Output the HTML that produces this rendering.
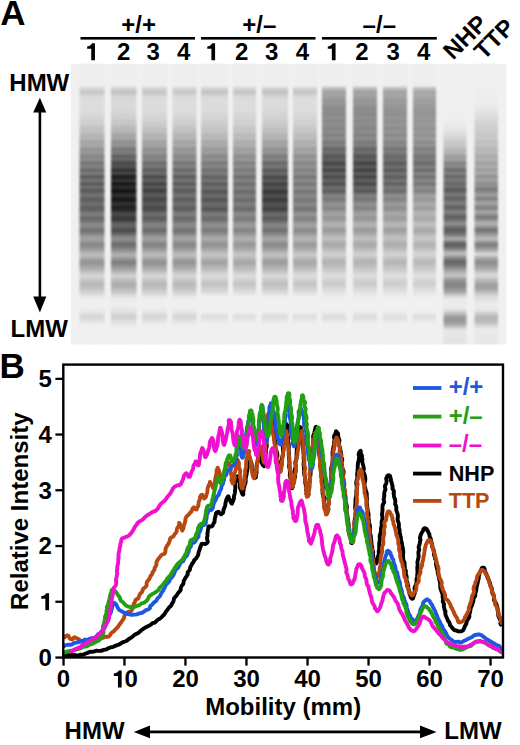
<!DOCTYPE html>
<html><head><meta charset="utf-8"><style>
html,body{margin:0;padding:0;background:#fff;width:520px;height:745px;overflow:hidden;}
svg{display:block;}
</style></head><body>
<svg width="520" height="745" viewBox="0 0 520 745">
<defs><linearGradient id="L0" x1="0" y1="0" x2="0" y2="1"><stop offset="0.0000" stop-color="rgb(238,238,238)"/><stop offset="0.0036" stop-color="rgb(238,238,238)"/><stop offset="0.0071" stop-color="rgb(238,238,238)"/><stop offset="0.0107" stop-color="rgb(238,238,238)"/><stop offset="0.0143" stop-color="rgb(238,238,238)"/><stop offset="0.0179" stop-color="rgb(238,238,238)"/><stop offset="0.0214" stop-color="rgb(238,238,238)"/><stop offset="0.0250" stop-color="rgb(238,238,238)"/><stop offset="0.0286" stop-color="rgb(238,238,238)"/><stop offset="0.0321" stop-color="rgb(238,238,238)"/><stop offset="0.0357" stop-color="rgb(238,238,238)"/><stop offset="0.0393" stop-color="rgb(238,238,238)"/><stop offset="0.0429" stop-color="rgb(238,238,238)"/><stop offset="0.0464" stop-color="rgb(238,238,238)"/><stop offset="0.0500" stop-color="rgb(238,238,238)"/><stop offset="0.0536" stop-color="rgb(238,238,238)"/><stop offset="0.0571" stop-color="rgb(238,238,238)"/><stop offset="0.0607" stop-color="rgb(238,238,238)"/><stop offset="0.0643" stop-color="rgb(238,238,238)"/><stop offset="0.0679" stop-color="rgb(238,238,238)"/><stop offset="0.0714" stop-color="rgb(238,238,238)"/><stop offset="0.0750" stop-color="rgb(238,238,238)"/><stop offset="0.0786" stop-color="rgb(238,238,238)"/><stop offset="0.0821" stop-color="rgb(222,222,222)"/><stop offset="0.0857" stop-color="rgb(218,218,218)"/><stop offset="0.0893" stop-color="rgb(212,212,212)"/><stop offset="0.0929" stop-color="rgb(205,205,205)"/><stop offset="0.0964" stop-color="rgb(200,200,200)"/><stop offset="0.1000" stop-color="rgb(199,199,199)"/><stop offset="0.1036" stop-color="rgb(200,200,200)"/><stop offset="0.1071" stop-color="rgb(204,204,204)"/><stop offset="0.1107" stop-color="rgb(210,210,210)"/><stop offset="0.1143" stop-color="rgb(214,214,214)"/><stop offset="0.1179" stop-color="rgb(217,217,217)"/><stop offset="0.1214" stop-color="rgb(219,219,219)"/><stop offset="0.1250" stop-color="rgb(220,220,220)"/><stop offset="0.1286" stop-color="rgb(220,220,220)"/><stop offset="0.1321" stop-color="rgb(220,220,220)"/><stop offset="0.1357" stop-color="rgb(221,221,221)"/><stop offset="0.1393" stop-color="rgb(221,221,221)"/><stop offset="0.1429" stop-color="rgb(221,221,221)"/><stop offset="0.1464" stop-color="rgb(221,221,221)"/><stop offset="0.1500" stop-color="rgb(220,220,220)"/><stop offset="0.1536" stop-color="rgb(220,220,220)"/><stop offset="0.1571" stop-color="rgb(220,220,220)"/><stop offset="0.1607" stop-color="rgb(220,220,220)"/><stop offset="0.1643" stop-color="rgb(220,220,220)"/><stop offset="0.1679" stop-color="rgb(219,219,219)"/><stop offset="0.1714" stop-color="rgb(218,218,218)"/><stop offset="0.1750" stop-color="rgb(217,217,217)"/><stop offset="0.1786" stop-color="rgb(216,216,216)"/><stop offset="0.1821" stop-color="rgb(216,216,216)"/><stop offset="0.1857" stop-color="rgb(215,215,215)"/><stop offset="0.1893" stop-color="rgb(214,214,214)"/><stop offset="0.1929" stop-color="rgb(213,213,213)"/><stop offset="0.1964" stop-color="rgb(211,211,211)"/><stop offset="0.2000" stop-color="rgb(209,209,209)"/><stop offset="0.2036" stop-color="rgb(207,207,207)"/><stop offset="0.2071" stop-color="rgb(206,206,206)"/><stop offset="0.2107" stop-color="rgb(206,206,206)"/><stop offset="0.2143" stop-color="rgb(205,205,205)"/><stop offset="0.2179" stop-color="rgb(204,204,204)"/><stop offset="0.2214" stop-color="rgb(201,201,201)"/><stop offset="0.2250" stop-color="rgb(197,197,197)"/><stop offset="0.2286" stop-color="rgb(194,194,194)"/><stop offset="0.2321" stop-color="rgb(193,193,193)"/><stop offset="0.2357" stop-color="rgb(193,193,193)"/><stop offset="0.2393" stop-color="rgb(194,194,194)"/><stop offset="0.2429" stop-color="rgb(192,192,192)"/><stop offset="0.2464" stop-color="rgb(188,188,188)"/><stop offset="0.2500" stop-color="rgb(183,183,183)"/><stop offset="0.2536" stop-color="rgb(179,179,179)"/><stop offset="0.2571" stop-color="rgb(179,179,179)"/><stop offset="0.2607" stop-color="rgb(181,181,181)"/><stop offset="0.2643" stop-color="rgb(183,183,183)"/><stop offset="0.2679" stop-color="rgb(181,181,181)"/><stop offset="0.2714" stop-color="rgb(175,175,175)"/><stop offset="0.2750" stop-color="rgb(167,167,167)"/><stop offset="0.2786" stop-color="rgb(162,162,162)"/><stop offset="0.2821" stop-color="rgb(163,163,163)"/><stop offset="0.2857" stop-color="rgb(168,168,168)"/><stop offset="0.2893" stop-color="rgb(170,170,170)"/><stop offset="0.2929" stop-color="rgb(168,168,168)"/><stop offset="0.2964" stop-color="rgb(160,160,160)"/><stop offset="0.3000" stop-color="rgb(151,151,151)"/><stop offset="0.3036" stop-color="rgb(147,147,147)"/><stop offset="0.3071" stop-color="rgb(147,147,147)"/><stop offset="0.3107" stop-color="rgb(151,151,151)"/><stop offset="0.3143" stop-color="rgb(155,155,155)"/><stop offset="0.3179" stop-color="rgb(155,155,155)"/><stop offset="0.3214" stop-color="rgb(147,147,147)"/><stop offset="0.3250" stop-color="rgb(137,137,137)"/><stop offset="0.3286" stop-color="rgb(132,132,132)"/><stop offset="0.3321" stop-color="rgb(133,133,133)"/><stop offset="0.3357" stop-color="rgb(139,139,139)"/><stop offset="0.3393" stop-color="rgb(144,144,144)"/><stop offset="0.3429" stop-color="rgb(142,142,142)"/><stop offset="0.3464" stop-color="rgb(133,133,133)"/><stop offset="0.3500" stop-color="rgb(122,122,122)"/><stop offset="0.3536" stop-color="rgb(116,116,116)"/><stop offset="0.3571" stop-color="rgb(119,119,119)"/><stop offset="0.3607" stop-color="rgb(127,127,127)"/><stop offset="0.3643" stop-color="rgb(132,132,132)"/><stop offset="0.3679" stop-color="rgb(131,131,131)"/><stop offset="0.3714" stop-color="rgb(123,123,123)"/><stop offset="0.3750" stop-color="rgb(110,110,110)"/><stop offset="0.3786" stop-color="rgb(100,100,100)"/><stop offset="0.3821" stop-color="rgb(108,108,108)"/><stop offset="0.3857" stop-color="rgb(120,120,120)"/><stop offset="0.3893" stop-color="rgb(126,126,126)"/><stop offset="0.3929" stop-color="rgb(121,121,121)"/><stop offset="0.3964" stop-color="rgb(109,109,109)"/><stop offset="0.4000" stop-color="rgb(95,95,95)"/><stop offset="0.4036" stop-color="rgb(86,86,86)"/><stop offset="0.4071" stop-color="rgb(95,95,95)"/><stop offset="0.4107" stop-color="rgb(108,108,108)"/><stop offset="0.4143" stop-color="rgb(119,119,119)"/><stop offset="0.4179" stop-color="rgb(119,119,119)"/><stop offset="0.4214" stop-color="rgb(107,107,107)"/><stop offset="0.4250" stop-color="rgb(94,94,94)"/><stop offset="0.4286" stop-color="rgb(84,84,84)"/><stop offset="0.4321" stop-color="rgb(94,94,94)"/><stop offset="0.4357" stop-color="rgb(107,107,107)"/><stop offset="0.4393" stop-color="rgb(119,119,119)"/><stop offset="0.4429" stop-color="rgb(110,110,110)"/><stop offset="0.4464" stop-color="rgb(96,96,96)"/><stop offset="0.4500" stop-color="rgb(84,84,84)"/><stop offset="0.4536" stop-color="rgb(88,88,88)"/><stop offset="0.4571" stop-color="rgb(96,96,96)"/><stop offset="0.4607" stop-color="rgb(104,104,104)"/><stop offset="0.4643" stop-color="rgb(112,112,112)"/><stop offset="0.4679" stop-color="rgb(117,117,117)"/><stop offset="0.4714" stop-color="rgb(116,116,116)"/><stop offset="0.4750" stop-color="rgb(107,107,107)"/><stop offset="0.4786" stop-color="rgb(99,99,99)"/><stop offset="0.4821" stop-color="rgb(92,92,92)"/><stop offset="0.4857" stop-color="rgb(88,88,88)"/><stop offset="0.4893" stop-color="rgb(97,97,97)"/><stop offset="0.4929" stop-color="rgb(105,105,105)"/><stop offset="0.4964" stop-color="rgb(112,112,112)"/><stop offset="0.5000" stop-color="rgb(117,117,117)"/><stop offset="0.5036" stop-color="rgb(109,109,109)"/><stop offset="0.5071" stop-color="rgb(103,103,103)"/><stop offset="0.5107" stop-color="rgb(97,97,97)"/><stop offset="0.5143" stop-color="rgb(90,90,90)"/><stop offset="0.5179" stop-color="rgb(92,92,92)"/><stop offset="0.5214" stop-color="rgb(99,99,99)"/><stop offset="0.5250" stop-color="rgb(106,106,106)"/><stop offset="0.5286" stop-color="rgb(114,114,114)"/><stop offset="0.5321" stop-color="rgb(121,121,121)"/><stop offset="0.5357" stop-color="rgb(129,129,129)"/><stop offset="0.5393" stop-color="rgb(127,127,127)"/><stop offset="0.5429" stop-color="rgb(119,119,119)"/><stop offset="0.5464" stop-color="rgb(111,111,111)"/><stop offset="0.5500" stop-color="rgb(103,103,103)"/><stop offset="0.5536" stop-color="rgb(103,103,103)"/><stop offset="0.5571" stop-color="rgb(110,110,110)"/><stop offset="0.5607" stop-color="rgb(116,116,116)"/><stop offset="0.5643" stop-color="rgb(123,123,123)"/><stop offset="0.5679" stop-color="rgb(130,130,130)"/><stop offset="0.5714" stop-color="rgb(136,136,136)"/><stop offset="0.5750" stop-color="rgb(143,143,143)"/><stop offset="0.5786" stop-color="rgb(139,139,139)"/><stop offset="0.5821" stop-color="rgb(132,132,132)"/><stop offset="0.5857" stop-color="rgb(125,125,125)"/><stop offset="0.5893" stop-color="rgb(119,119,119)"/><stop offset="0.5929" stop-color="rgb(112,112,112)"/><stop offset="0.5964" stop-color="rgb(112,112,112)"/><stop offset="0.6000" stop-color="rgb(119,119,119)"/><stop offset="0.6036" stop-color="rgb(127,127,127)"/><stop offset="0.6071" stop-color="rgb(134,134,134)"/><stop offset="0.6107" stop-color="rgb(142,142,142)"/><stop offset="0.6143" stop-color="rgb(149,149,149)"/><stop offset="0.6179" stop-color="rgb(157,157,157)"/><stop offset="0.6214" stop-color="rgb(164,164,164)"/><stop offset="0.6250" stop-color="rgb(167,167,167)"/><stop offset="0.6286" stop-color="rgb(160,160,160)"/><stop offset="0.6321" stop-color="rgb(154,154,154)"/><stop offset="0.6357" stop-color="rgb(147,147,147)"/><stop offset="0.6393" stop-color="rgb(140,140,140)"/><stop offset="0.6429" stop-color="rgb(133,133,133)"/><stop offset="0.6464" stop-color="rgb(133,133,133)"/><stop offset="0.6500" stop-color="rgb(138,138,138)"/><stop offset="0.6536" stop-color="rgb(143,143,143)"/><stop offset="0.6571" stop-color="rgb(149,149,149)"/><stop offset="0.6607" stop-color="rgb(154,154,154)"/><stop offset="0.6643" stop-color="rgb(160,160,160)"/><stop offset="0.6679" stop-color="rgb(166,166,166)"/><stop offset="0.6714" stop-color="rgb(173,173,173)"/><stop offset="0.6750" stop-color="rgb(179,179,179)"/><stop offset="0.6786" stop-color="rgb(187,187,187)"/><stop offset="0.6821" stop-color="rgb(192,192,192)"/><stop offset="0.6857" stop-color="rgb(185,185,185)"/><stop offset="0.6893" stop-color="rgb(179,179,179)"/><stop offset="0.6929" stop-color="rgb(172,172,172)"/><stop offset="0.6964" stop-color="rgb(165,165,165)"/><stop offset="0.7000" stop-color="rgb(159,159,159)"/><stop offset="0.7036" stop-color="rgb(152,152,152)"/><stop offset="0.7071" stop-color="rgb(144,144,144)"/><stop offset="0.7107" stop-color="rgb(148,148,148)"/><stop offset="0.7143" stop-color="rgb(152,152,152)"/><stop offset="0.7179" stop-color="rgb(157,157,157)"/><stop offset="0.7214" stop-color="rgb(161,161,161)"/><stop offset="0.7250" stop-color="rgb(166,166,166)"/><stop offset="0.7286" stop-color="rgb(171,171,171)"/><stop offset="0.7321" stop-color="rgb(176,176,176)"/><stop offset="0.7357" stop-color="rgb(181,181,181)"/><stop offset="0.7393" stop-color="rgb(187,187,187)"/><stop offset="0.7429" stop-color="rgb(193,193,193)"/><stop offset="0.7464" stop-color="rgb(199,199,199)"/><stop offset="0.7500" stop-color="rgb(206,206,206)"/><stop offset="0.7536" stop-color="rgb(213,213,213)"/><stop offset="0.7571" stop-color="rgb(216,216,216)"/><stop offset="0.7607" stop-color="rgb(212,212,212)"/><stop offset="0.7643" stop-color="rgb(207,207,207)"/><stop offset="0.7679" stop-color="rgb(203,203,203)"/><stop offset="0.7714" stop-color="rgb(199,199,199)"/><stop offset="0.7750" stop-color="rgb(195,195,195)"/><stop offset="0.7786" stop-color="rgb(191,191,191)"/><stop offset="0.7821" stop-color="rgb(188,188,188)"/><stop offset="0.7857" stop-color="rgb(184,184,184)"/><stop offset="0.7893" stop-color="rgb(183,183,183)"/><stop offset="0.7929" stop-color="rgb(187,187,187)"/><stop offset="0.7964" stop-color="rgb(191,191,191)"/><stop offset="0.8000" stop-color="rgb(194,194,194)"/><stop offset="0.8036" stop-color="rgb(198,198,198)"/><stop offset="0.8071" stop-color="rgb(201,201,201)"/><stop offset="0.8107" stop-color="rgb(204,204,204)"/><stop offset="0.8143" stop-color="rgb(208,208,208)"/><stop offset="0.8179" stop-color="rgb(213,213,213)"/><stop offset="0.8214" stop-color="rgb(217,217,217)"/><stop offset="0.8250" stop-color="rgb(222,222,222)"/><stop offset="0.8286" stop-color="rgb(227,227,227)"/><stop offset="0.8321" stop-color="rgb(233,233,233)"/><stop offset="0.8357" stop-color="rgb(236,236,236)"/><stop offset="0.8393" stop-color="rgb(236,236,236)"/><stop offset="0.8429" stop-color="rgb(237,237,237)"/><stop offset="0.8464" stop-color="rgb(238,238,238)"/><stop offset="0.8500" stop-color="rgb(239,239,239)"/><stop offset="0.8536" stop-color="rgb(240,240,240)"/><stop offset="0.8571" stop-color="rgb(240,240,240)"/><stop offset="0.8607" stop-color="rgb(240,240,240)"/><stop offset="0.8643" stop-color="rgb(239,239,239)"/><stop offset="0.8679" stop-color="rgb(238,238,238)"/><stop offset="0.8714" stop-color="rgb(236,236,236)"/><stop offset="0.8750" stop-color="rgb(235,235,235)"/><stop offset="0.8786" stop-color="rgb(233,233,233)"/><stop offset="0.8821" stop-color="rgb(231,231,231)"/><stop offset="0.8857" stop-color="rgb(228,228,228)"/><stop offset="0.8893" stop-color="rgb(225,225,225)"/><stop offset="0.8929" stop-color="rgb(221,221,221)"/><stop offset="0.8964" stop-color="rgb(218,218,218)"/><stop offset="0.9000" stop-color="rgb(215,215,215)"/><stop offset="0.9036" stop-color="rgb(213,213,213)"/><stop offset="0.9071" stop-color="rgb(215,215,215)"/><stop offset="0.9107" stop-color="rgb(219,219,219)"/><stop offset="0.9143" stop-color="rgb(222,222,222)"/><stop offset="0.9179" stop-color="rgb(226,226,226)"/><stop offset="0.9214" stop-color="rgb(230,230,230)"/><stop offset="0.9250" stop-color="rgb(233,233,233)"/><stop offset="0.9286" stop-color="rgb(235,235,235)"/><stop offset="0.9321" stop-color="rgb(237,237,237)"/><stop offset="0.9357" stop-color="rgb(239,239,239)"/><stop offset="0.9393" stop-color="rgb(240,240,240)"/><stop offset="0.9429" stop-color="rgb(240,240,240)"/><stop offset="0.9464" stop-color="rgb(240,240,240)"/><stop offset="0.9500" stop-color="rgb(240,240,240)"/><stop offset="0.9536" stop-color="rgb(240,240,240)"/><stop offset="0.9571" stop-color="rgb(240,240,240)"/><stop offset="0.9607" stop-color="rgb(240,240,240)"/><stop offset="0.9643" stop-color="rgb(240,240,240)"/><stop offset="0.9679" stop-color="rgb(240,240,240)"/><stop offset="0.9714" stop-color="rgb(240,240,240)"/><stop offset="0.9750" stop-color="rgb(240,240,240)"/><stop offset="0.9786" stop-color="rgb(240,240,240)"/><stop offset="0.9821" stop-color="rgb(240,240,240)"/><stop offset="0.9857" stop-color="rgb(240,240,240)"/><stop offset="0.9893" stop-color="rgb(240,240,240)"/><stop offset="0.9929" stop-color="rgb(240,240,240)"/><stop offset="0.9964" stop-color="rgb(240,240,240)"/><stop offset="1.0000" stop-color="rgb(240,240,240)"/></linearGradient><linearGradient id="L1" x1="0" y1="0" x2="0" y2="1"><stop offset="0.0000" stop-color="rgb(238,238,238)"/><stop offset="0.0036" stop-color="rgb(238,238,238)"/><stop offset="0.0071" stop-color="rgb(238,238,238)"/><stop offset="0.0107" stop-color="rgb(238,238,238)"/><stop offset="0.0143" stop-color="rgb(238,238,238)"/><stop offset="0.0179" stop-color="rgb(238,238,238)"/><stop offset="0.0214" stop-color="rgb(238,238,238)"/><stop offset="0.0250" stop-color="rgb(238,238,238)"/><stop offset="0.0286" stop-color="rgb(238,238,238)"/><stop offset="0.0321" stop-color="rgb(238,238,238)"/><stop offset="0.0357" stop-color="rgb(238,238,238)"/><stop offset="0.0393" stop-color="rgb(238,238,238)"/><stop offset="0.0429" stop-color="rgb(238,238,238)"/><stop offset="0.0464" stop-color="rgb(238,238,238)"/><stop offset="0.0500" stop-color="rgb(238,238,238)"/><stop offset="0.0536" stop-color="rgb(238,238,238)"/><stop offset="0.0571" stop-color="rgb(238,238,238)"/><stop offset="0.0607" stop-color="rgb(238,238,238)"/><stop offset="0.0643" stop-color="rgb(238,238,238)"/><stop offset="0.0679" stop-color="rgb(238,238,238)"/><stop offset="0.0714" stop-color="rgb(238,238,238)"/><stop offset="0.0750" stop-color="rgb(238,238,238)"/><stop offset="0.0786" stop-color="rgb(238,238,238)"/><stop offset="0.0821" stop-color="rgb(219,219,219)"/><stop offset="0.0857" stop-color="rgb(215,215,215)"/><stop offset="0.0893" stop-color="rgb(208,208,208)"/><stop offset="0.0929" stop-color="rgb(201,201,201)"/><stop offset="0.0964" stop-color="rgb(196,196,196)"/><stop offset="0.1000" stop-color="rgb(194,194,194)"/><stop offset="0.1036" stop-color="rgb(195,195,195)"/><stop offset="0.1071" stop-color="rgb(198,198,198)"/><stop offset="0.1107" stop-color="rgb(205,205,205)"/><stop offset="0.1143" stop-color="rgb(210,210,210)"/><stop offset="0.1179" stop-color="rgb(213,213,213)"/><stop offset="0.1214" stop-color="rgb(215,215,215)"/><stop offset="0.1250" stop-color="rgb(215,215,215)"/><stop offset="0.1286" stop-color="rgb(216,216,216)"/><stop offset="0.1321" stop-color="rgb(216,216,216)"/><stop offset="0.1357" stop-color="rgb(217,217,217)"/><stop offset="0.1393" stop-color="rgb(217,217,217)"/><stop offset="0.1429" stop-color="rgb(217,217,217)"/><stop offset="0.1464" stop-color="rgb(217,217,217)"/><stop offset="0.1500" stop-color="rgb(216,216,216)"/><stop offset="0.1536" stop-color="rgb(216,216,216)"/><stop offset="0.1571" stop-color="rgb(216,216,216)"/><stop offset="0.1607" stop-color="rgb(215,215,215)"/><stop offset="0.1643" stop-color="rgb(215,215,215)"/><stop offset="0.1679" stop-color="rgb(215,215,215)"/><stop offset="0.1714" stop-color="rgb(214,214,214)"/><stop offset="0.1750" stop-color="rgb(212,212,212)"/><stop offset="0.1786" stop-color="rgb(211,211,211)"/><stop offset="0.1821" stop-color="rgb(210,210,210)"/><stop offset="0.1857" stop-color="rgb(210,210,210)"/><stop offset="0.1893" stop-color="rgb(209,209,209)"/><stop offset="0.1929" stop-color="rgb(207,207,207)"/><stop offset="0.1964" stop-color="rgb(205,205,205)"/><stop offset="0.2000" stop-color="rgb(202,202,202)"/><stop offset="0.2036" stop-color="rgb(200,200,200)"/><stop offset="0.2071" stop-color="rgb(198,198,198)"/><stop offset="0.2107" stop-color="rgb(198,198,198)"/><stop offset="0.2143" stop-color="rgb(197,197,197)"/><stop offset="0.2179" stop-color="rgb(195,195,195)"/><stop offset="0.2214" stop-color="rgb(191,191,191)"/><stop offset="0.2250" stop-color="rgb(187,187,187)"/><stop offset="0.2286" stop-color="rgb(183,183,183)"/><stop offset="0.2321" stop-color="rgb(182,182,182)"/><stop offset="0.2357" stop-color="rgb(182,182,182)"/><stop offset="0.2393" stop-color="rgb(183,183,183)"/><stop offset="0.2429" stop-color="rgb(181,181,181)"/><stop offset="0.2464" stop-color="rgb(175,175,175)"/><stop offset="0.2500" stop-color="rgb(168,168,168)"/><stop offset="0.2536" stop-color="rgb(164,164,164)"/><stop offset="0.2571" stop-color="rgb(163,163,163)"/><stop offset="0.2607" stop-color="rgb(166,166,166)"/><stop offset="0.2643" stop-color="rgb(168,168,168)"/><stop offset="0.2679" stop-color="rgb(165,165,165)"/><stop offset="0.2714" stop-color="rgb(157,157,157)"/><stop offset="0.2750" stop-color="rgb(147,147,147)"/><stop offset="0.2786" stop-color="rgb(141,141,141)"/><stop offset="0.2821" stop-color="rgb(142,142,142)"/><stop offset="0.2857" stop-color="rgb(147,147,147)"/><stop offset="0.2893" stop-color="rgb(150,150,150)"/><stop offset="0.2929" stop-color="rgb(147,147,147)"/><stop offset="0.2964" stop-color="rgb(136,136,136)"/><stop offset="0.3000" stop-color="rgb(125,125,125)"/><stop offset="0.3036" stop-color="rgb(118,118,118)"/><stop offset="0.3071" stop-color="rgb(118,118,118)"/><stop offset="0.3107" stop-color="rgb(123,123,123)"/><stop offset="0.3143" stop-color="rgb(128,128,128)"/><stop offset="0.3179" stop-color="rgb(127,127,127)"/><stop offset="0.3214" stop-color="rgb(116,116,116)"/><stop offset="0.3250" stop-color="rgb(102,102,102)"/><stop offset="0.3286" stop-color="rgb(94,94,94)"/><stop offset="0.3321" stop-color="rgb(96,96,96)"/><stop offset="0.3357" stop-color="rgb(103,103,103)"/><stop offset="0.3393" stop-color="rgb(109,109,109)"/><stop offset="0.3429" stop-color="rgb(105,105,105)"/><stop offset="0.3464" stop-color="rgb(93,93,93)"/><stop offset="0.3500" stop-color="rgb(78,78,78)"/><stop offset="0.3536" stop-color="rgb(69,69,69)"/><stop offset="0.3571" stop-color="rgb(72,72,72)"/><stop offset="0.3607" stop-color="rgb(81,81,81)"/><stop offset="0.3643" stop-color="rgb(89,89,89)"/><stop offset="0.3679" stop-color="rgb(86,86,86)"/><stop offset="0.3714" stop-color="rgb(74,74,74)"/><stop offset="0.3750" stop-color="rgb(56,56,56)"/><stop offset="0.3786" stop-color="rgb(41,41,41)"/><stop offset="0.3821" stop-color="rgb(50,50,50)"/><stop offset="0.3857" stop-color="rgb(66,66,66)"/><stop offset="0.3893" stop-color="rgb(74,74,74)"/><stop offset="0.3929" stop-color="rgb(66,66,66)"/><stop offset="0.3964" stop-color="rgb(49,49,49)"/><stop offset="0.4000" stop-color="rgb(30,30,30)"/><stop offset="0.4036" stop-color="rgb(25,25,25)"/><stop offset="0.4071" stop-color="rgb(28,28,28)"/><stop offset="0.4107" stop-color="rgb(44,44,44)"/><stop offset="0.4143" stop-color="rgb(58,58,58)"/><stop offset="0.4179" stop-color="rgb(58,58,58)"/><stop offset="0.4214" stop-color="rgb(41,41,41)"/><stop offset="0.4250" stop-color="rgb(25,25,25)"/><stop offset="0.4286" stop-color="rgb(25,25,25)"/><stop offset="0.4321" stop-color="rgb(25,25,25)"/><stop offset="0.4357" stop-color="rgb(39,39,39)"/><stop offset="0.4393" stop-color="rgb(55,55,55)"/><stop offset="0.4429" stop-color="rgb(42,42,42)"/><stop offset="0.4464" stop-color="rgb(25,25,25)"/><stop offset="0.4500" stop-color="rgb(25,25,25)"/><stop offset="0.4536" stop-color="rgb(25,25,25)"/><stop offset="0.4571" stop-color="rgb(25,25,25)"/><stop offset="0.4607" stop-color="rgb(34,34,34)"/><stop offset="0.4643" stop-color="rgb(44,44,44)"/><stop offset="0.4679" stop-color="rgb(51,51,51)"/><stop offset="0.4714" stop-color="rgb(48,48,48)"/><stop offset="0.4750" stop-color="rgb(37,37,37)"/><stop offset="0.4786" stop-color="rgb(28,28,28)"/><stop offset="0.4821" stop-color="rgb(25,25,25)"/><stop offset="0.4857" stop-color="rgb(25,25,25)"/><stop offset="0.4893" stop-color="rgb(28,28,28)"/><stop offset="0.4929" stop-color="rgb(38,38,38)"/><stop offset="0.4964" stop-color="rgb(48,48,48)"/><stop offset="0.5000" stop-color="rgb(54,54,54)"/><stop offset="0.5036" stop-color="rgb(46,46,46)"/><stop offset="0.5071" stop-color="rgb(39,39,39)"/><stop offset="0.5107" stop-color="rgb(32,32,32)"/><stop offset="0.5143" stop-color="rgb(25,25,25)"/><stop offset="0.5179" stop-color="rgb(28,28,28)"/><stop offset="0.5214" stop-color="rgb(38,38,38)"/><stop offset="0.5250" stop-color="rgb(47,47,47)"/><stop offset="0.5286" stop-color="rgb(58,58,58)"/><stop offset="0.5321" stop-color="rgb(68,68,68)"/><stop offset="0.5357" stop-color="rgb(79,79,79)"/><stop offset="0.5393" stop-color="rgb(77,77,77)"/><stop offset="0.5429" stop-color="rgb(69,69,69)"/><stop offset="0.5464" stop-color="rgb(60,60,60)"/><stop offset="0.5500" stop-color="rgb(51,51,51)"/><stop offset="0.5536" stop-color="rgb(52,52,52)"/><stop offset="0.5571" stop-color="rgb(61,61,61)"/><stop offset="0.5607" stop-color="rgb(70,70,70)"/><stop offset="0.5643" stop-color="rgb(80,80,80)"/><stop offset="0.5679" stop-color="rgb(89,89,89)"/><stop offset="0.5714" stop-color="rgb(98,98,98)"/><stop offset="0.5750" stop-color="rgb(107,107,107)"/><stop offset="0.5786" stop-color="rgb(103,103,103)"/><stop offset="0.5821" stop-color="rgb(96,96,96)"/><stop offset="0.5857" stop-color="rgb(88,88,88)"/><stop offset="0.5893" stop-color="rgb(81,81,81)"/><stop offset="0.5929" stop-color="rgb(73,73,73)"/><stop offset="0.5964" stop-color="rgb(74,74,74)"/><stop offset="0.6000" stop-color="rgb(84,84,84)"/><stop offset="0.6036" stop-color="rgb(93,93,93)"/><stop offset="0.6071" stop-color="rgb(103,103,103)"/><stop offset="0.6107" stop-color="rgb(113,113,113)"/><stop offset="0.6143" stop-color="rgb(123,123,123)"/><stop offset="0.6179" stop-color="rgb(132,132,132)"/><stop offset="0.6214" stop-color="rgb(142,142,142)"/><stop offset="0.6250" stop-color="rgb(146,146,146)"/><stop offset="0.6286" stop-color="rgb(139,139,139)"/><stop offset="0.6321" stop-color="rgb(131,131,131)"/><stop offset="0.6357" stop-color="rgb(123,123,123)"/><stop offset="0.6393" stop-color="rgb(115,115,115)"/><stop offset="0.6429" stop-color="rgb(107,107,107)"/><stop offset="0.6464" stop-color="rgb(107,107,107)"/><stop offset="0.6500" stop-color="rgb(113,113,113)"/><stop offset="0.6536" stop-color="rgb(120,120,120)"/><stop offset="0.6571" stop-color="rgb(127,127,127)"/><stop offset="0.6607" stop-color="rgb(134,134,134)"/><stop offset="0.6643" stop-color="rgb(141,141,141)"/><stop offset="0.6679" stop-color="rgb(149,149,149)"/><stop offset="0.6714" stop-color="rgb(157,157,157)"/><stop offset="0.6750" stop-color="rgb(165,165,165)"/><stop offset="0.6786" stop-color="rgb(174,174,174)"/><stop offset="0.6821" stop-color="rgb(181,181,181)"/><stop offset="0.6857" stop-color="rgb(173,173,173)"/><stop offset="0.6893" stop-color="rgb(165,165,165)"/><stop offset="0.6929" stop-color="rgb(157,157,157)"/><stop offset="0.6964" stop-color="rgb(149,149,149)"/><stop offset="0.7000" stop-color="rgb(141,141,141)"/><stop offset="0.7036" stop-color="rgb(132,132,132)"/><stop offset="0.7071" stop-color="rgb(124,124,124)"/><stop offset="0.7107" stop-color="rgb(128,128,128)"/><stop offset="0.7143" stop-color="rgb(133,133,133)"/><stop offset="0.7179" stop-color="rgb(139,139,139)"/><stop offset="0.7214" stop-color="rgb(145,145,145)"/><stop offset="0.7250" stop-color="rgb(151,151,151)"/><stop offset="0.7286" stop-color="rgb(156,156,156)"/><stop offset="0.7321" stop-color="rgb(162,162,162)"/><stop offset="0.7357" stop-color="rgb(169,169,169)"/><stop offset="0.7393" stop-color="rgb(175,175,175)"/><stop offset="0.7429" stop-color="rgb(183,183,183)"/><stop offset="0.7464" stop-color="rgb(190,190,190)"/><stop offset="0.7500" stop-color="rgb(198,198,198)"/><stop offset="0.7536" stop-color="rgb(206,206,206)"/><stop offset="0.7571" stop-color="rgb(211,211,211)"/><stop offset="0.7607" stop-color="rgb(205,205,205)"/><stop offset="0.7643" stop-color="rgb(200,200,200)"/><stop offset="0.7679" stop-color="rgb(195,195,195)"/><stop offset="0.7714" stop-color="rgb(189,189,189)"/><stop offset="0.7750" stop-color="rgb(185,185,185)"/><stop offset="0.7786" stop-color="rgb(180,180,180)"/><stop offset="0.7821" stop-color="rgb(175,175,175)"/><stop offset="0.7857" stop-color="rgb(171,171,171)"/><stop offset="0.7893" stop-color="rgb(170,170,170)"/><stop offset="0.7929" stop-color="rgb(174,174,174)"/><stop offset="0.7964" stop-color="rgb(179,179,179)"/><stop offset="0.8000" stop-color="rgb(183,183,183)"/><stop offset="0.8036" stop-color="rgb(187,187,187)"/><stop offset="0.8071" stop-color="rgb(191,191,191)"/><stop offset="0.8107" stop-color="rgb(194,194,194)"/><stop offset="0.8143" stop-color="rgb(199,199,199)"/><stop offset="0.8179" stop-color="rgb(205,205,205)"/><stop offset="0.8214" stop-color="rgb(210,210,210)"/><stop offset="0.8250" stop-color="rgb(216,216,216)"/><stop offset="0.8286" stop-color="rgb(222,222,222)"/><stop offset="0.8321" stop-color="rgb(228,228,228)"/><stop offset="0.8357" stop-color="rgb(231,231,231)"/><stop offset="0.8393" stop-color="rgb(232,232,232)"/><stop offset="0.8429" stop-color="rgb(233,233,233)"/><stop offset="0.8464" stop-color="rgb(234,234,234)"/><stop offset="0.8500" stop-color="rgb(235,235,235)"/><stop offset="0.8536" stop-color="rgb(236,236,236)"/><stop offset="0.8571" stop-color="rgb(238,238,238)"/><stop offset="0.8607" stop-color="rgb(237,237,237)"/><stop offset="0.8643" stop-color="rgb(236,236,236)"/><stop offset="0.8679" stop-color="rgb(234,234,234)"/><stop offset="0.8714" stop-color="rgb(232,232,232)"/><stop offset="0.8750" stop-color="rgb(231,231,231)"/><stop offset="0.8786" stop-color="rgb(229,229,229)"/><stop offset="0.8821" stop-color="rgb(226,226,226)"/><stop offset="0.8857" stop-color="rgb(223,223,223)"/><stop offset="0.8893" stop-color="rgb(219,219,219)"/><stop offset="0.8929" stop-color="rgb(215,215,215)"/><stop offset="0.8964" stop-color="rgb(212,212,212)"/><stop offset="0.9000" stop-color="rgb(208,208,208)"/><stop offset="0.9036" stop-color="rgb(207,207,207)"/><stop offset="0.9071" stop-color="rgb(209,209,209)"/><stop offset="0.9107" stop-color="rgb(213,213,213)"/><stop offset="0.9143" stop-color="rgb(217,217,217)"/><stop offset="0.9179" stop-color="rgb(221,221,221)"/><stop offset="0.9214" stop-color="rgb(225,225,225)"/><stop offset="0.9250" stop-color="rgb(228,228,228)"/><stop offset="0.9286" stop-color="rgb(231,231,231)"/><stop offset="0.9321" stop-color="rgb(233,233,233)"/><stop offset="0.9357" stop-color="rgb(235,235,235)"/><stop offset="0.9393" stop-color="rgb(237,237,237)"/><stop offset="0.9429" stop-color="rgb(239,239,239)"/><stop offset="0.9464" stop-color="rgb(240,240,240)"/><stop offset="0.9500" stop-color="rgb(240,240,240)"/><stop offset="0.9536" stop-color="rgb(240,240,240)"/><stop offset="0.9571" stop-color="rgb(240,240,240)"/><stop offset="0.9607" stop-color="rgb(240,240,240)"/><stop offset="0.9643" stop-color="rgb(240,240,240)"/><stop offset="0.9679" stop-color="rgb(240,240,240)"/><stop offset="0.9714" stop-color="rgb(240,240,240)"/><stop offset="0.9750" stop-color="rgb(240,240,240)"/><stop offset="0.9786" stop-color="rgb(240,240,240)"/><stop offset="0.9821" stop-color="rgb(240,240,240)"/><stop offset="0.9857" stop-color="rgb(240,240,240)"/><stop offset="0.9893" stop-color="rgb(240,240,240)"/><stop offset="0.9929" stop-color="rgb(240,240,240)"/><stop offset="0.9964" stop-color="rgb(240,240,240)"/><stop offset="1.0000" stop-color="rgb(240,240,240)"/></linearGradient><linearGradient id="L2" x1="0" y1="0" x2="0" y2="1"><stop offset="0.0000" stop-color="rgb(238,238,238)"/><stop offset="0.0036" stop-color="rgb(238,238,238)"/><stop offset="0.0071" stop-color="rgb(238,238,238)"/><stop offset="0.0107" stop-color="rgb(238,238,238)"/><stop offset="0.0143" stop-color="rgb(238,238,238)"/><stop offset="0.0179" stop-color="rgb(238,238,238)"/><stop offset="0.0214" stop-color="rgb(238,238,238)"/><stop offset="0.0250" stop-color="rgb(238,238,238)"/><stop offset="0.0286" stop-color="rgb(238,238,238)"/><stop offset="0.0321" stop-color="rgb(238,238,238)"/><stop offset="0.0357" stop-color="rgb(238,238,238)"/><stop offset="0.0393" stop-color="rgb(238,238,238)"/><stop offset="0.0429" stop-color="rgb(238,238,238)"/><stop offset="0.0464" stop-color="rgb(238,238,238)"/><stop offset="0.0500" stop-color="rgb(238,238,238)"/><stop offset="0.0536" stop-color="rgb(238,238,238)"/><stop offset="0.0571" stop-color="rgb(238,238,238)"/><stop offset="0.0607" stop-color="rgb(238,238,238)"/><stop offset="0.0643" stop-color="rgb(238,238,238)"/><stop offset="0.0679" stop-color="rgb(238,238,238)"/><stop offset="0.0714" stop-color="rgb(238,238,238)"/><stop offset="0.0750" stop-color="rgb(238,238,238)"/><stop offset="0.0786" stop-color="rgb(238,238,238)"/><stop offset="0.0821" stop-color="rgb(222,222,222)"/><stop offset="0.0857" stop-color="rgb(218,218,218)"/><stop offset="0.0893" stop-color="rgb(211,211,211)"/><stop offset="0.0929" stop-color="rgb(205,205,205)"/><stop offset="0.0964" stop-color="rgb(200,200,200)"/><stop offset="0.1000" stop-color="rgb(198,198,198)"/><stop offset="0.1036" stop-color="rgb(199,199,199)"/><stop offset="0.1071" stop-color="rgb(203,203,203)"/><stop offset="0.1107" stop-color="rgb(209,209,209)"/><stop offset="0.1143" stop-color="rgb(214,214,214)"/><stop offset="0.1179" stop-color="rgb(217,217,217)"/><stop offset="0.1214" stop-color="rgb(219,219,219)"/><stop offset="0.1250" stop-color="rgb(219,219,219)"/><stop offset="0.1286" stop-color="rgb(220,220,220)"/><stop offset="0.1321" stop-color="rgb(220,220,220)"/><stop offset="0.1357" stop-color="rgb(220,220,220)"/><stop offset="0.1393" stop-color="rgb(221,221,221)"/><stop offset="0.1429" stop-color="rgb(220,220,220)"/><stop offset="0.1464" stop-color="rgb(220,220,220)"/><stop offset="0.1500" stop-color="rgb(220,220,220)"/><stop offset="0.1536" stop-color="rgb(220,220,220)"/><stop offset="0.1571" stop-color="rgb(219,219,219)"/><stop offset="0.1607" stop-color="rgb(219,219,219)"/><stop offset="0.1643" stop-color="rgb(219,219,219)"/><stop offset="0.1679" stop-color="rgb(219,219,219)"/><stop offset="0.1714" stop-color="rgb(218,218,218)"/><stop offset="0.1750" stop-color="rgb(217,217,217)"/><stop offset="0.1786" stop-color="rgb(216,216,216)"/><stop offset="0.1821" stop-color="rgb(215,215,215)"/><stop offset="0.1857" stop-color="rgb(215,215,215)"/><stop offset="0.1893" stop-color="rgb(214,214,214)"/><stop offset="0.1929" stop-color="rgb(213,213,213)"/><stop offset="0.1964" stop-color="rgb(211,211,211)"/><stop offset="0.2000" stop-color="rgb(208,208,208)"/><stop offset="0.2036" stop-color="rgb(206,206,206)"/><stop offset="0.2071" stop-color="rgb(205,205,205)"/><stop offset="0.2107" stop-color="rgb(205,205,205)"/><stop offset="0.2143" stop-color="rgb(204,204,204)"/><stop offset="0.2179" stop-color="rgb(203,203,203)"/><stop offset="0.2214" stop-color="rgb(200,200,200)"/><stop offset="0.2250" stop-color="rgb(196,196,196)"/><stop offset="0.2286" stop-color="rgb(193,193,193)"/><stop offset="0.2321" stop-color="rgb(192,192,192)"/><stop offset="0.2357" stop-color="rgb(192,192,192)"/><stop offset="0.2393" stop-color="rgb(193,193,193)"/><stop offset="0.2429" stop-color="rgb(191,191,191)"/><stop offset="0.2464" stop-color="rgb(187,187,187)"/><stop offset="0.2500" stop-color="rgb(181,181,181)"/><stop offset="0.2536" stop-color="rgb(177,177,177)"/><stop offset="0.2571" stop-color="rgb(177,177,177)"/><stop offset="0.2607" stop-color="rgb(179,179,179)"/><stop offset="0.2643" stop-color="rgb(181,181,181)"/><stop offset="0.2679" stop-color="rgb(179,179,179)"/><stop offset="0.2714" stop-color="rgb(173,173,173)"/><stop offset="0.2750" stop-color="rgb(165,165,165)"/><stop offset="0.2786" stop-color="rgb(160,160,160)"/><stop offset="0.2821" stop-color="rgb(161,161,161)"/><stop offset="0.2857" stop-color="rgb(165,165,165)"/><stop offset="0.2893" stop-color="rgb(168,168,168)"/><stop offset="0.2929" stop-color="rgb(165,165,165)"/><stop offset="0.2964" stop-color="rgb(157,157,157)"/><stop offset="0.3000" stop-color="rgb(148,148,148)"/><stop offset="0.3036" stop-color="rgb(143,143,143)"/><stop offset="0.3071" stop-color="rgb(144,144,144)"/><stop offset="0.3107" stop-color="rgb(147,147,147)"/><stop offset="0.3143" stop-color="rgb(152,152,152)"/><stop offset="0.3179" stop-color="rgb(151,151,151)"/><stop offset="0.3214" stop-color="rgb(143,143,143)"/><stop offset="0.3250" stop-color="rgb(132,132,132)"/><stop offset="0.3286" stop-color="rgb(126,126,126)"/><stop offset="0.3321" stop-color="rgb(127,127,127)"/><stop offset="0.3357" stop-color="rgb(133,133,133)"/><stop offset="0.3393" stop-color="rgb(138,138,138)"/><stop offset="0.3429" stop-color="rgb(135,135,135)"/><stop offset="0.3464" stop-color="rgb(126,126,126)"/><stop offset="0.3500" stop-color="rgb(114,114,114)"/><stop offset="0.3536" stop-color="rgb(107,107,107)"/><stop offset="0.3571" stop-color="rgb(110,110,110)"/><stop offset="0.3607" stop-color="rgb(118,118,118)"/><stop offset="0.3643" stop-color="rgb(123,123,123)"/><stop offset="0.3679" stop-color="rgb(122,122,122)"/><stop offset="0.3714" stop-color="rgb(113,113,113)"/><stop offset="0.3750" stop-color="rgb(98,98,98)"/><stop offset="0.3786" stop-color="rgb(87,87,87)"/><stop offset="0.3821" stop-color="rgb(94,94,94)"/><stop offset="0.3857" stop-color="rgb(107,107,107)"/><stop offset="0.3893" stop-color="rgb(114,114,114)"/><stop offset="0.3929" stop-color="rgb(107,107,107)"/><stop offset="0.3964" stop-color="rgb(94,94,94)"/><stop offset="0.4000" stop-color="rgb(78,78,78)"/><stop offset="0.4036" stop-color="rgb(68,68,68)"/><stop offset="0.4071" stop-color="rgb(77,77,77)"/><stop offset="0.4107" stop-color="rgb(90,90,90)"/><stop offset="0.4143" stop-color="rgb(101,101,101)"/><stop offset="0.4179" stop-color="rgb(101,101,101)"/><stop offset="0.4214" stop-color="rgb(88,88,88)"/><stop offset="0.4250" stop-color="rgb(73,73,73)"/><stop offset="0.4286" stop-color="rgb(62,62,62)"/><stop offset="0.4321" stop-color="rgb(72,72,72)"/><stop offset="0.4357" stop-color="rgb(86,86,86)"/><stop offset="0.4393" stop-color="rgb(98,98,98)"/><stop offset="0.4429" stop-color="rgb(88,88,88)"/><stop offset="0.4464" stop-color="rgb(74,74,74)"/><stop offset="0.4500" stop-color="rgb(59,59,59)"/><stop offset="0.4536" stop-color="rgb(64,64,64)"/><stop offset="0.4571" stop-color="rgb(71,71,71)"/><stop offset="0.4607" stop-color="rgb(81,81,81)"/><stop offset="0.4643" stop-color="rgb(89,89,89)"/><stop offset="0.4679" stop-color="rgb(94,94,94)"/><stop offset="0.4714" stop-color="rgb(92,92,92)"/><stop offset="0.4750" stop-color="rgb(83,83,83)"/><stop offset="0.4786" stop-color="rgb(75,75,75)"/><stop offset="0.4821" stop-color="rgb(68,68,68)"/><stop offset="0.4857" stop-color="rgb(64,64,64)"/><stop offset="0.4893" stop-color="rgb(74,74,74)"/><stop offset="0.4929" stop-color="rgb(83,83,83)"/><stop offset="0.4964" stop-color="rgb(90,90,90)"/><stop offset="0.5000" stop-color="rgb(95,95,95)"/><stop offset="0.5036" stop-color="rgb(88,88,88)"/><stop offset="0.5071" stop-color="rgb(82,82,82)"/><stop offset="0.5107" stop-color="rgb(76,76,76)"/><stop offset="0.5143" stop-color="rgb(70,70,70)"/><stop offset="0.5179" stop-color="rgb(73,73,73)"/><stop offset="0.5214" stop-color="rgb(80,80,80)"/><stop offset="0.5250" stop-color="rgb(88,88,88)"/><stop offset="0.5286" stop-color="rgb(96,96,96)"/><stop offset="0.5321" stop-color="rgb(105,105,105)"/><stop offset="0.5357" stop-color="rgb(114,114,114)"/><stop offset="0.5393" stop-color="rgb(112,112,112)"/><stop offset="0.5429" stop-color="rgb(105,105,105)"/><stop offset="0.5464" stop-color="rgb(97,97,97)"/><stop offset="0.5500" stop-color="rgb(89,89,89)"/><stop offset="0.5536" stop-color="rgb(90,90,90)"/><stop offset="0.5571" stop-color="rgb(98,98,98)"/><stop offset="0.5607" stop-color="rgb(105,105,105)"/><stop offset="0.5643" stop-color="rgb(112,112,112)"/><stop offset="0.5679" stop-color="rgb(120,120,120)"/><stop offset="0.5714" stop-color="rgb(127,127,127)"/><stop offset="0.5750" stop-color="rgb(135,135,135)"/><stop offset="0.5786" stop-color="rgb(131,131,131)"/><stop offset="0.5821" stop-color="rgb(124,124,124)"/><stop offset="0.5857" stop-color="rgb(118,118,118)"/><stop offset="0.5893" stop-color="rgb(111,111,111)"/><stop offset="0.5929" stop-color="rgb(105,105,105)"/><stop offset="0.5964" stop-color="rgb(105,105,105)"/><stop offset="0.6000" stop-color="rgb(113,113,113)"/><stop offset="0.6036" stop-color="rgb(121,121,121)"/><stop offset="0.6071" stop-color="rgb(129,129,129)"/><stop offset="0.6107" stop-color="rgb(137,137,137)"/><stop offset="0.6143" stop-color="rgb(145,145,145)"/><stop offset="0.6179" stop-color="rgb(153,153,153)"/><stop offset="0.6214" stop-color="rgb(161,161,161)"/><stop offset="0.6250" stop-color="rgb(164,164,164)"/><stop offset="0.6286" stop-color="rgb(157,157,157)"/><stop offset="0.6321" stop-color="rgb(151,151,151)"/><stop offset="0.6357" stop-color="rgb(144,144,144)"/><stop offset="0.6393" stop-color="rgb(137,137,137)"/><stop offset="0.6429" stop-color="rgb(130,130,130)"/><stop offset="0.6464" stop-color="rgb(130,130,130)"/><stop offset="0.6500" stop-color="rgb(135,135,135)"/><stop offset="0.6536" stop-color="rgb(140,140,140)"/><stop offset="0.6571" stop-color="rgb(146,146,146)"/><stop offset="0.6607" stop-color="rgb(152,152,152)"/><stop offset="0.6643" stop-color="rgb(158,158,158)"/><stop offset="0.6679" stop-color="rgb(164,164,164)"/><stop offset="0.6714" stop-color="rgb(171,171,171)"/><stop offset="0.6750" stop-color="rgb(178,178,178)"/><stop offset="0.6786" stop-color="rgb(185,185,185)"/><stop offset="0.6821" stop-color="rgb(191,191,191)"/><stop offset="0.6857" stop-color="rgb(184,184,184)"/><stop offset="0.6893" stop-color="rgb(177,177,177)"/><stop offset="0.6929" stop-color="rgb(171,171,171)"/><stop offset="0.6964" stop-color="rgb(164,164,164)"/><stop offset="0.7000" stop-color="rgb(157,157,157)"/><stop offset="0.7036" stop-color="rgb(150,150,150)"/><stop offset="0.7071" stop-color="rgb(142,142,142)"/><stop offset="0.7107" stop-color="rgb(145,145,145)"/><stop offset="0.7143" stop-color="rgb(150,150,150)"/><stop offset="0.7179" stop-color="rgb(155,155,155)"/><stop offset="0.7214" stop-color="rgb(160,160,160)"/><stop offset="0.7250" stop-color="rgb(165,165,165)"/><stop offset="0.7286" stop-color="rgb(169,169,169)"/><stop offset="0.7321" stop-color="rgb(174,174,174)"/><stop offset="0.7357" stop-color="rgb(180,180,180)"/><stop offset="0.7393" stop-color="rgb(186,186,186)"/><stop offset="0.7429" stop-color="rgb(192,192,192)"/><stop offset="0.7464" stop-color="rgb(198,198,198)"/><stop offset="0.7500" stop-color="rgb(205,205,205)"/><stop offset="0.7536" stop-color="rgb(212,212,212)"/><stop offset="0.7571" stop-color="rgb(216,216,216)"/><stop offset="0.7607" stop-color="rgb(211,211,211)"/><stop offset="0.7643" stop-color="rgb(207,207,207)"/><stop offset="0.7679" stop-color="rgb(202,202,202)"/><stop offset="0.7714" stop-color="rgb(198,198,198)"/><stop offset="0.7750" stop-color="rgb(194,194,194)"/><stop offset="0.7786" stop-color="rgb(190,190,190)"/><stop offset="0.7821" stop-color="rgb(186,186,186)"/><stop offset="0.7857" stop-color="rgb(182,182,182)"/><stop offset="0.7893" stop-color="rgb(182,182,182)"/><stop offset="0.7929" stop-color="rgb(186,186,186)"/><stop offset="0.7964" stop-color="rgb(189,189,189)"/><stop offset="0.8000" stop-color="rgb(193,193,193)"/><stop offset="0.8036" stop-color="rgb(196,196,196)"/><stop offset="0.8071" stop-color="rgb(200,200,200)"/><stop offset="0.8107" stop-color="rgb(203,203,203)"/><stop offset="0.8143" stop-color="rgb(207,207,207)"/><stop offset="0.8179" stop-color="rgb(212,212,212)"/><stop offset="0.8214" stop-color="rgb(217,217,217)"/><stop offset="0.8250" stop-color="rgb(222,222,222)"/><stop offset="0.8286" stop-color="rgb(227,227,227)"/><stop offset="0.8321" stop-color="rgb(232,232,232)"/><stop offset="0.8357" stop-color="rgb(235,235,235)"/><stop offset="0.8393" stop-color="rgb(236,236,236)"/><stop offset="0.8429" stop-color="rgb(237,237,237)"/><stop offset="0.8464" stop-color="rgb(238,238,238)"/><stop offset="0.8500" stop-color="rgb(239,239,239)"/><stop offset="0.8536" stop-color="rgb(240,240,240)"/><stop offset="0.8571" stop-color="rgb(240,240,240)"/><stop offset="0.8607" stop-color="rgb(240,240,240)"/><stop offset="0.8643" stop-color="rgb(239,239,239)"/><stop offset="0.8679" stop-color="rgb(237,237,237)"/><stop offset="0.8714" stop-color="rgb(236,236,236)"/><stop offset="0.8750" stop-color="rgb(235,235,235)"/><stop offset="0.8786" stop-color="rgb(233,233,233)"/><stop offset="0.8821" stop-color="rgb(231,231,231)"/><stop offset="0.8857" stop-color="rgb(228,228,228)"/><stop offset="0.8893" stop-color="rgb(224,224,224)"/><stop offset="0.8929" stop-color="rgb(221,221,221)"/><stop offset="0.8964" stop-color="rgb(217,217,217)"/><stop offset="0.9000" stop-color="rgb(214,214,214)"/><stop offset="0.9036" stop-color="rgb(212,212,212)"/><stop offset="0.9071" stop-color="rgb(215,215,215)"/><stop offset="0.9107" stop-color="rgb(218,218,218)"/><stop offset="0.9143" stop-color="rgb(222,222,222)"/><stop offset="0.9179" stop-color="rgb(226,226,226)"/><stop offset="0.9214" stop-color="rgb(229,229,229)"/><stop offset="0.9250" stop-color="rgb(232,232,232)"/><stop offset="0.9286" stop-color="rgb(235,235,235)"/><stop offset="0.9321" stop-color="rgb(237,237,237)"/><stop offset="0.9357" stop-color="rgb(238,238,238)"/><stop offset="0.9393" stop-color="rgb(240,240,240)"/><stop offset="0.9429" stop-color="rgb(240,240,240)"/><stop offset="0.9464" stop-color="rgb(240,240,240)"/><stop offset="0.9500" stop-color="rgb(240,240,240)"/><stop offset="0.9536" stop-color="rgb(240,240,240)"/><stop offset="0.9571" stop-color="rgb(240,240,240)"/><stop offset="0.9607" stop-color="rgb(240,240,240)"/><stop offset="0.9643" stop-color="rgb(240,240,240)"/><stop offset="0.9679" stop-color="rgb(240,240,240)"/><stop offset="0.9714" stop-color="rgb(240,240,240)"/><stop offset="0.9750" stop-color="rgb(240,240,240)"/><stop offset="0.9786" stop-color="rgb(240,240,240)"/><stop offset="0.9821" stop-color="rgb(240,240,240)"/><stop offset="0.9857" stop-color="rgb(240,240,240)"/><stop offset="0.9893" stop-color="rgb(240,240,240)"/><stop offset="0.9929" stop-color="rgb(240,240,240)"/><stop offset="0.9964" stop-color="rgb(240,240,240)"/><stop offset="1.0000" stop-color="rgb(240,240,240)"/></linearGradient><linearGradient id="L3" x1="0" y1="0" x2="0" y2="1"><stop offset="0.0000" stop-color="rgb(238,238,238)"/><stop offset="0.0036" stop-color="rgb(238,238,238)"/><stop offset="0.0071" stop-color="rgb(238,238,238)"/><stop offset="0.0107" stop-color="rgb(238,238,238)"/><stop offset="0.0143" stop-color="rgb(238,238,238)"/><stop offset="0.0179" stop-color="rgb(238,238,238)"/><stop offset="0.0214" stop-color="rgb(238,238,238)"/><stop offset="0.0250" stop-color="rgb(238,238,238)"/><stop offset="0.0286" stop-color="rgb(238,238,238)"/><stop offset="0.0321" stop-color="rgb(238,238,238)"/><stop offset="0.0357" stop-color="rgb(238,238,238)"/><stop offset="0.0393" stop-color="rgb(238,238,238)"/><stop offset="0.0429" stop-color="rgb(238,238,238)"/><stop offset="0.0464" stop-color="rgb(238,238,238)"/><stop offset="0.0500" stop-color="rgb(238,238,238)"/><stop offset="0.0536" stop-color="rgb(238,238,238)"/><stop offset="0.0571" stop-color="rgb(238,238,238)"/><stop offset="0.0607" stop-color="rgb(238,238,238)"/><stop offset="0.0643" stop-color="rgb(238,238,238)"/><stop offset="0.0679" stop-color="rgb(238,238,238)"/><stop offset="0.0714" stop-color="rgb(238,238,238)"/><stop offset="0.0750" stop-color="rgb(238,238,238)"/><stop offset="0.0786" stop-color="rgb(238,238,238)"/><stop offset="0.0821" stop-color="rgb(222,222,222)"/><stop offset="0.0857" stop-color="rgb(218,218,218)"/><stop offset="0.0893" stop-color="rgb(212,212,212)"/><stop offset="0.0929" stop-color="rgb(205,205,205)"/><stop offset="0.0964" stop-color="rgb(200,200,200)"/><stop offset="0.1000" stop-color="rgb(199,199,199)"/><stop offset="0.1036" stop-color="rgb(200,200,200)"/><stop offset="0.1071" stop-color="rgb(204,204,204)"/><stop offset="0.1107" stop-color="rgb(210,210,210)"/><stop offset="0.1143" stop-color="rgb(214,214,214)"/><stop offset="0.1179" stop-color="rgb(217,217,217)"/><stop offset="0.1214" stop-color="rgb(219,219,219)"/><stop offset="0.1250" stop-color="rgb(220,220,220)"/><stop offset="0.1286" stop-color="rgb(220,220,220)"/><stop offset="0.1321" stop-color="rgb(220,220,220)"/><stop offset="0.1357" stop-color="rgb(221,221,221)"/><stop offset="0.1393" stop-color="rgb(221,221,221)"/><stop offset="0.1429" stop-color="rgb(221,221,221)"/><stop offset="0.1464" stop-color="rgb(221,221,221)"/><stop offset="0.1500" stop-color="rgb(220,220,220)"/><stop offset="0.1536" stop-color="rgb(220,220,220)"/><stop offset="0.1571" stop-color="rgb(220,220,220)"/><stop offset="0.1607" stop-color="rgb(220,220,220)"/><stop offset="0.1643" stop-color="rgb(220,220,220)"/><stop offset="0.1679" stop-color="rgb(219,219,219)"/><stop offset="0.1714" stop-color="rgb(218,218,218)"/><stop offset="0.1750" stop-color="rgb(217,217,217)"/><stop offset="0.1786" stop-color="rgb(216,216,216)"/><stop offset="0.1821" stop-color="rgb(216,216,216)"/><stop offset="0.1857" stop-color="rgb(215,215,215)"/><stop offset="0.1893" stop-color="rgb(214,214,214)"/><stop offset="0.1929" stop-color="rgb(213,213,213)"/><stop offset="0.1964" stop-color="rgb(211,211,211)"/><stop offset="0.2000" stop-color="rgb(209,209,209)"/><stop offset="0.2036" stop-color="rgb(207,207,207)"/><stop offset="0.2071" stop-color="rgb(206,206,206)"/><stop offset="0.2107" stop-color="rgb(206,206,206)"/><stop offset="0.2143" stop-color="rgb(205,205,205)"/><stop offset="0.2179" stop-color="rgb(204,204,204)"/><stop offset="0.2214" stop-color="rgb(201,201,201)"/><stop offset="0.2250" stop-color="rgb(197,197,197)"/><stop offset="0.2286" stop-color="rgb(194,194,194)"/><stop offset="0.2321" stop-color="rgb(193,193,193)"/><stop offset="0.2357" stop-color="rgb(193,193,193)"/><stop offset="0.2393" stop-color="rgb(194,194,194)"/><stop offset="0.2429" stop-color="rgb(192,192,192)"/><stop offset="0.2464" stop-color="rgb(188,188,188)"/><stop offset="0.2500" stop-color="rgb(183,183,183)"/><stop offset="0.2536" stop-color="rgb(179,179,179)"/><stop offset="0.2571" stop-color="rgb(179,179,179)"/><stop offset="0.2607" stop-color="rgb(181,181,181)"/><stop offset="0.2643" stop-color="rgb(183,183,183)"/><stop offset="0.2679" stop-color="rgb(181,181,181)"/><stop offset="0.2714" stop-color="rgb(175,175,175)"/><stop offset="0.2750" stop-color="rgb(167,167,167)"/><stop offset="0.2786" stop-color="rgb(162,162,162)"/><stop offset="0.2821" stop-color="rgb(163,163,163)"/><stop offset="0.2857" stop-color="rgb(168,168,168)"/><stop offset="0.2893" stop-color="rgb(170,170,170)"/><stop offset="0.2929" stop-color="rgb(168,168,168)"/><stop offset="0.2964" stop-color="rgb(160,160,160)"/><stop offset="0.3000" stop-color="rgb(151,151,151)"/><stop offset="0.3036" stop-color="rgb(147,147,147)"/><stop offset="0.3071" stop-color="rgb(147,147,147)"/><stop offset="0.3107" stop-color="rgb(151,151,151)"/><stop offset="0.3143" stop-color="rgb(155,155,155)"/><stop offset="0.3179" stop-color="rgb(155,155,155)"/><stop offset="0.3214" stop-color="rgb(147,147,147)"/><stop offset="0.3250" stop-color="rgb(137,137,137)"/><stop offset="0.3286" stop-color="rgb(132,132,132)"/><stop offset="0.3321" stop-color="rgb(133,133,133)"/><stop offset="0.3357" stop-color="rgb(139,139,139)"/><stop offset="0.3393" stop-color="rgb(144,144,144)"/><stop offset="0.3429" stop-color="rgb(142,142,142)"/><stop offset="0.3464" stop-color="rgb(133,133,133)"/><stop offset="0.3500" stop-color="rgb(122,122,122)"/><stop offset="0.3536" stop-color="rgb(116,116,116)"/><stop offset="0.3571" stop-color="rgb(119,119,119)"/><stop offset="0.3607" stop-color="rgb(127,127,127)"/><stop offset="0.3643" stop-color="rgb(132,132,132)"/><stop offset="0.3679" stop-color="rgb(131,131,131)"/><stop offset="0.3714" stop-color="rgb(123,123,123)"/><stop offset="0.3750" stop-color="rgb(110,110,110)"/><stop offset="0.3786" stop-color="rgb(100,100,100)"/><stop offset="0.3821" stop-color="rgb(108,108,108)"/><stop offset="0.3857" stop-color="rgb(120,120,120)"/><stop offset="0.3893" stop-color="rgb(126,126,126)"/><stop offset="0.3929" stop-color="rgb(121,121,121)"/><stop offset="0.3964" stop-color="rgb(109,109,109)"/><stop offset="0.4000" stop-color="rgb(95,95,95)"/><stop offset="0.4036" stop-color="rgb(86,86,86)"/><stop offset="0.4071" stop-color="rgb(95,95,95)"/><stop offset="0.4107" stop-color="rgb(108,108,108)"/><stop offset="0.4143" stop-color="rgb(119,119,119)"/><stop offset="0.4179" stop-color="rgb(119,119,119)"/><stop offset="0.4214" stop-color="rgb(107,107,107)"/><stop offset="0.4250" stop-color="rgb(94,94,94)"/><stop offset="0.4286" stop-color="rgb(84,84,84)"/><stop offset="0.4321" stop-color="rgb(94,94,94)"/><stop offset="0.4357" stop-color="rgb(107,107,107)"/><stop offset="0.4393" stop-color="rgb(119,119,119)"/><stop offset="0.4429" stop-color="rgb(110,110,110)"/><stop offset="0.4464" stop-color="rgb(96,96,96)"/><stop offset="0.4500" stop-color="rgb(84,84,84)"/><stop offset="0.4536" stop-color="rgb(88,88,88)"/><stop offset="0.4571" stop-color="rgb(96,96,96)"/><stop offset="0.4607" stop-color="rgb(104,104,104)"/><stop offset="0.4643" stop-color="rgb(112,112,112)"/><stop offset="0.4679" stop-color="rgb(117,117,117)"/><stop offset="0.4714" stop-color="rgb(116,116,116)"/><stop offset="0.4750" stop-color="rgb(107,107,107)"/><stop offset="0.4786" stop-color="rgb(99,99,99)"/><stop offset="0.4821" stop-color="rgb(92,92,92)"/><stop offset="0.4857" stop-color="rgb(88,88,88)"/><stop offset="0.4893" stop-color="rgb(97,97,97)"/><stop offset="0.4929" stop-color="rgb(105,105,105)"/><stop offset="0.4964" stop-color="rgb(112,112,112)"/><stop offset="0.5000" stop-color="rgb(117,117,117)"/><stop offset="0.5036" stop-color="rgb(109,109,109)"/><stop offset="0.5071" stop-color="rgb(103,103,103)"/><stop offset="0.5107" stop-color="rgb(97,97,97)"/><stop offset="0.5143" stop-color="rgb(90,90,90)"/><stop offset="0.5179" stop-color="rgb(92,92,92)"/><stop offset="0.5214" stop-color="rgb(99,99,99)"/><stop offset="0.5250" stop-color="rgb(106,106,106)"/><stop offset="0.5286" stop-color="rgb(114,114,114)"/><stop offset="0.5321" stop-color="rgb(121,121,121)"/><stop offset="0.5357" stop-color="rgb(129,129,129)"/><stop offset="0.5393" stop-color="rgb(127,127,127)"/><stop offset="0.5429" stop-color="rgb(119,119,119)"/><stop offset="0.5464" stop-color="rgb(111,111,111)"/><stop offset="0.5500" stop-color="rgb(103,103,103)"/><stop offset="0.5536" stop-color="rgb(103,103,103)"/><stop offset="0.5571" stop-color="rgb(110,110,110)"/><stop offset="0.5607" stop-color="rgb(116,116,116)"/><stop offset="0.5643" stop-color="rgb(123,123,123)"/><stop offset="0.5679" stop-color="rgb(130,130,130)"/><stop offset="0.5714" stop-color="rgb(136,136,136)"/><stop offset="0.5750" stop-color="rgb(143,143,143)"/><stop offset="0.5786" stop-color="rgb(139,139,139)"/><stop offset="0.5821" stop-color="rgb(132,132,132)"/><stop offset="0.5857" stop-color="rgb(125,125,125)"/><stop offset="0.5893" stop-color="rgb(119,119,119)"/><stop offset="0.5929" stop-color="rgb(112,112,112)"/><stop offset="0.5964" stop-color="rgb(112,112,112)"/><stop offset="0.6000" stop-color="rgb(119,119,119)"/><stop offset="0.6036" stop-color="rgb(127,127,127)"/><stop offset="0.6071" stop-color="rgb(134,134,134)"/><stop offset="0.6107" stop-color="rgb(142,142,142)"/><stop offset="0.6143" stop-color="rgb(149,149,149)"/><stop offset="0.6179" stop-color="rgb(157,157,157)"/><stop offset="0.6214" stop-color="rgb(164,164,164)"/><stop offset="0.6250" stop-color="rgb(167,167,167)"/><stop offset="0.6286" stop-color="rgb(160,160,160)"/><stop offset="0.6321" stop-color="rgb(154,154,154)"/><stop offset="0.6357" stop-color="rgb(147,147,147)"/><stop offset="0.6393" stop-color="rgb(140,140,140)"/><stop offset="0.6429" stop-color="rgb(133,133,133)"/><stop offset="0.6464" stop-color="rgb(133,133,133)"/><stop offset="0.6500" stop-color="rgb(138,138,138)"/><stop offset="0.6536" stop-color="rgb(143,143,143)"/><stop offset="0.6571" stop-color="rgb(149,149,149)"/><stop offset="0.6607" stop-color="rgb(154,154,154)"/><stop offset="0.6643" stop-color="rgb(160,160,160)"/><stop offset="0.6679" stop-color="rgb(166,166,166)"/><stop offset="0.6714" stop-color="rgb(173,173,173)"/><stop offset="0.6750" stop-color="rgb(179,179,179)"/><stop offset="0.6786" stop-color="rgb(187,187,187)"/><stop offset="0.6821" stop-color="rgb(192,192,192)"/><stop offset="0.6857" stop-color="rgb(185,185,185)"/><stop offset="0.6893" stop-color="rgb(179,179,179)"/><stop offset="0.6929" stop-color="rgb(172,172,172)"/><stop offset="0.6964" stop-color="rgb(165,165,165)"/><stop offset="0.7000" stop-color="rgb(159,159,159)"/><stop offset="0.7036" stop-color="rgb(152,152,152)"/><stop offset="0.7071" stop-color="rgb(144,144,144)"/><stop offset="0.7107" stop-color="rgb(148,148,148)"/><stop offset="0.7143" stop-color="rgb(152,152,152)"/><stop offset="0.7179" stop-color="rgb(157,157,157)"/><stop offset="0.7214" stop-color="rgb(161,161,161)"/><stop offset="0.7250" stop-color="rgb(166,166,166)"/><stop offset="0.7286" stop-color="rgb(171,171,171)"/><stop offset="0.7321" stop-color="rgb(176,176,176)"/><stop offset="0.7357" stop-color="rgb(181,181,181)"/><stop offset="0.7393" stop-color="rgb(187,187,187)"/><stop offset="0.7429" stop-color="rgb(193,193,193)"/><stop offset="0.7464" stop-color="rgb(199,199,199)"/><stop offset="0.7500" stop-color="rgb(206,206,206)"/><stop offset="0.7536" stop-color="rgb(213,213,213)"/><stop offset="0.7571" stop-color="rgb(216,216,216)"/><stop offset="0.7607" stop-color="rgb(212,212,212)"/><stop offset="0.7643" stop-color="rgb(207,207,207)"/><stop offset="0.7679" stop-color="rgb(203,203,203)"/><stop offset="0.7714" stop-color="rgb(199,199,199)"/><stop offset="0.7750" stop-color="rgb(195,195,195)"/><stop offset="0.7786" stop-color="rgb(191,191,191)"/><stop offset="0.7821" stop-color="rgb(188,188,188)"/><stop offset="0.7857" stop-color="rgb(184,184,184)"/><stop offset="0.7893" stop-color="rgb(183,183,183)"/><stop offset="0.7929" stop-color="rgb(187,187,187)"/><stop offset="0.7964" stop-color="rgb(191,191,191)"/><stop offset="0.8000" stop-color="rgb(194,194,194)"/><stop offset="0.8036" stop-color="rgb(198,198,198)"/><stop offset="0.8071" stop-color="rgb(201,201,201)"/><stop offset="0.8107" stop-color="rgb(204,204,204)"/><stop offset="0.8143" stop-color="rgb(208,208,208)"/><stop offset="0.8179" stop-color="rgb(213,213,213)"/><stop offset="0.8214" stop-color="rgb(217,217,217)"/><stop offset="0.8250" stop-color="rgb(222,222,222)"/><stop offset="0.8286" stop-color="rgb(227,227,227)"/><stop offset="0.8321" stop-color="rgb(233,233,233)"/><stop offset="0.8357" stop-color="rgb(236,236,236)"/><stop offset="0.8393" stop-color="rgb(236,236,236)"/><stop offset="0.8429" stop-color="rgb(237,237,237)"/><stop offset="0.8464" stop-color="rgb(238,238,238)"/><stop offset="0.8500" stop-color="rgb(239,239,239)"/><stop offset="0.8536" stop-color="rgb(240,240,240)"/><stop offset="0.8571" stop-color="rgb(240,240,240)"/><stop offset="0.8607" stop-color="rgb(240,240,240)"/><stop offset="0.8643" stop-color="rgb(239,239,239)"/><stop offset="0.8679" stop-color="rgb(238,238,238)"/><stop offset="0.8714" stop-color="rgb(236,236,236)"/><stop offset="0.8750" stop-color="rgb(235,235,235)"/><stop offset="0.8786" stop-color="rgb(233,233,233)"/><stop offset="0.8821" stop-color="rgb(231,231,231)"/><stop offset="0.8857" stop-color="rgb(228,228,228)"/><stop offset="0.8893" stop-color="rgb(225,225,225)"/><stop offset="0.8929" stop-color="rgb(221,221,221)"/><stop offset="0.8964" stop-color="rgb(218,218,218)"/><stop offset="0.9000" stop-color="rgb(215,215,215)"/><stop offset="0.9036" stop-color="rgb(213,213,213)"/><stop offset="0.9071" stop-color="rgb(215,215,215)"/><stop offset="0.9107" stop-color="rgb(219,219,219)"/><stop offset="0.9143" stop-color="rgb(222,222,222)"/><stop offset="0.9179" stop-color="rgb(226,226,226)"/><stop offset="0.9214" stop-color="rgb(230,230,230)"/><stop offset="0.9250" stop-color="rgb(233,233,233)"/><stop offset="0.9286" stop-color="rgb(235,235,235)"/><stop offset="0.9321" stop-color="rgb(237,237,237)"/><stop offset="0.9357" stop-color="rgb(239,239,239)"/><stop offset="0.9393" stop-color="rgb(240,240,240)"/><stop offset="0.9429" stop-color="rgb(240,240,240)"/><stop offset="0.9464" stop-color="rgb(240,240,240)"/><stop offset="0.9500" stop-color="rgb(240,240,240)"/><stop offset="0.9536" stop-color="rgb(240,240,240)"/><stop offset="0.9571" stop-color="rgb(240,240,240)"/><stop offset="0.9607" stop-color="rgb(240,240,240)"/><stop offset="0.9643" stop-color="rgb(240,240,240)"/><stop offset="0.9679" stop-color="rgb(240,240,240)"/><stop offset="0.9714" stop-color="rgb(240,240,240)"/><stop offset="0.9750" stop-color="rgb(240,240,240)"/><stop offset="0.9786" stop-color="rgb(240,240,240)"/><stop offset="0.9821" stop-color="rgb(240,240,240)"/><stop offset="0.9857" stop-color="rgb(240,240,240)"/><stop offset="0.9893" stop-color="rgb(240,240,240)"/><stop offset="0.9929" stop-color="rgb(240,240,240)"/><stop offset="0.9964" stop-color="rgb(240,240,240)"/><stop offset="1.0000" stop-color="rgb(240,240,240)"/></linearGradient><linearGradient id="L4" x1="0" y1="0" x2="0" y2="1"><stop offset="0.0000" stop-color="rgb(238,238,238)"/><stop offset="0.0036" stop-color="rgb(238,238,238)"/><stop offset="0.0071" stop-color="rgb(238,238,238)"/><stop offset="0.0107" stop-color="rgb(238,238,238)"/><stop offset="0.0143" stop-color="rgb(238,238,238)"/><stop offset="0.0179" stop-color="rgb(238,238,238)"/><stop offset="0.0214" stop-color="rgb(238,238,238)"/><stop offset="0.0250" stop-color="rgb(238,238,238)"/><stop offset="0.0286" stop-color="rgb(238,238,238)"/><stop offset="0.0321" stop-color="rgb(238,238,238)"/><stop offset="0.0357" stop-color="rgb(238,238,238)"/><stop offset="0.0393" stop-color="rgb(238,238,238)"/><stop offset="0.0429" stop-color="rgb(238,238,238)"/><stop offset="0.0464" stop-color="rgb(238,238,238)"/><stop offset="0.0500" stop-color="rgb(238,238,238)"/><stop offset="0.0536" stop-color="rgb(238,238,238)"/><stop offset="0.0571" stop-color="rgb(238,238,238)"/><stop offset="0.0607" stop-color="rgb(238,238,238)"/><stop offset="0.0643" stop-color="rgb(238,238,238)"/><stop offset="0.0679" stop-color="rgb(238,238,238)"/><stop offset="0.0714" stop-color="rgb(238,238,238)"/><stop offset="0.0750" stop-color="rgb(238,238,238)"/><stop offset="0.0786" stop-color="rgb(238,238,238)"/><stop offset="0.0821" stop-color="rgb(225,225,225)"/><stop offset="0.0857" stop-color="rgb(217,217,217)"/><stop offset="0.0893" stop-color="rgb(210,210,210)"/><stop offset="0.0929" stop-color="rgb(202,202,202)"/><stop offset="0.0964" stop-color="rgb(197,197,197)"/><stop offset="0.1000" stop-color="rgb(195,195,195)"/><stop offset="0.1036" stop-color="rgb(197,197,197)"/><stop offset="0.1071" stop-color="rgb(202,202,202)"/><stop offset="0.1107" stop-color="rgb(208,208,208)"/><stop offset="0.1143" stop-color="rgb(212,212,212)"/><stop offset="0.1179" stop-color="rgb(216,216,216)"/><stop offset="0.1214" stop-color="rgb(217,217,217)"/><stop offset="0.1250" stop-color="rgb(219,219,219)"/><stop offset="0.1286" stop-color="rgb(219,219,219)"/><stop offset="0.1321" stop-color="rgb(220,220,220)"/><stop offset="0.1357" stop-color="rgb(220,220,220)"/><stop offset="0.1393" stop-color="rgb(221,221,221)"/><stop offset="0.1429" stop-color="rgb(221,221,221)"/><stop offset="0.1464" stop-color="rgb(220,220,220)"/><stop offset="0.1500" stop-color="rgb(220,220,220)"/><stop offset="0.1536" stop-color="rgb(219,219,219)"/><stop offset="0.1571" stop-color="rgb(219,219,219)"/><stop offset="0.1607" stop-color="rgb(219,219,219)"/><stop offset="0.1643" stop-color="rgb(219,219,219)"/><stop offset="0.1679" stop-color="rgb(218,218,218)"/><stop offset="0.1714" stop-color="rgb(217,217,217)"/><stop offset="0.1750" stop-color="rgb(216,216,216)"/><stop offset="0.1786" stop-color="rgb(215,215,215)"/><stop offset="0.1821" stop-color="rgb(214,214,214)"/><stop offset="0.1857" stop-color="rgb(213,213,213)"/><stop offset="0.1893" stop-color="rgb(213,213,213)"/><stop offset="0.1929" stop-color="rgb(212,212,212)"/><stop offset="0.1964" stop-color="rgb(211,211,211)"/><stop offset="0.2000" stop-color="rgb(209,209,209)"/><stop offset="0.2036" stop-color="rgb(207,207,207)"/><stop offset="0.2071" stop-color="rgb(206,206,206)"/><stop offset="0.2107" stop-color="rgb(206,206,206)"/><stop offset="0.2143" stop-color="rgb(206,206,206)"/><stop offset="0.2179" stop-color="rgb(205,205,205)"/><stop offset="0.2214" stop-color="rgb(202,202,202)"/><stop offset="0.2250" stop-color="rgb(199,199,199)"/><stop offset="0.2286" stop-color="rgb(196,196,196)"/><stop offset="0.2321" stop-color="rgb(196,196,196)"/><stop offset="0.2357" stop-color="rgb(196,196,196)"/><stop offset="0.2393" stop-color="rgb(197,197,197)"/><stop offset="0.2429" stop-color="rgb(195,195,195)"/><stop offset="0.2464" stop-color="rgb(191,191,191)"/><stop offset="0.2500" stop-color="rgb(186,186,186)"/><stop offset="0.2536" stop-color="rgb(183,183,183)"/><stop offset="0.2571" stop-color="rgb(183,183,183)"/><stop offset="0.2607" stop-color="rgb(185,185,185)"/><stop offset="0.2643" stop-color="rgb(186,186,186)"/><stop offset="0.2679" stop-color="rgb(184,184,184)"/><stop offset="0.2714" stop-color="rgb(178,178,178)"/><stop offset="0.2750" stop-color="rgb(171,171,171)"/><stop offset="0.2786" stop-color="rgb(167,167,167)"/><stop offset="0.2821" stop-color="rgb(169,169,169)"/><stop offset="0.2857" stop-color="rgb(172,172,172)"/><stop offset="0.2893" stop-color="rgb(174,174,174)"/><stop offset="0.2929" stop-color="rgb(171,171,171)"/><stop offset="0.2964" stop-color="rgb(165,165,165)"/><stop offset="0.3000" stop-color="rgb(158,158,158)"/><stop offset="0.3036" stop-color="rgb(152,152,152)"/><stop offset="0.3071" stop-color="rgb(152,152,152)"/><stop offset="0.3107" stop-color="rgb(156,156,156)"/><stop offset="0.3143" stop-color="rgb(161,161,161)"/><stop offset="0.3179" stop-color="rgb(160,160,160)"/><stop offset="0.3214" stop-color="rgb(151,151,151)"/><stop offset="0.3250" stop-color="rgb(140,140,140)"/><stop offset="0.3286" stop-color="rgb(133,133,133)"/><stop offset="0.3321" stop-color="rgb(134,134,134)"/><stop offset="0.3357" stop-color="rgb(141,141,141)"/><stop offset="0.3393" stop-color="rgb(148,148,148)"/><stop offset="0.3429" stop-color="rgb(147,147,147)"/><stop offset="0.3464" stop-color="rgb(137,137,137)"/><stop offset="0.3500" stop-color="rgb(126,126,126)"/><stop offset="0.3536" stop-color="rgb(119,119,119)"/><stop offset="0.3571" stop-color="rgb(121,121,121)"/><stop offset="0.3607" stop-color="rgb(129,129,129)"/><stop offset="0.3643" stop-color="rgb(138,138,138)"/><stop offset="0.3679" stop-color="rgb(136,136,136)"/><stop offset="0.3714" stop-color="rgb(128,128,128)"/><stop offset="0.3750" stop-color="rgb(116,116,116)"/><stop offset="0.3786" stop-color="rgb(108,108,108)"/><stop offset="0.3821" stop-color="rgb(110,110,110)"/><stop offset="0.3857" stop-color="rgb(120,120,120)"/><stop offset="0.3893" stop-color="rgb(128,128,128)"/><stop offset="0.3929" stop-color="rgb(127,127,127)"/><stop offset="0.3964" stop-color="rgb(115,115,115)"/><stop offset="0.4000" stop-color="rgb(102,102,102)"/><stop offset="0.4036" stop-color="rgb(92,92,92)"/><stop offset="0.4071" stop-color="rgb(96,96,96)"/><stop offset="0.4107" stop-color="rgb(108,108,108)"/><stop offset="0.4143" stop-color="rgb(118,118,118)"/><stop offset="0.4179" stop-color="rgb(120,120,120)"/><stop offset="0.4214" stop-color="rgb(109,109,109)"/><stop offset="0.4250" stop-color="rgb(96,96,96)"/><stop offset="0.4286" stop-color="rgb(87,87,87)"/><stop offset="0.4321" stop-color="rgb(93,93,93)"/><stop offset="0.4357" stop-color="rgb(103,103,103)"/><stop offset="0.4393" stop-color="rgb(112,112,112)"/><stop offset="0.4429" stop-color="rgb(115,115,115)"/><stop offset="0.4464" stop-color="rgb(106,106,106)"/><stop offset="0.4500" stop-color="rgb(95,95,95)"/><stop offset="0.4536" stop-color="rgb(87,87,87)"/><stop offset="0.4571" stop-color="rgb(82,82,82)"/><stop offset="0.4607" stop-color="rgb(90,90,90)"/><stop offset="0.4643" stop-color="rgb(99,99,99)"/><stop offset="0.4679" stop-color="rgb(106,106,106)"/><stop offset="0.4714" stop-color="rgb(111,111,111)"/><stop offset="0.4750" stop-color="rgb(102,102,102)"/><stop offset="0.4786" stop-color="rgb(94,94,94)"/><stop offset="0.4821" stop-color="rgb(88,88,88)"/><stop offset="0.4857" stop-color="rgb(83,83,83)"/><stop offset="0.4893" stop-color="rgb(87,87,87)"/><stop offset="0.4929" stop-color="rgb(95,95,95)"/><stop offset="0.4964" stop-color="rgb(102,102,102)"/><stop offset="0.5000" stop-color="rgb(110,110,110)"/><stop offset="0.5036" stop-color="rgb(109,109,109)"/><stop offset="0.5071" stop-color="rgb(102,102,102)"/><stop offset="0.5107" stop-color="rgb(96,96,96)"/><stop offset="0.5143" stop-color="rgb(89,89,89)"/><stop offset="0.5179" stop-color="rgb(82,82,82)"/><stop offset="0.5214" stop-color="rgb(88,88,88)"/><stop offset="0.5250" stop-color="rgb(97,97,97)"/><stop offset="0.5286" stop-color="rgb(107,107,107)"/><stop offset="0.5321" stop-color="rgb(116,116,116)"/><stop offset="0.5357" stop-color="rgb(126,126,126)"/><stop offset="0.5393" stop-color="rgb(126,126,126)"/><stop offset="0.5429" stop-color="rgb(119,119,119)"/><stop offset="0.5464" stop-color="rgb(112,112,112)"/><stop offset="0.5500" stop-color="rgb(105,105,105)"/><stop offset="0.5536" stop-color="rgb(103,103,103)"/><stop offset="0.5571" stop-color="rgb(111,111,111)"/><stop offset="0.5607" stop-color="rgb(118,118,118)"/><stop offset="0.5643" stop-color="rgb(126,126,126)"/><stop offset="0.5679" stop-color="rgb(133,133,133)"/><stop offset="0.5714" stop-color="rgb(140,140,140)"/><stop offset="0.5750" stop-color="rgb(148,148,148)"/><stop offset="0.5786" stop-color="rgb(145,145,145)"/><stop offset="0.5821" stop-color="rgb(139,139,139)"/><stop offset="0.5857" stop-color="rgb(133,133,133)"/><stop offset="0.5893" stop-color="rgb(127,127,127)"/><stop offset="0.5929" stop-color="rgb(121,121,121)"/><stop offset="0.5964" stop-color="rgb(122,122,122)"/><stop offset="0.6000" stop-color="rgb(129,129,129)"/><stop offset="0.6036" stop-color="rgb(136,136,136)"/><stop offset="0.6071" stop-color="rgb(143,143,143)"/><stop offset="0.6107" stop-color="rgb(150,150,150)"/><stop offset="0.6143" stop-color="rgb(157,157,157)"/><stop offset="0.6179" stop-color="rgb(164,164,164)"/><stop offset="0.6214" stop-color="rgb(171,171,171)"/><stop offset="0.6250" stop-color="rgb(173,173,173)"/><stop offset="0.6286" stop-color="rgb(168,168,168)"/><stop offset="0.6321" stop-color="rgb(162,162,162)"/><stop offset="0.6357" stop-color="rgb(157,157,157)"/><stop offset="0.6393" stop-color="rgb(151,151,151)"/><stop offset="0.6429" stop-color="rgb(145,145,145)"/><stop offset="0.6464" stop-color="rgb(144,144,144)"/><stop offset="0.6500" stop-color="rgb(149,149,149)"/><stop offset="0.6536" stop-color="rgb(154,154,154)"/><stop offset="0.6571" stop-color="rgb(159,159,159)"/><stop offset="0.6607" stop-color="rgb(164,164,164)"/><stop offset="0.6643" stop-color="rgb(170,170,170)"/><stop offset="0.6679" stop-color="rgb(176,176,176)"/><stop offset="0.6714" stop-color="rgb(181,181,181)"/><stop offset="0.6750" stop-color="rgb(188,188,188)"/><stop offset="0.6786" stop-color="rgb(194,194,194)"/><stop offset="0.6821" stop-color="rgb(199,199,199)"/><stop offset="0.6857" stop-color="rgb(194,194,194)"/><stop offset="0.6893" stop-color="rgb(188,188,188)"/><stop offset="0.6929" stop-color="rgb(182,182,182)"/><stop offset="0.6964" stop-color="rgb(177,177,177)"/><stop offset="0.7000" stop-color="rgb(171,171,171)"/><stop offset="0.7036" stop-color="rgb(165,165,165)"/><stop offset="0.7071" stop-color="rgb(160,160,160)"/><stop offset="0.7107" stop-color="rgb(164,164,164)"/><stop offset="0.7143" stop-color="rgb(167,167,167)"/><stop offset="0.7179" stop-color="rgb(171,171,171)"/><stop offset="0.7214" stop-color="rgb(175,175,175)"/><stop offset="0.7250" stop-color="rgb(179,179,179)"/><stop offset="0.7286" stop-color="rgb(183,183,183)"/><stop offset="0.7321" stop-color="rgb(187,187,187)"/><stop offset="0.7357" stop-color="rgb(191,191,191)"/><stop offset="0.7393" stop-color="rgb(196,196,196)"/><stop offset="0.7429" stop-color="rgb(201,201,201)"/><stop offset="0.7464" stop-color="rgb(206,206,206)"/><stop offset="0.7500" stop-color="rgb(212,212,212)"/><stop offset="0.7536" stop-color="rgb(218,218,218)"/><stop offset="0.7571" stop-color="rgb(220,220,220)"/><stop offset="0.7607" stop-color="rgb(216,216,216)"/><stop offset="0.7643" stop-color="rgb(213,213,213)"/><stop offset="0.7679" stop-color="rgb(209,209,209)"/><stop offset="0.7714" stop-color="rgb(206,206,206)"/><stop offset="0.7750" stop-color="rgb(202,202,202)"/><stop offset="0.7786" stop-color="rgb(199,199,199)"/><stop offset="0.7821" stop-color="rgb(196,196,196)"/><stop offset="0.7857" stop-color="rgb(193,193,193)"/><stop offset="0.7893" stop-color="rgb(196,196,196)"/><stop offset="0.7929" stop-color="rgb(199,199,199)"/><stop offset="0.7964" stop-color="rgb(203,203,203)"/><stop offset="0.8000" stop-color="rgb(206,206,206)"/><stop offset="0.8036" stop-color="rgb(209,209,209)"/><stop offset="0.8071" stop-color="rgb(212,212,212)"/><stop offset="0.8107" stop-color="rgb(215,215,215)"/><stop offset="0.8143" stop-color="rgb(218,218,218)"/><stop offset="0.8179" stop-color="rgb(222,222,222)"/><stop offset="0.8214" stop-color="rgb(227,227,227)"/><stop offset="0.8250" stop-color="rgb(232,232,232)"/><stop offset="0.8286" stop-color="rgb(237,237,237)"/><stop offset="0.8321" stop-color="rgb(240,240,240)"/><stop offset="0.8357" stop-color="rgb(240,240,240)"/><stop offset="0.8393" stop-color="rgb(240,240,240)"/><stop offset="0.8429" stop-color="rgb(240,240,240)"/><stop offset="0.8464" stop-color="rgb(240,240,240)"/><stop offset="0.8500" stop-color="rgb(240,240,240)"/><stop offset="0.8536" stop-color="rgb(240,240,240)"/><stop offset="0.8571" stop-color="rgb(240,240,240)"/><stop offset="0.8607" stop-color="rgb(240,240,240)"/><stop offset="0.8643" stop-color="rgb(240,240,240)"/><stop offset="0.8679" stop-color="rgb(240,240,240)"/><stop offset="0.8714" stop-color="rgb(240,240,240)"/><stop offset="0.8750" stop-color="rgb(240,240,240)"/><stop offset="0.8786" stop-color="rgb(240,240,240)"/><stop offset="0.8821" stop-color="rgb(240,240,240)"/><stop offset="0.8857" stop-color="rgb(238,238,238)"/><stop offset="0.8893" stop-color="rgb(234,234,234)"/><stop offset="0.8929" stop-color="rgb(230,230,230)"/><stop offset="0.8964" stop-color="rgb(226,226,226)"/><stop offset="0.9000" stop-color="rgb(222,222,222)"/><stop offset="0.9036" stop-color="rgb(222,222,222)"/><stop offset="0.9071" stop-color="rgb(224,224,224)"/><stop offset="0.9107" stop-color="rgb(226,226,226)"/><stop offset="0.9143" stop-color="rgb(229,229,229)"/><stop offset="0.9179" stop-color="rgb(232,232,232)"/><stop offset="0.9214" stop-color="rgb(234,234,234)"/><stop offset="0.9250" stop-color="rgb(237,237,237)"/><stop offset="0.9286" stop-color="rgb(240,240,240)"/><stop offset="0.9321" stop-color="rgb(240,240,240)"/><stop offset="0.9357" stop-color="rgb(240,240,240)"/><stop offset="0.9393" stop-color="rgb(240,240,240)"/><stop offset="0.9429" stop-color="rgb(240,240,240)"/><stop offset="0.9464" stop-color="rgb(240,240,240)"/><stop offset="0.9500" stop-color="rgb(240,240,240)"/><stop offset="0.9536" stop-color="rgb(240,240,240)"/><stop offset="0.9571" stop-color="rgb(240,240,240)"/><stop offset="0.9607" stop-color="rgb(240,240,240)"/><stop offset="0.9643" stop-color="rgb(240,240,240)"/><stop offset="0.9679" stop-color="rgb(240,240,240)"/><stop offset="0.9714" stop-color="rgb(240,240,240)"/><stop offset="0.9750" stop-color="rgb(240,240,240)"/><stop offset="0.9786" stop-color="rgb(240,240,240)"/><stop offset="0.9821" stop-color="rgb(240,240,240)"/><stop offset="0.9857" stop-color="rgb(240,240,240)"/><stop offset="0.9893" stop-color="rgb(240,240,240)"/><stop offset="0.9929" stop-color="rgb(240,240,240)"/><stop offset="0.9964" stop-color="rgb(240,240,240)"/><stop offset="1.0000" stop-color="rgb(240,240,240)"/></linearGradient><linearGradient id="L5" x1="0" y1="0" x2="0" y2="1"><stop offset="0.0000" stop-color="rgb(238,238,238)"/><stop offset="0.0036" stop-color="rgb(238,238,238)"/><stop offset="0.0071" stop-color="rgb(238,238,238)"/><stop offset="0.0107" stop-color="rgb(238,238,238)"/><stop offset="0.0143" stop-color="rgb(238,238,238)"/><stop offset="0.0179" stop-color="rgb(238,238,238)"/><stop offset="0.0214" stop-color="rgb(238,238,238)"/><stop offset="0.0250" stop-color="rgb(238,238,238)"/><stop offset="0.0286" stop-color="rgb(238,238,238)"/><stop offset="0.0321" stop-color="rgb(238,238,238)"/><stop offset="0.0357" stop-color="rgb(238,238,238)"/><stop offset="0.0393" stop-color="rgb(238,238,238)"/><stop offset="0.0429" stop-color="rgb(238,238,238)"/><stop offset="0.0464" stop-color="rgb(238,238,238)"/><stop offset="0.0500" stop-color="rgb(238,238,238)"/><stop offset="0.0536" stop-color="rgb(238,238,238)"/><stop offset="0.0571" stop-color="rgb(238,238,238)"/><stop offset="0.0607" stop-color="rgb(238,238,238)"/><stop offset="0.0643" stop-color="rgb(238,238,238)"/><stop offset="0.0679" stop-color="rgb(238,238,238)"/><stop offset="0.0714" stop-color="rgb(238,238,238)"/><stop offset="0.0750" stop-color="rgb(238,238,238)"/><stop offset="0.0786" stop-color="rgb(238,238,238)"/><stop offset="0.0821" stop-color="rgb(225,225,225)"/><stop offset="0.0857" stop-color="rgb(218,218,218)"/><stop offset="0.0893" stop-color="rgb(210,210,210)"/><stop offset="0.0929" stop-color="rgb(203,203,203)"/><stop offset="0.0964" stop-color="rgb(198,198,198)"/><stop offset="0.1000" stop-color="rgb(196,196,196)"/><stop offset="0.1036" stop-color="rgb(198,198,198)"/><stop offset="0.1071" stop-color="rgb(203,203,203)"/><stop offset="0.1107" stop-color="rgb(209,209,209)"/><stop offset="0.1143" stop-color="rgb(213,213,213)"/><stop offset="0.1179" stop-color="rgb(217,217,217)"/><stop offset="0.1214" stop-color="rgb(218,218,218)"/><stop offset="0.1250" stop-color="rgb(219,219,219)"/><stop offset="0.1286" stop-color="rgb(220,220,220)"/><stop offset="0.1321" stop-color="rgb(221,221,221)"/><stop offset="0.1357" stop-color="rgb(221,221,221)"/><stop offset="0.1393" stop-color="rgb(221,221,221)"/><stop offset="0.1429" stop-color="rgb(221,221,221)"/><stop offset="0.1464" stop-color="rgb(221,221,221)"/><stop offset="0.1500" stop-color="rgb(221,221,221)"/><stop offset="0.1536" stop-color="rgb(220,220,220)"/><stop offset="0.1571" stop-color="rgb(220,220,220)"/><stop offset="0.1607" stop-color="rgb(220,220,220)"/><stop offset="0.1643" stop-color="rgb(220,220,220)"/><stop offset="0.1679" stop-color="rgb(219,219,219)"/><stop offset="0.1714" stop-color="rgb(218,218,218)"/><stop offset="0.1750" stop-color="rgb(217,217,217)"/><stop offset="0.1786" stop-color="rgb(216,216,216)"/><stop offset="0.1821" stop-color="rgb(215,215,215)"/><stop offset="0.1857" stop-color="rgb(215,215,215)"/><stop offset="0.1893" stop-color="rgb(214,214,214)"/><stop offset="0.1929" stop-color="rgb(213,213,213)"/><stop offset="0.1964" stop-color="rgb(212,212,212)"/><stop offset="0.2000" stop-color="rgb(210,210,210)"/><stop offset="0.2036" stop-color="rgb(209,209,209)"/><stop offset="0.2071" stop-color="rgb(208,208,208)"/><stop offset="0.2107" stop-color="rgb(208,208,208)"/><stop offset="0.2143" stop-color="rgb(208,208,208)"/><stop offset="0.2179" stop-color="rgb(207,207,207)"/><stop offset="0.2214" stop-color="rgb(204,204,204)"/><stop offset="0.2250" stop-color="rgb(201,201,201)"/><stop offset="0.2286" stop-color="rgb(198,198,198)"/><stop offset="0.2321" stop-color="rgb(197,197,197)"/><stop offset="0.2357" stop-color="rgb(198,198,198)"/><stop offset="0.2393" stop-color="rgb(199,199,199)"/><stop offset="0.2429" stop-color="rgb(197,197,197)"/><stop offset="0.2464" stop-color="rgb(193,193,193)"/><stop offset="0.2500" stop-color="rgb(189,189,189)"/><stop offset="0.2536" stop-color="rgb(186,186,186)"/><stop offset="0.2571" stop-color="rgb(186,186,186)"/><stop offset="0.2607" stop-color="rgb(187,187,187)"/><stop offset="0.2643" stop-color="rgb(189,189,189)"/><stop offset="0.2679" stop-color="rgb(187,187,187)"/><stop offset="0.2714" stop-color="rgb(181,181,181)"/><stop offset="0.2750" stop-color="rgb(174,174,174)"/><stop offset="0.2786" stop-color="rgb(171,171,171)"/><stop offset="0.2821" stop-color="rgb(172,172,172)"/><stop offset="0.2857" stop-color="rgb(175,175,175)"/><stop offset="0.2893" stop-color="rgb(177,177,177)"/><stop offset="0.2929" stop-color="rgb(175,175,175)"/><stop offset="0.2964" stop-color="rgb(169,169,169)"/><stop offset="0.3000" stop-color="rgb(162,162,162)"/><stop offset="0.3036" stop-color="rgb(157,157,157)"/><stop offset="0.3071" stop-color="rgb(156,156,156)"/><stop offset="0.3107" stop-color="rgb(160,160,160)"/><stop offset="0.3143" stop-color="rgb(165,165,165)"/><stop offset="0.3179" stop-color="rgb(164,164,164)"/><stop offset="0.3214" stop-color="rgb(155,155,155)"/><stop offset="0.3250" stop-color="rgb(145,145,145)"/><stop offset="0.3286" stop-color="rgb(139,139,139)"/><stop offset="0.3321" stop-color="rgb(140,140,140)"/><stop offset="0.3357" stop-color="rgb(146,146,146)"/><stop offset="0.3393" stop-color="rgb(154,154,154)"/><stop offset="0.3429" stop-color="rgb(152,152,152)"/><stop offset="0.3464" stop-color="rgb(144,144,144)"/><stop offset="0.3500" stop-color="rgb(133,133,133)"/><stop offset="0.3536" stop-color="rgb(127,127,127)"/><stop offset="0.3571" stop-color="rgb(129,129,129)"/><stop offset="0.3607" stop-color="rgb(137,137,137)"/><stop offset="0.3643" stop-color="rgb(145,145,145)"/><stop offset="0.3679" stop-color="rgb(144,144,144)"/><stop offset="0.3714" stop-color="rgb(136,136,136)"/><stop offset="0.3750" stop-color="rgb(126,126,126)"/><stop offset="0.3786" stop-color="rgb(119,119,119)"/><stop offset="0.3821" stop-color="rgb(121,121,121)"/><stop offset="0.3857" stop-color="rgb(130,130,130)"/><stop offset="0.3893" stop-color="rgb(138,138,138)"/><stop offset="0.3929" stop-color="rgb(138,138,138)"/><stop offset="0.3964" stop-color="rgb(127,127,127)"/><stop offset="0.4000" stop-color="rgb(115,115,115)"/><stop offset="0.4036" stop-color="rgb(106,106,106)"/><stop offset="0.4071" stop-color="rgb(111,111,111)"/><stop offset="0.4107" stop-color="rgb(122,122,122)"/><stop offset="0.4143" stop-color="rgb(132,132,132)"/><stop offset="0.4179" stop-color="rgb(134,134,134)"/><stop offset="0.4214" stop-color="rgb(124,124,124)"/><stop offset="0.4250" stop-color="rgb(113,113,113)"/><stop offset="0.4286" stop-color="rgb(105,105,105)"/><stop offset="0.4321" stop-color="rgb(110,110,110)"/><stop offset="0.4357" stop-color="rgb(121,121,121)"/><stop offset="0.4393" stop-color="rgb(129,129,129)"/><stop offset="0.4429" stop-color="rgb(133,133,133)"/><stop offset="0.4464" stop-color="rgb(124,124,124)"/><stop offset="0.4500" stop-color="rgb(115,115,115)"/><stop offset="0.4536" stop-color="rgb(108,108,108)"/><stop offset="0.4571" stop-color="rgb(103,103,103)"/><stop offset="0.4607" stop-color="rgb(110,110,110)"/><stop offset="0.4643" stop-color="rgb(119,119,119)"/><stop offset="0.4679" stop-color="rgb(126,126,126)"/><stop offset="0.4714" stop-color="rgb(131,131,131)"/><stop offset="0.4750" stop-color="rgb(123,123,123)"/><stop offset="0.4786" stop-color="rgb(116,116,116)"/><stop offset="0.4821" stop-color="rgb(110,110,110)"/><stop offset="0.4857" stop-color="rgb(105,105,105)"/><stop offset="0.4893" stop-color="rgb(108,108,108)"/><stop offset="0.4929" stop-color="rgb(116,116,116)"/><stop offset="0.4964" stop-color="rgb(123,123,123)"/><stop offset="0.5000" stop-color="rgb(130,130,130)"/><stop offset="0.5036" stop-color="rgb(129,129,129)"/><stop offset="0.5071" stop-color="rgb(122,122,122)"/><stop offset="0.5107" stop-color="rgb(116,116,116)"/><stop offset="0.5143" stop-color="rgb(109,109,109)"/><stop offset="0.5179" stop-color="rgb(102,102,102)"/><stop offset="0.5214" stop-color="rgb(108,108,108)"/><stop offset="0.5250" stop-color="rgb(116,116,116)"/><stop offset="0.5286" stop-color="rgb(125,125,125)"/><stop offset="0.5321" stop-color="rgb(134,134,134)"/><stop offset="0.5357" stop-color="rgb(143,143,143)"/><stop offset="0.5393" stop-color="rgb(142,142,142)"/><stop offset="0.5429" stop-color="rgb(135,135,135)"/><stop offset="0.5464" stop-color="rgb(128,128,128)"/><stop offset="0.5500" stop-color="rgb(121,121,121)"/><stop offset="0.5536" stop-color="rgb(119,119,119)"/><stop offset="0.5571" stop-color="rgb(125,125,125)"/><stop offset="0.5607" stop-color="rgb(132,132,132)"/><stop offset="0.5643" stop-color="rgb(138,138,138)"/><stop offset="0.5679" stop-color="rgb(145,145,145)"/><stop offset="0.5714" stop-color="rgb(152,152,152)"/><stop offset="0.5750" stop-color="rgb(158,158,158)"/><stop offset="0.5786" stop-color="rgb(155,155,155)"/><stop offset="0.5821" stop-color="rgb(149,149,149)"/><stop offset="0.5857" stop-color="rgb(143,143,143)"/><stop offset="0.5893" stop-color="rgb(137,137,137)"/><stop offset="0.5929" stop-color="rgb(131,131,131)"/><stop offset="0.5964" stop-color="rgb(131,131,131)"/><stop offset="0.6000" stop-color="rgb(137,137,137)"/><stop offset="0.6036" stop-color="rgb(144,144,144)"/><stop offset="0.6071" stop-color="rgb(150,150,150)"/><stop offset="0.6107" stop-color="rgb(157,157,157)"/><stop offset="0.6143" stop-color="rgb(163,163,163)"/><stop offset="0.6179" stop-color="rgb(169,169,169)"/><stop offset="0.6214" stop-color="rgb(176,176,176)"/><stop offset="0.6250" stop-color="rgb(178,178,178)"/><stop offset="0.6286" stop-color="rgb(173,173,173)"/><stop offset="0.6321" stop-color="rgb(167,167,167)"/><stop offset="0.6357" stop-color="rgb(162,162,162)"/><stop offset="0.6393" stop-color="rgb(156,156,156)"/><stop offset="0.6429" stop-color="rgb(151,151,151)"/><stop offset="0.6464" stop-color="rgb(150,150,150)"/><stop offset="0.6500" stop-color="rgb(154,154,154)"/><stop offset="0.6536" stop-color="rgb(159,159,159)"/><stop offset="0.6571" stop-color="rgb(163,163,163)"/><stop offset="0.6607" stop-color="rgb(168,168,168)"/><stop offset="0.6643" stop-color="rgb(173,173,173)"/><stop offset="0.6679" stop-color="rgb(179,179,179)"/><stop offset="0.6714" stop-color="rgb(184,184,184)"/><stop offset="0.6750" stop-color="rgb(190,190,190)"/><stop offset="0.6786" stop-color="rgb(196,196,196)"/><stop offset="0.6821" stop-color="rgb(201,201,201)"/><stop offset="0.6857" stop-color="rgb(196,196,196)"/><stop offset="0.6893" stop-color="rgb(190,190,190)"/><stop offset="0.6929" stop-color="rgb(185,185,185)"/><stop offset="0.6964" stop-color="rgb(180,180,180)"/><stop offset="0.7000" stop-color="rgb(174,174,174)"/><stop offset="0.7036" stop-color="rgb(168,168,168)"/><stop offset="0.7071" stop-color="rgb(164,164,164)"/><stop offset="0.7107" stop-color="rgb(167,167,167)"/><stop offset="0.7143" stop-color="rgb(171,171,171)"/><stop offset="0.7179" stop-color="rgb(174,174,174)"/><stop offset="0.7214" stop-color="rgb(178,178,178)"/><stop offset="0.7250" stop-color="rgb(182,182,182)"/><stop offset="0.7286" stop-color="rgb(185,185,185)"/><stop offset="0.7321" stop-color="rgb(189,189,189)"/><stop offset="0.7357" stop-color="rgb(193,193,193)"/><stop offset="0.7393" stop-color="rgb(198,198,198)"/><stop offset="0.7429" stop-color="rgb(203,203,203)"/><stop offset="0.7464" stop-color="rgb(208,208,208)"/><stop offset="0.7500" stop-color="rgb(213,213,213)"/><stop offset="0.7536" stop-color="rgb(219,219,219)"/><stop offset="0.7571" stop-color="rgb(221,221,221)"/><stop offset="0.7607" stop-color="rgb(218,218,218)"/><stop offset="0.7643" stop-color="rgb(214,214,214)"/><stop offset="0.7679" stop-color="rgb(211,211,211)"/><stop offset="0.7714" stop-color="rgb(207,207,207)"/><stop offset="0.7750" stop-color="rgb(204,204,204)"/><stop offset="0.7786" stop-color="rgb(201,201,201)"/><stop offset="0.7821" stop-color="rgb(198,198,198)"/><stop offset="0.7857" stop-color="rgb(195,195,195)"/><stop offset="0.7893" stop-color="rgb(198,198,198)"/><stop offset="0.7929" stop-color="rgb(202,202,202)"/><stop offset="0.7964" stop-color="rgb(205,205,205)"/><stop offset="0.8000" stop-color="rgb(208,208,208)"/><stop offset="0.8036" stop-color="rgb(210,210,210)"/><stop offset="0.8071" stop-color="rgb(213,213,213)"/><stop offset="0.8107" stop-color="rgb(216,216,216)"/><stop offset="0.8143" stop-color="rgb(219,219,219)"/><stop offset="0.8179" stop-color="rgb(224,224,224)"/><stop offset="0.8214" stop-color="rgb(228,228,228)"/><stop offset="0.8250" stop-color="rgb(233,233,233)"/><stop offset="0.8286" stop-color="rgb(238,238,238)"/><stop offset="0.8321" stop-color="rgb(240,240,240)"/><stop offset="0.8357" stop-color="rgb(240,240,240)"/><stop offset="0.8393" stop-color="rgb(240,240,240)"/><stop offset="0.8429" stop-color="rgb(240,240,240)"/><stop offset="0.8464" stop-color="rgb(240,240,240)"/><stop offset="0.8500" stop-color="rgb(240,240,240)"/><stop offset="0.8536" stop-color="rgb(240,240,240)"/><stop offset="0.8571" stop-color="rgb(240,240,240)"/><stop offset="0.8607" stop-color="rgb(240,240,240)"/><stop offset="0.8643" stop-color="rgb(240,240,240)"/><stop offset="0.8679" stop-color="rgb(240,240,240)"/><stop offset="0.8714" stop-color="rgb(240,240,240)"/><stop offset="0.8750" stop-color="rgb(240,240,240)"/><stop offset="0.8786" stop-color="rgb(240,240,240)"/><stop offset="0.8821" stop-color="rgb(240,240,240)"/><stop offset="0.8857" stop-color="rgb(239,239,239)"/><stop offset="0.8893" stop-color="rgb(235,235,235)"/><stop offset="0.8929" stop-color="rgb(231,231,231)"/><stop offset="0.8964" stop-color="rgb(227,227,227)"/><stop offset="0.9000" stop-color="rgb(223,223,223)"/><stop offset="0.9036" stop-color="rgb(223,223,223)"/><stop offset="0.9071" stop-color="rgb(225,225,225)"/><stop offset="0.9107" stop-color="rgb(227,227,227)"/><stop offset="0.9143" stop-color="rgb(230,230,230)"/><stop offset="0.9179" stop-color="rgb(233,233,233)"/><stop offset="0.9214" stop-color="rgb(235,235,235)"/><stop offset="0.9250" stop-color="rgb(238,238,238)"/><stop offset="0.9286" stop-color="rgb(240,240,240)"/><stop offset="0.9321" stop-color="rgb(240,240,240)"/><stop offset="0.9357" stop-color="rgb(240,240,240)"/><stop offset="0.9393" stop-color="rgb(240,240,240)"/><stop offset="0.9429" stop-color="rgb(240,240,240)"/><stop offset="0.9464" stop-color="rgb(240,240,240)"/><stop offset="0.9500" stop-color="rgb(240,240,240)"/><stop offset="0.9536" stop-color="rgb(240,240,240)"/><stop offset="0.9571" stop-color="rgb(240,240,240)"/><stop offset="0.9607" stop-color="rgb(240,240,240)"/><stop offset="0.9643" stop-color="rgb(240,240,240)"/><stop offset="0.9679" stop-color="rgb(240,240,240)"/><stop offset="0.9714" stop-color="rgb(240,240,240)"/><stop offset="0.9750" stop-color="rgb(240,240,240)"/><stop offset="0.9786" stop-color="rgb(240,240,240)"/><stop offset="0.9821" stop-color="rgb(240,240,240)"/><stop offset="0.9857" stop-color="rgb(240,240,240)"/><stop offset="0.9893" stop-color="rgb(240,240,240)"/><stop offset="0.9929" stop-color="rgb(240,240,240)"/><stop offset="0.9964" stop-color="rgb(240,240,240)"/><stop offset="1.0000" stop-color="rgb(240,240,240)"/></linearGradient><linearGradient id="L6" x1="0" y1="0" x2="0" y2="1"><stop offset="0.0000" stop-color="rgb(238,238,238)"/><stop offset="0.0036" stop-color="rgb(238,238,238)"/><stop offset="0.0071" stop-color="rgb(238,238,238)"/><stop offset="0.0107" stop-color="rgb(238,238,238)"/><stop offset="0.0143" stop-color="rgb(238,238,238)"/><stop offset="0.0179" stop-color="rgb(238,238,238)"/><stop offset="0.0214" stop-color="rgb(238,238,238)"/><stop offset="0.0250" stop-color="rgb(238,238,238)"/><stop offset="0.0286" stop-color="rgb(238,238,238)"/><stop offset="0.0321" stop-color="rgb(238,238,238)"/><stop offset="0.0357" stop-color="rgb(238,238,238)"/><stop offset="0.0393" stop-color="rgb(238,238,238)"/><stop offset="0.0429" stop-color="rgb(238,238,238)"/><stop offset="0.0464" stop-color="rgb(238,238,238)"/><stop offset="0.0500" stop-color="rgb(238,238,238)"/><stop offset="0.0536" stop-color="rgb(238,238,238)"/><stop offset="0.0571" stop-color="rgb(238,238,238)"/><stop offset="0.0607" stop-color="rgb(238,238,238)"/><stop offset="0.0643" stop-color="rgb(238,238,238)"/><stop offset="0.0679" stop-color="rgb(238,238,238)"/><stop offset="0.0714" stop-color="rgb(238,238,238)"/><stop offset="0.0750" stop-color="rgb(238,238,238)"/><stop offset="0.0786" stop-color="rgb(238,238,238)"/><stop offset="0.0821" stop-color="rgb(224,224,224)"/><stop offset="0.0857" stop-color="rgb(216,216,216)"/><stop offset="0.0893" stop-color="rgb(208,208,208)"/><stop offset="0.0929" stop-color="rgb(200,200,200)"/><stop offset="0.0964" stop-color="rgb(194,194,194)"/><stop offset="0.1000" stop-color="rgb(192,192,192)"/><stop offset="0.1036" stop-color="rgb(194,194,194)"/><stop offset="0.1071" stop-color="rgb(200,200,200)"/><stop offset="0.1107" stop-color="rgb(205,205,205)"/><stop offset="0.1143" stop-color="rgb(210,210,210)"/><stop offset="0.1179" stop-color="rgb(214,214,214)"/><stop offset="0.1214" stop-color="rgb(216,216,216)"/><stop offset="0.1250" stop-color="rgb(217,217,217)"/><stop offset="0.1286" stop-color="rgb(218,218,218)"/><stop offset="0.1321" stop-color="rgb(218,218,218)"/><stop offset="0.1357" stop-color="rgb(219,219,219)"/><stop offset="0.1393" stop-color="rgb(219,219,219)"/><stop offset="0.1429" stop-color="rgb(219,219,219)"/><stop offset="0.1464" stop-color="rgb(219,219,219)"/><stop offset="0.1500" stop-color="rgb(218,218,218)"/><stop offset="0.1536" stop-color="rgb(218,218,218)"/><stop offset="0.1571" stop-color="rgb(217,217,217)"/><stop offset="0.1607" stop-color="rgb(217,217,217)"/><stop offset="0.1643" stop-color="rgb(217,217,217)"/><stop offset="0.1679" stop-color="rgb(216,216,216)"/><stop offset="0.1714" stop-color="rgb(215,215,215)"/><stop offset="0.1750" stop-color="rgb(214,214,214)"/><stop offset="0.1786" stop-color="rgb(213,213,213)"/><stop offset="0.1821" stop-color="rgb(212,212,212)"/><stop offset="0.1857" stop-color="rgb(211,211,211)"/><stop offset="0.1893" stop-color="rgb(211,211,211)"/><stop offset="0.1929" stop-color="rgb(210,210,210)"/><stop offset="0.1964" stop-color="rgb(208,208,208)"/><stop offset="0.2000" stop-color="rgb(206,206,206)"/><stop offset="0.2036" stop-color="rgb(204,204,204)"/><stop offset="0.2071" stop-color="rgb(203,203,203)"/><stop offset="0.2107" stop-color="rgb(203,203,203)"/><stop offset="0.2143" stop-color="rgb(203,203,203)"/><stop offset="0.2179" stop-color="rgb(202,202,202)"/><stop offset="0.2214" stop-color="rgb(199,199,199)"/><stop offset="0.2250" stop-color="rgb(195,195,195)"/><stop offset="0.2286" stop-color="rgb(193,193,193)"/><stop offset="0.2321" stop-color="rgb(192,192,192)"/><stop offset="0.2357" stop-color="rgb(192,192,192)"/><stop offset="0.2393" stop-color="rgb(193,193,193)"/><stop offset="0.2429" stop-color="rgb(191,191,191)"/><stop offset="0.2464" stop-color="rgb(187,187,187)"/><stop offset="0.2500" stop-color="rgb(182,182,182)"/><stop offset="0.2536" stop-color="rgb(178,178,178)"/><stop offset="0.2571" stop-color="rgb(178,178,178)"/><stop offset="0.2607" stop-color="rgb(180,180,180)"/><stop offset="0.2643" stop-color="rgb(181,181,181)"/><stop offset="0.2679" stop-color="rgb(179,179,179)"/><stop offset="0.2714" stop-color="rgb(172,172,172)"/><stop offset="0.2750" stop-color="rgb(164,164,164)"/><stop offset="0.2786" stop-color="rgb(160,160,160)"/><stop offset="0.2821" stop-color="rgb(162,162,162)"/><stop offset="0.2857" stop-color="rgb(165,165,165)"/><stop offset="0.2893" stop-color="rgb(167,167,167)"/><stop offset="0.2929" stop-color="rgb(164,164,164)"/><stop offset="0.2964" stop-color="rgb(158,158,158)"/><stop offset="0.3000" stop-color="rgb(149,149,149)"/><stop offset="0.3036" stop-color="rgb(143,143,143)"/><stop offset="0.3071" stop-color="rgb(142,142,142)"/><stop offset="0.3107" stop-color="rgb(147,147,147)"/><stop offset="0.3143" stop-color="rgb(152,152,152)"/><stop offset="0.3179" stop-color="rgb(151,151,151)"/><stop offset="0.3214" stop-color="rgb(140,140,140)"/><stop offset="0.3250" stop-color="rgb(128,128,128)"/><stop offset="0.3286" stop-color="rgb(121,121,121)"/><stop offset="0.3321" stop-color="rgb(121,121,121)"/><stop offset="0.3357" stop-color="rgb(128,128,128)"/><stop offset="0.3393" stop-color="rgb(137,137,137)"/><stop offset="0.3429" stop-color="rgb(135,135,135)"/><stop offset="0.3464" stop-color="rgb(124,124,124)"/><stop offset="0.3500" stop-color="rgb(110,110,110)"/><stop offset="0.3536" stop-color="rgb(102,102,102)"/><stop offset="0.3571" stop-color="rgb(105,105,105)"/><stop offset="0.3607" stop-color="rgb(114,114,114)"/><stop offset="0.3643" stop-color="rgb(123,123,123)"/><stop offset="0.3679" stop-color="rgb(120,120,120)"/><stop offset="0.3714" stop-color="rgb(110,110,110)"/><stop offset="0.3750" stop-color="rgb(97,97,97)"/><stop offset="0.3786" stop-color="rgb(87,87,87)"/><stop offset="0.3821" stop-color="rgb(89,89,89)"/><stop offset="0.3857" stop-color="rgb(100,100,100)"/><stop offset="0.3893" stop-color="rgb(108,108,108)"/><stop offset="0.3929" stop-color="rgb(108,108,108)"/><stop offset="0.3964" stop-color="rgb(94,94,94)"/><stop offset="0.4000" stop-color="rgb(78,78,78)"/><stop offset="0.4036" stop-color="rgb(67,67,67)"/><stop offset="0.4071" stop-color="rgb(71,71,71)"/><stop offset="0.4107" stop-color="rgb(84,84,84)"/><stop offset="0.4143" stop-color="rgb(95,95,95)"/><stop offset="0.4179" stop-color="rgb(97,97,97)"/><stop offset="0.4214" stop-color="rgb(84,84,84)"/><stop offset="0.4250" stop-color="rgb(69,69,69)"/><stop offset="0.4286" stop-color="rgb(58,58,58)"/><stop offset="0.4321" stop-color="rgb(65,65,65)"/><stop offset="0.4357" stop-color="rgb(77,77,77)"/><stop offset="0.4393" stop-color="rgb(87,87,87)"/><stop offset="0.4429" stop-color="rgb(90,90,90)"/><stop offset="0.4464" stop-color="rgb(79,79,79)"/><stop offset="0.4500" stop-color="rgb(67,67,67)"/><stop offset="0.4536" stop-color="rgb(58,58,58)"/><stop offset="0.4571" stop-color="rgb(53,53,53)"/><stop offset="0.4607" stop-color="rgb(62,62,62)"/><stop offset="0.4643" stop-color="rgb(72,72,72)"/><stop offset="0.4679" stop-color="rgb(79,79,79)"/><stop offset="0.4714" stop-color="rgb(85,85,85)"/><stop offset="0.4750" stop-color="rgb(76,76,76)"/><stop offset="0.4786" stop-color="rgb(67,67,67)"/><stop offset="0.4821" stop-color="rgb(61,61,61)"/><stop offset="0.4857" stop-color="rgb(56,56,56)"/><stop offset="0.4893" stop-color="rgb(60,60,60)"/><stop offset="0.4929" stop-color="rgb(70,70,70)"/><stop offset="0.4964" stop-color="rgb(78,78,78)"/><stop offset="0.5000" stop-color="rgb(87,87,87)"/><stop offset="0.5036" stop-color="rgb(86,86,86)"/><stop offset="0.5071" stop-color="rgb(80,80,80)"/><stop offset="0.5107" stop-color="rgb(73,73,73)"/><stop offset="0.5143" stop-color="rgb(67,67,67)"/><stop offset="0.5179" stop-color="rgb(59,59,59)"/><stop offset="0.5214" stop-color="rgb(67,67,67)"/><stop offset="0.5250" stop-color="rgb(77,77,77)"/><stop offset="0.5286" stop-color="rgb(88,88,88)"/><stop offset="0.5321" stop-color="rgb(99,99,99)"/><stop offset="0.5357" stop-color="rgb(110,110,110)"/><stop offset="0.5393" stop-color="rgb(110,110,110)"/><stop offset="0.5429" stop-color="rgb(103,103,103)"/><stop offset="0.5464" stop-color="rgb(96,96,96)"/><stop offset="0.5500" stop-color="rgb(89,89,89)"/><stop offset="0.5536" stop-color="rgb(87,87,87)"/><stop offset="0.5571" stop-color="rgb(96,96,96)"/><stop offset="0.5607" stop-color="rgb(104,104,104)"/><stop offset="0.5643" stop-color="rgb(113,113,113)"/><stop offset="0.5679" stop-color="rgb(121,121,121)"/><stop offset="0.5714" stop-color="rgb(130,130,130)"/><stop offset="0.5750" stop-color="rgb(138,138,138)"/><stop offset="0.5786" stop-color="rgb(135,135,135)"/><stop offset="0.5821" stop-color="rgb(129,129,129)"/><stop offset="0.5857" stop-color="rgb(123,123,123)"/><stop offset="0.5893" stop-color="rgb(117,117,117)"/><stop offset="0.5929" stop-color="rgb(110,110,110)"/><stop offset="0.5964" stop-color="rgb(111,111,111)"/><stop offset="0.6000" stop-color="rgb(119,119,119)"/><stop offset="0.6036" stop-color="rgb(126,126,126)"/><stop offset="0.6071" stop-color="rgb(134,134,134)"/><stop offset="0.6107" stop-color="rgb(142,142,142)"/><stop offset="0.6143" stop-color="rgb(149,149,149)"/><stop offset="0.6179" stop-color="rgb(157,157,157)"/><stop offset="0.6214" stop-color="rgb(165,165,165)"/><stop offset="0.6250" stop-color="rgb(167,167,167)"/><stop offset="0.6286" stop-color="rgb(162,162,162)"/><stop offset="0.6321" stop-color="rgb(156,156,156)"/><stop offset="0.6357" stop-color="rgb(150,150,150)"/><stop offset="0.6393" stop-color="rgb(144,144,144)"/><stop offset="0.6429" stop-color="rgb(137,137,137)"/><stop offset="0.6464" stop-color="rgb(136,136,136)"/><stop offset="0.6500" stop-color="rgb(141,141,141)"/><stop offset="0.6536" stop-color="rgb(147,147,147)"/><stop offset="0.6571" stop-color="rgb(152,152,152)"/><stop offset="0.6607" stop-color="rgb(158,158,158)"/><stop offset="0.6643" stop-color="rgb(164,164,164)"/><stop offset="0.6679" stop-color="rgb(170,170,170)"/><stop offset="0.6714" stop-color="rgb(177,177,177)"/><stop offset="0.6750" stop-color="rgb(183,183,183)"/><stop offset="0.6786" stop-color="rgb(190,190,190)"/><stop offset="0.6821" stop-color="rgb(196,196,196)"/><stop offset="0.6857" stop-color="rgb(190,190,190)"/><stop offset="0.6893" stop-color="rgb(184,184,184)"/><stop offset="0.6929" stop-color="rgb(178,178,178)"/><stop offset="0.6964" stop-color="rgb(171,171,171)"/><stop offset="0.7000" stop-color="rgb(165,165,165)"/><stop offset="0.7036" stop-color="rgb(159,159,159)"/><stop offset="0.7071" stop-color="rgb(153,153,153)"/><stop offset="0.7107" stop-color="rgb(157,157,157)"/><stop offset="0.7143" stop-color="rgb(161,161,161)"/><stop offset="0.7179" stop-color="rgb(165,165,165)"/><stop offset="0.7214" stop-color="rgb(169,169,169)"/><stop offset="0.7250" stop-color="rgb(174,174,174)"/><stop offset="0.7286" stop-color="rgb(178,178,178)"/><stop offset="0.7321" stop-color="rgb(182,182,182)"/><stop offset="0.7357" stop-color="rgb(187,187,187)"/><stop offset="0.7393" stop-color="rgb(192,192,192)"/><stop offset="0.7429" stop-color="rgb(197,197,197)"/><stop offset="0.7464" stop-color="rgb(203,203,203)"/><stop offset="0.7500" stop-color="rgb(209,209,209)"/><stop offset="0.7536" stop-color="rgb(216,216,216)"/><stop offset="0.7571" stop-color="rgb(218,218,218)"/><stop offset="0.7607" stop-color="rgb(214,214,214)"/><stop offset="0.7643" stop-color="rgb(210,210,210)"/><stop offset="0.7679" stop-color="rgb(206,206,206)"/><stop offset="0.7714" stop-color="rgb(202,202,202)"/><stop offset="0.7750" stop-color="rgb(199,199,199)"/><stop offset="0.7786" stop-color="rgb(195,195,195)"/><stop offset="0.7821" stop-color="rgb(192,192,192)"/><stop offset="0.7857" stop-color="rgb(188,188,188)"/><stop offset="0.7893" stop-color="rgb(192,192,192)"/><stop offset="0.7929" stop-color="rgb(195,195,195)"/><stop offset="0.7964" stop-color="rgb(199,199,199)"/><stop offset="0.8000" stop-color="rgb(202,202,202)"/><stop offset="0.8036" stop-color="rgb(205,205,205)"/><stop offset="0.8071" stop-color="rgb(208,208,208)"/><stop offset="0.8107" stop-color="rgb(211,211,211)"/><stop offset="0.8143" stop-color="rgb(215,215,215)"/><stop offset="0.8179" stop-color="rgb(220,220,220)"/><stop offset="0.8214" stop-color="rgb(225,225,225)"/><stop offset="0.8250" stop-color="rgb(230,230,230)"/><stop offset="0.8286" stop-color="rgb(235,235,235)"/><stop offset="0.8321" stop-color="rgb(240,240,240)"/><stop offset="0.8357" stop-color="rgb(240,240,240)"/><stop offset="0.8393" stop-color="rgb(240,240,240)"/><stop offset="0.8429" stop-color="rgb(240,240,240)"/><stop offset="0.8464" stop-color="rgb(240,240,240)"/><stop offset="0.8500" stop-color="rgb(240,240,240)"/><stop offset="0.8536" stop-color="rgb(240,240,240)"/><stop offset="0.8571" stop-color="rgb(240,240,240)"/><stop offset="0.8607" stop-color="rgb(240,240,240)"/><stop offset="0.8643" stop-color="rgb(240,240,240)"/><stop offset="0.8679" stop-color="rgb(240,240,240)"/><stop offset="0.8714" stop-color="rgb(240,240,240)"/><stop offset="0.8750" stop-color="rgb(240,240,240)"/><stop offset="0.8786" stop-color="rgb(240,240,240)"/><stop offset="0.8821" stop-color="rgb(240,240,240)"/><stop offset="0.8857" stop-color="rgb(237,237,237)"/><stop offset="0.8893" stop-color="rgb(233,233,233)"/><stop offset="0.8929" stop-color="rgb(228,228,228)"/><stop offset="0.8964" stop-color="rgb(224,224,224)"/><stop offset="0.9000" stop-color="rgb(221,221,221)"/><stop offset="0.9036" stop-color="rgb(220,220,220)"/><stop offset="0.9071" stop-color="rgb(222,222,222)"/><stop offset="0.9107" stop-color="rgb(224,224,224)"/><stop offset="0.9143" stop-color="rgb(227,227,227)"/><stop offset="0.9179" stop-color="rgb(230,230,230)"/><stop offset="0.9214" stop-color="rgb(233,233,233)"/><stop offset="0.9250" stop-color="rgb(236,236,236)"/><stop offset="0.9286" stop-color="rgb(239,239,239)"/><stop offset="0.9321" stop-color="rgb(240,240,240)"/><stop offset="0.9357" stop-color="rgb(240,240,240)"/><stop offset="0.9393" stop-color="rgb(240,240,240)"/><stop offset="0.9429" stop-color="rgb(240,240,240)"/><stop offset="0.9464" stop-color="rgb(240,240,240)"/><stop offset="0.9500" stop-color="rgb(240,240,240)"/><stop offset="0.9536" stop-color="rgb(240,240,240)"/><stop offset="0.9571" stop-color="rgb(240,240,240)"/><stop offset="0.9607" stop-color="rgb(240,240,240)"/><stop offset="0.9643" stop-color="rgb(240,240,240)"/><stop offset="0.9679" stop-color="rgb(240,240,240)"/><stop offset="0.9714" stop-color="rgb(240,240,240)"/><stop offset="0.9750" stop-color="rgb(240,240,240)"/><stop offset="0.9786" stop-color="rgb(240,240,240)"/><stop offset="0.9821" stop-color="rgb(240,240,240)"/><stop offset="0.9857" stop-color="rgb(240,240,240)"/><stop offset="0.9893" stop-color="rgb(240,240,240)"/><stop offset="0.9929" stop-color="rgb(240,240,240)"/><stop offset="0.9964" stop-color="rgb(240,240,240)"/><stop offset="1.0000" stop-color="rgb(240,240,240)"/></linearGradient><linearGradient id="L7" x1="0" y1="0" x2="0" y2="1"><stop offset="0.0000" stop-color="rgb(238,238,238)"/><stop offset="0.0036" stop-color="rgb(238,238,238)"/><stop offset="0.0071" stop-color="rgb(238,238,238)"/><stop offset="0.0107" stop-color="rgb(238,238,238)"/><stop offset="0.0143" stop-color="rgb(238,238,238)"/><stop offset="0.0179" stop-color="rgb(238,238,238)"/><stop offset="0.0214" stop-color="rgb(238,238,238)"/><stop offset="0.0250" stop-color="rgb(238,238,238)"/><stop offset="0.0286" stop-color="rgb(238,238,238)"/><stop offset="0.0321" stop-color="rgb(238,238,238)"/><stop offset="0.0357" stop-color="rgb(238,238,238)"/><stop offset="0.0393" stop-color="rgb(238,238,238)"/><stop offset="0.0429" stop-color="rgb(238,238,238)"/><stop offset="0.0464" stop-color="rgb(238,238,238)"/><stop offset="0.0500" stop-color="rgb(238,238,238)"/><stop offset="0.0536" stop-color="rgb(238,238,238)"/><stop offset="0.0571" stop-color="rgb(238,238,238)"/><stop offset="0.0607" stop-color="rgb(238,238,238)"/><stop offset="0.0643" stop-color="rgb(238,238,238)"/><stop offset="0.0679" stop-color="rgb(238,238,238)"/><stop offset="0.0714" stop-color="rgb(238,238,238)"/><stop offset="0.0750" stop-color="rgb(238,238,238)"/><stop offset="0.0786" stop-color="rgb(238,238,238)"/><stop offset="0.0821" stop-color="rgb(225,225,225)"/><stop offset="0.0857" stop-color="rgb(218,218,218)"/><stop offset="0.0893" stop-color="rgb(210,210,210)"/><stop offset="0.0929" stop-color="rgb(203,203,203)"/><stop offset="0.0964" stop-color="rgb(198,198,198)"/><stop offset="0.1000" stop-color="rgb(196,196,196)"/><stop offset="0.1036" stop-color="rgb(198,198,198)"/><stop offset="0.1071" stop-color="rgb(203,203,203)"/><stop offset="0.1107" stop-color="rgb(209,209,209)"/><stop offset="0.1143" stop-color="rgb(213,213,213)"/><stop offset="0.1179" stop-color="rgb(217,217,217)"/><stop offset="0.1214" stop-color="rgb(218,218,218)"/><stop offset="0.1250" stop-color="rgb(220,220,220)"/><stop offset="0.1286" stop-color="rgb(220,220,220)"/><stop offset="0.1321" stop-color="rgb(221,221,221)"/><stop offset="0.1357" stop-color="rgb(221,221,221)"/><stop offset="0.1393" stop-color="rgb(221,221,221)"/><stop offset="0.1429" stop-color="rgb(221,221,221)"/><stop offset="0.1464" stop-color="rgb(221,221,221)"/><stop offset="0.1500" stop-color="rgb(221,221,221)"/><stop offset="0.1536" stop-color="rgb(220,220,220)"/><stop offset="0.1571" stop-color="rgb(220,220,220)"/><stop offset="0.1607" stop-color="rgb(220,220,220)"/><stop offset="0.1643" stop-color="rgb(220,220,220)"/><stop offset="0.1679" stop-color="rgb(219,219,219)"/><stop offset="0.1714" stop-color="rgb(218,218,218)"/><stop offset="0.1750" stop-color="rgb(217,217,217)"/><stop offset="0.1786" stop-color="rgb(216,216,216)"/><stop offset="0.1821" stop-color="rgb(215,215,215)"/><stop offset="0.1857" stop-color="rgb(215,215,215)"/><stop offset="0.1893" stop-color="rgb(214,214,214)"/><stop offset="0.1929" stop-color="rgb(214,214,214)"/><stop offset="0.1964" stop-color="rgb(212,212,212)"/><stop offset="0.2000" stop-color="rgb(210,210,210)"/><stop offset="0.2036" stop-color="rgb(209,209,209)"/><stop offset="0.2071" stop-color="rgb(208,208,208)"/><stop offset="0.2107" stop-color="rgb(208,208,208)"/><stop offset="0.2143" stop-color="rgb(208,208,208)"/><stop offset="0.2179" stop-color="rgb(207,207,207)"/><stop offset="0.2214" stop-color="rgb(204,204,204)"/><stop offset="0.2250" stop-color="rgb(201,201,201)"/><stop offset="0.2286" stop-color="rgb(199,199,199)"/><stop offset="0.2321" stop-color="rgb(198,198,198)"/><stop offset="0.2357" stop-color="rgb(199,199,199)"/><stop offset="0.2393" stop-color="rgb(199,199,199)"/><stop offset="0.2429" stop-color="rgb(198,198,198)"/><stop offset="0.2464" stop-color="rgb(194,194,194)"/><stop offset="0.2500" stop-color="rgb(190,190,190)"/><stop offset="0.2536" stop-color="rgb(187,187,187)"/><stop offset="0.2571" stop-color="rgb(187,187,187)"/><stop offset="0.2607" stop-color="rgb(189,189,189)"/><stop offset="0.2643" stop-color="rgb(190,190,190)"/><stop offset="0.2679" stop-color="rgb(188,188,188)"/><stop offset="0.2714" stop-color="rgb(182,182,182)"/><stop offset="0.2750" stop-color="rgb(176,176,176)"/><stop offset="0.2786" stop-color="rgb(172,172,172)"/><stop offset="0.2821" stop-color="rgb(174,174,174)"/><stop offset="0.2857" stop-color="rgb(177,177,177)"/><stop offset="0.2893" stop-color="rgb(179,179,179)"/><stop offset="0.2929" stop-color="rgb(176,176,176)"/><stop offset="0.2964" stop-color="rgb(171,171,171)"/><stop offset="0.3000" stop-color="rgb(164,164,164)"/><stop offset="0.3036" stop-color="rgb(159,159,159)"/><stop offset="0.3071" stop-color="rgb(159,159,159)"/><stop offset="0.3107" stop-color="rgb(163,163,163)"/><stop offset="0.3143" stop-color="rgb(167,167,167)"/><stop offset="0.3179" stop-color="rgb(167,167,167)"/><stop offset="0.3214" stop-color="rgb(159,159,159)"/><stop offset="0.3250" stop-color="rgb(149,149,149)"/><stop offset="0.3286" stop-color="rgb(143,143,143)"/><stop offset="0.3321" stop-color="rgb(144,144,144)"/><stop offset="0.3357" stop-color="rgb(150,150,150)"/><stop offset="0.3393" stop-color="rgb(157,157,157)"/><stop offset="0.3429" stop-color="rgb(156,156,156)"/><stop offset="0.3464" stop-color="rgb(148,148,148)"/><stop offset="0.3500" stop-color="rgb(138,138,138)"/><stop offset="0.3536" stop-color="rgb(132,132,132)"/><stop offset="0.3571" stop-color="rgb(135,135,135)"/><stop offset="0.3607" stop-color="rgb(142,142,142)"/><stop offset="0.3643" stop-color="rgb(150,150,150)"/><stop offset="0.3679" stop-color="rgb(149,149,149)"/><stop offset="0.3714" stop-color="rgb(142,142,142)"/><stop offset="0.3750" stop-color="rgb(132,132,132)"/><stop offset="0.3786" stop-color="rgb(125,125,125)"/><stop offset="0.3821" stop-color="rgb(128,128,128)"/><stop offset="0.3857" stop-color="rgb(137,137,137)"/><stop offset="0.3893" stop-color="rgb(144,144,144)"/><stop offset="0.3929" stop-color="rgb(144,144,144)"/><stop offset="0.3964" stop-color="rgb(134,134,134)"/><stop offset="0.4000" stop-color="rgb(123,123,123)"/><stop offset="0.4036" stop-color="rgb(114,114,114)"/><stop offset="0.4071" stop-color="rgb(119,119,119)"/><stop offset="0.4107" stop-color="rgb(130,130,130)"/><stop offset="0.4143" stop-color="rgb(139,139,139)"/><stop offset="0.4179" stop-color="rgb(142,142,142)"/><stop offset="0.4214" stop-color="rgb(132,132,132)"/><stop offset="0.4250" stop-color="rgb(122,122,122)"/><stop offset="0.4286" stop-color="rgb(114,114,114)"/><stop offset="0.4321" stop-color="rgb(120,120,120)"/><stop offset="0.4357" stop-color="rgb(130,130,130)"/><stop offset="0.4393" stop-color="rgb(138,138,138)"/><stop offset="0.4429" stop-color="rgb(142,142,142)"/><stop offset="0.4464" stop-color="rgb(134,134,134)"/><stop offset="0.4500" stop-color="rgb(125,125,125)"/><stop offset="0.4536" stop-color="rgb(118,118,118)"/><stop offset="0.4571" stop-color="rgb(113,113,113)"/><stop offset="0.4607" stop-color="rgb(120,120,120)"/><stop offset="0.4643" stop-color="rgb(129,129,129)"/><stop offset="0.4679" stop-color="rgb(135,135,135)"/><stop offset="0.4714" stop-color="rgb(141,141,141)"/><stop offset="0.4750" stop-color="rgb(133,133,133)"/><stop offset="0.4786" stop-color="rgb(126,126,126)"/><stop offset="0.4821" stop-color="rgb(120,120,120)"/><stop offset="0.4857" stop-color="rgb(115,115,115)"/><stop offset="0.4893" stop-color="rgb(118,118,118)"/><stop offset="0.4929" stop-color="rgb(126,126,126)"/><stop offset="0.4964" stop-color="rgb(133,133,133)"/><stop offset="0.5000" stop-color="rgb(140,140,140)"/><stop offset="0.5036" stop-color="rgb(139,139,139)"/><stop offset="0.5071" stop-color="rgb(132,132,132)"/><stop offset="0.5107" stop-color="rgb(126,126,126)"/><stop offset="0.5143" stop-color="rgb(119,119,119)"/><stop offset="0.5179" stop-color="rgb(112,112,112)"/><stop offset="0.5214" stop-color="rgb(118,118,118)"/><stop offset="0.5250" stop-color="rgb(126,126,126)"/><stop offset="0.5286" stop-color="rgb(134,134,134)"/><stop offset="0.5321" stop-color="rgb(143,143,143)"/><stop offset="0.5357" stop-color="rgb(152,152,152)"/><stop offset="0.5393" stop-color="rgb(150,150,150)"/><stop offset="0.5429" stop-color="rgb(143,143,143)"/><stop offset="0.5464" stop-color="rgb(136,136,136)"/><stop offset="0.5500" stop-color="rgb(129,129,129)"/><stop offset="0.5536" stop-color="rgb(127,127,127)"/><stop offset="0.5571" stop-color="rgb(133,133,133)"/><stop offset="0.5607" stop-color="rgb(140,140,140)"/><stop offset="0.5643" stop-color="rgb(146,146,146)"/><stop offset="0.5679" stop-color="rgb(153,153,153)"/><stop offset="0.5714" stop-color="rgb(159,159,159)"/><stop offset="0.5750" stop-color="rgb(166,166,166)"/><stop offset="0.5786" stop-color="rgb(162,162,162)"/><stop offset="0.5821" stop-color="rgb(156,156,156)"/><stop offset="0.5857" stop-color="rgb(150,150,150)"/><stop offset="0.5893" stop-color="rgb(143,143,143)"/><stop offset="0.5929" stop-color="rgb(137,137,137)"/><stop offset="0.5964" stop-color="rgb(137,137,137)"/><stop offset="0.6000" stop-color="rgb(143,143,143)"/><stop offset="0.6036" stop-color="rgb(149,149,149)"/><stop offset="0.6071" stop-color="rgb(155,155,155)"/><stop offset="0.6107" stop-color="rgb(162,162,162)"/><stop offset="0.6143" stop-color="rgb(168,168,168)"/><stop offset="0.6179" stop-color="rgb(174,174,174)"/><stop offset="0.6214" stop-color="rgb(180,180,180)"/><stop offset="0.6250" stop-color="rgb(182,182,182)"/><stop offset="0.6286" stop-color="rgb(177,177,177)"/><stop offset="0.6321" stop-color="rgb(171,171,171)"/><stop offset="0.6357" stop-color="rgb(166,166,166)"/><stop offset="0.6393" stop-color="rgb(160,160,160)"/><stop offset="0.6429" stop-color="rgb(154,154,154)"/><stop offset="0.6464" stop-color="rgb(153,153,153)"/><stop offset="0.6500" stop-color="rgb(157,157,157)"/><stop offset="0.6536" stop-color="rgb(162,162,162)"/><stop offset="0.6571" stop-color="rgb(166,166,166)"/><stop offset="0.6607" stop-color="rgb(171,171,171)"/><stop offset="0.6643" stop-color="rgb(176,176,176)"/><stop offset="0.6679" stop-color="rgb(181,181,181)"/><stop offset="0.6714" stop-color="rgb(187,187,187)"/><stop offset="0.6750" stop-color="rgb(192,192,192)"/><stop offset="0.6786" stop-color="rgb(199,199,199)"/><stop offset="0.6821" stop-color="rgb(203,203,203)"/><stop offset="0.6857" stop-color="rgb(198,198,198)"/><stop offset="0.6893" stop-color="rgb(192,192,192)"/><stop offset="0.6929" stop-color="rgb(187,187,187)"/><stop offset="0.6964" stop-color="rgb(181,181,181)"/><stop offset="0.7000" stop-color="rgb(175,175,175)"/><stop offset="0.7036" stop-color="rgb(170,170,170)"/><stop offset="0.7071" stop-color="rgb(165,165,165)"/><stop offset="0.7107" stop-color="rgb(168,168,168)"/><stop offset="0.7143" stop-color="rgb(172,172,172)"/><stop offset="0.7179" stop-color="rgb(175,175,175)"/><stop offset="0.7214" stop-color="rgb(179,179,179)"/><stop offset="0.7250" stop-color="rgb(182,182,182)"/><stop offset="0.7286" stop-color="rgb(186,186,186)"/><stop offset="0.7321" stop-color="rgb(190,190,190)"/><stop offset="0.7357" stop-color="rgb(194,194,194)"/><stop offset="0.7393" stop-color="rgb(198,198,198)"/><stop offset="0.7429" stop-color="rgb(203,203,203)"/><stop offset="0.7464" stop-color="rgb(208,208,208)"/><stop offset="0.7500" stop-color="rgb(214,214,214)"/><stop offset="0.7536" stop-color="rgb(219,219,219)"/><stop offset="0.7571" stop-color="rgb(222,222,222)"/><stop offset="0.7607" stop-color="rgb(218,218,218)"/><stop offset="0.7643" stop-color="rgb(214,214,214)"/><stop offset="0.7679" stop-color="rgb(211,211,211)"/><stop offset="0.7714" stop-color="rgb(208,208,208)"/><stop offset="0.7750" stop-color="rgb(204,204,204)"/><stop offset="0.7786" stop-color="rgb(201,201,201)"/><stop offset="0.7821" stop-color="rgb(198,198,198)"/><stop offset="0.7857" stop-color="rgb(196,196,196)"/><stop offset="0.7893" stop-color="rgb(199,199,199)"/><stop offset="0.7929" stop-color="rgb(202,202,202)"/><stop offset="0.7964" stop-color="rgb(205,205,205)"/><stop offset="0.8000" stop-color="rgb(208,208,208)"/><stop offset="0.8036" stop-color="rgb(211,211,211)"/><stop offset="0.8071" stop-color="rgb(213,213,213)"/><stop offset="0.8107" stop-color="rgb(216,216,216)"/><stop offset="0.8143" stop-color="rgb(220,220,220)"/><stop offset="0.8179" stop-color="rgb(224,224,224)"/><stop offset="0.8214" stop-color="rgb(228,228,228)"/><stop offset="0.8250" stop-color="rgb(233,233,233)"/><stop offset="0.8286" stop-color="rgb(238,238,238)"/><stop offset="0.8321" stop-color="rgb(240,240,240)"/><stop offset="0.8357" stop-color="rgb(240,240,240)"/><stop offset="0.8393" stop-color="rgb(240,240,240)"/><stop offset="0.8429" stop-color="rgb(240,240,240)"/><stop offset="0.8464" stop-color="rgb(240,240,240)"/><stop offset="0.8500" stop-color="rgb(240,240,240)"/><stop offset="0.8536" stop-color="rgb(240,240,240)"/><stop offset="0.8571" stop-color="rgb(240,240,240)"/><stop offset="0.8607" stop-color="rgb(240,240,240)"/><stop offset="0.8643" stop-color="rgb(240,240,240)"/><stop offset="0.8679" stop-color="rgb(240,240,240)"/><stop offset="0.8714" stop-color="rgb(240,240,240)"/><stop offset="0.8750" stop-color="rgb(240,240,240)"/><stop offset="0.8786" stop-color="rgb(240,240,240)"/><stop offset="0.8821" stop-color="rgb(240,240,240)"/><stop offset="0.8857" stop-color="rgb(239,239,239)"/><stop offset="0.8893" stop-color="rgb(235,235,235)"/><stop offset="0.8929" stop-color="rgb(231,231,231)"/><stop offset="0.8964" stop-color="rgb(227,227,227)"/><stop offset="0.9000" stop-color="rgb(223,223,223)"/><stop offset="0.9036" stop-color="rgb(223,223,223)"/><stop offset="0.9071" stop-color="rgb(225,225,225)"/><stop offset="0.9107" stop-color="rgb(227,227,227)"/><stop offset="0.9143" stop-color="rgb(230,230,230)"/><stop offset="0.9179" stop-color="rgb(233,233,233)"/><stop offset="0.9214" stop-color="rgb(235,235,235)"/><stop offset="0.9250" stop-color="rgb(238,238,238)"/><stop offset="0.9286" stop-color="rgb(240,240,240)"/><stop offset="0.9321" stop-color="rgb(240,240,240)"/><stop offset="0.9357" stop-color="rgb(240,240,240)"/><stop offset="0.9393" stop-color="rgb(240,240,240)"/><stop offset="0.9429" stop-color="rgb(240,240,240)"/><stop offset="0.9464" stop-color="rgb(240,240,240)"/><stop offset="0.9500" stop-color="rgb(240,240,240)"/><stop offset="0.9536" stop-color="rgb(240,240,240)"/><stop offset="0.9571" stop-color="rgb(240,240,240)"/><stop offset="0.9607" stop-color="rgb(240,240,240)"/><stop offset="0.9643" stop-color="rgb(240,240,240)"/><stop offset="0.9679" stop-color="rgb(240,240,240)"/><stop offset="0.9714" stop-color="rgb(240,240,240)"/><stop offset="0.9750" stop-color="rgb(240,240,240)"/><stop offset="0.9786" stop-color="rgb(240,240,240)"/><stop offset="0.9821" stop-color="rgb(240,240,240)"/><stop offset="0.9857" stop-color="rgb(240,240,240)"/><stop offset="0.9893" stop-color="rgb(240,240,240)"/><stop offset="0.9929" stop-color="rgb(240,240,240)"/><stop offset="0.9964" stop-color="rgb(240,240,240)"/><stop offset="1.0000" stop-color="rgb(240,240,240)"/></linearGradient><linearGradient id="L8" x1="0" y1="0" x2="0" y2="1"><stop offset="0.0000" stop-color="rgb(238,238,238)"/><stop offset="0.0036" stop-color="rgb(238,238,238)"/><stop offset="0.0071" stop-color="rgb(238,238,238)"/><stop offset="0.0107" stop-color="rgb(238,238,238)"/><stop offset="0.0143" stop-color="rgb(238,238,238)"/><stop offset="0.0179" stop-color="rgb(238,238,238)"/><stop offset="0.0214" stop-color="rgb(238,238,238)"/><stop offset="0.0250" stop-color="rgb(238,238,238)"/><stop offset="0.0286" stop-color="rgb(238,238,238)"/><stop offset="0.0321" stop-color="rgb(238,238,238)"/><stop offset="0.0357" stop-color="rgb(238,238,238)"/><stop offset="0.0393" stop-color="rgb(238,238,238)"/><stop offset="0.0429" stop-color="rgb(238,238,238)"/><stop offset="0.0464" stop-color="rgb(238,238,238)"/><stop offset="0.0500" stop-color="rgb(238,238,238)"/><stop offset="0.0536" stop-color="rgb(238,238,238)"/><stop offset="0.0571" stop-color="rgb(238,238,238)"/><stop offset="0.0607" stop-color="rgb(238,238,238)"/><stop offset="0.0643" stop-color="rgb(238,238,238)"/><stop offset="0.0679" stop-color="rgb(238,238,238)"/><stop offset="0.0714" stop-color="rgb(238,238,238)"/><stop offset="0.0750" stop-color="rgb(238,238,238)"/><stop offset="0.0786" stop-color="rgb(238,238,238)"/><stop offset="0.0821" stop-color="rgb(204,204,204)"/><stop offset="0.0857" stop-color="rgb(196,196,196)"/><stop offset="0.0893" stop-color="rgb(185,185,185)"/><stop offset="0.0929" stop-color="rgb(175,175,175)"/><stop offset="0.0964" stop-color="rgb(166,166,166)"/><stop offset="0.1000" stop-color="rgb(160,160,160)"/><stop offset="0.1036" stop-color="rgb(159,159,159)"/><stop offset="0.1071" stop-color="rgb(162,162,162)"/><stop offset="0.1107" stop-color="rgb(167,167,167)"/><stop offset="0.1143" stop-color="rgb(164,164,164)"/><stop offset="0.1179" stop-color="rgb(158,158,158)"/><stop offset="0.1214" stop-color="rgb(154,154,154)"/><stop offset="0.1250" stop-color="rgb(151,151,151)"/><stop offset="0.1286" stop-color="rgb(151,151,151)"/><stop offset="0.1321" stop-color="rgb(150,150,150)"/><stop offset="0.1357" stop-color="rgb(150,150,150)"/><stop offset="0.1393" stop-color="rgb(150,150,150)"/><stop offset="0.1429" stop-color="rgb(149,149,149)"/><stop offset="0.1464" stop-color="rgb(147,147,147)"/><stop offset="0.1500" stop-color="rgb(144,144,144)"/><stop offset="0.1536" stop-color="rgb(142,142,142)"/><stop offset="0.1571" stop-color="rgb(141,141,141)"/><stop offset="0.1607" stop-color="rgb(140,140,140)"/><stop offset="0.1643" stop-color="rgb(141,141,141)"/><stop offset="0.1679" stop-color="rgb(141,141,141)"/><stop offset="0.1714" stop-color="rgb(140,140,140)"/><stop offset="0.1750" stop-color="rgb(138,138,138)"/><stop offset="0.1786" stop-color="rgb(137,137,137)"/><stop offset="0.1821" stop-color="rgb(137,137,137)"/><stop offset="0.1857" stop-color="rgb(140,140,140)"/><stop offset="0.1893" stop-color="rgb(143,143,143)"/><stop offset="0.1929" stop-color="rgb(144,144,144)"/><stop offset="0.1964" stop-color="rgb(142,142,142)"/><stop offset="0.2000" stop-color="rgb(139,139,139)"/><stop offset="0.2036" stop-color="rgb(136,136,136)"/><stop offset="0.2071" stop-color="rgb(138,138,138)"/><stop offset="0.2107" stop-color="rgb(141,141,141)"/><stop offset="0.2143" stop-color="rgb(144,144,144)"/><stop offset="0.2179" stop-color="rgb(144,144,144)"/><stop offset="0.2214" stop-color="rgb(140,140,140)"/><stop offset="0.2250" stop-color="rgb(135,135,135)"/><stop offset="0.2286" stop-color="rgb(131,131,131)"/><stop offset="0.2321" stop-color="rgb(133,133,133)"/><stop offset="0.2357" stop-color="rgb(138,138,138)"/><stop offset="0.2393" stop-color="rgb(142,142,142)"/><stop offset="0.2429" stop-color="rgb(142,142,142)"/><stop offset="0.2464" stop-color="rgb(138,138,138)"/><stop offset="0.2500" stop-color="rgb(131,131,131)"/><stop offset="0.2536" stop-color="rgb(128,128,128)"/><stop offset="0.2571" stop-color="rgb(129,129,129)"/><stop offset="0.2607" stop-color="rgb(135,135,135)"/><stop offset="0.2643" stop-color="rgb(141,141,141)"/><stop offset="0.2679" stop-color="rgb(142,142,142)"/><stop offset="0.2714" stop-color="rgb(137,137,137)"/><stop offset="0.2750" stop-color="rgb(126,126,126)"/><stop offset="0.2786" stop-color="rgb(118,118,118)"/><stop offset="0.2821" stop-color="rgb(118,118,118)"/><stop offset="0.2857" stop-color="rgb(125,125,125)"/><stop offset="0.2893" stop-color="rgb(133,133,133)"/><stop offset="0.2929" stop-color="rgb(130,130,130)"/><stop offset="0.2964" stop-color="rgb(116,116,116)"/><stop offset="0.3000" stop-color="rgb(102,102,102)"/><stop offset="0.3036" stop-color="rgb(98,98,98)"/><stop offset="0.3071" stop-color="rgb(104,104,104)"/><stop offset="0.3107" stop-color="rgb(110,110,110)"/><stop offset="0.3143" stop-color="rgb(115,115,115)"/><stop offset="0.3179" stop-color="rgb(111,111,111)"/><stop offset="0.3214" stop-color="rgb(100,100,100)"/><stop offset="0.3250" stop-color="rgb(90,90,90)"/><stop offset="0.3286" stop-color="rgb(87,87,87)"/><stop offset="0.3321" stop-color="rgb(85,85,85)"/><stop offset="0.3357" stop-color="rgb(91,91,91)"/><stop offset="0.3393" stop-color="rgb(96,96,96)"/><stop offset="0.3429" stop-color="rgb(99,99,99)"/><stop offset="0.3464" stop-color="rgb(94,94,94)"/><stop offset="0.3500" stop-color="rgb(79,79,79)"/><stop offset="0.3536" stop-color="rgb(69,69,69)"/><stop offset="0.3571" stop-color="rgb(69,69,69)"/><stop offset="0.3607" stop-color="rgb(79,79,79)"/><stop offset="0.3643" stop-color="rgb(94,94,94)"/><stop offset="0.3679" stop-color="rgb(99,99,99)"/><stop offset="0.3714" stop-color="rgb(92,92,92)"/><stop offset="0.3750" stop-color="rgb(75,75,75)"/><stop offset="0.3786" stop-color="rgb(64,64,64)"/><stop offset="0.3821" stop-color="rgb(66,66,66)"/><stop offset="0.3857" stop-color="rgb(84,84,84)"/><stop offset="0.3893" stop-color="rgb(98,98,98)"/><stop offset="0.3929" stop-color="rgb(104,104,104)"/><stop offset="0.3964" stop-color="rgb(92,92,92)"/><stop offset="0.4000" stop-color="rgb(78,78,78)"/><stop offset="0.4036" stop-color="rgb(68,68,68)"/><stop offset="0.4071" stop-color="rgb(76,76,76)"/><stop offset="0.4107" stop-color="rgb(91,91,91)"/><stop offset="0.4143" stop-color="rgb(103,103,103)"/><stop offset="0.4179" stop-color="rgb(106,106,106)"/><stop offset="0.4214" stop-color="rgb(94,94,94)"/><stop offset="0.4250" stop-color="rgb(81,81,81)"/><stop offset="0.4286" stop-color="rgb(71,71,71)"/><stop offset="0.4321" stop-color="rgb(83,83,83)"/><stop offset="0.4357" stop-color="rgb(97,97,97)"/><stop offset="0.4393" stop-color="rgb(110,110,110)"/><stop offset="0.4429" stop-color="rgb(113,113,113)"/><stop offset="0.4464" stop-color="rgb(104,104,104)"/><stop offset="0.4500" stop-color="rgb(95,95,95)"/><stop offset="0.4536" stop-color="rgb(88,88,88)"/><stop offset="0.4571" stop-color="rgb(95,95,95)"/><stop offset="0.4607" stop-color="rgb(108,108,108)"/><stop offset="0.4643" stop-color="rgb(119,119,119)"/><stop offset="0.4679" stop-color="rgb(129,129,129)"/><stop offset="0.4714" stop-color="rgb(137,137,137)"/><stop offset="0.4750" stop-color="rgb(132,132,132)"/><stop offset="0.4786" stop-color="rgb(124,124,124)"/><stop offset="0.4821" stop-color="rgb(118,118,118)"/><stop offset="0.4857" stop-color="rgb(120,120,120)"/><stop offset="0.4893" stop-color="rgb(128,128,128)"/><stop offset="0.4929" stop-color="rgb(136,136,136)"/><stop offset="0.4964" stop-color="rgb(143,143,143)"/><stop offset="0.5000" stop-color="rgb(150,150,150)"/><stop offset="0.5036" stop-color="rgb(148,148,148)"/><stop offset="0.5071" stop-color="rgb(142,142,142)"/><stop offset="0.5107" stop-color="rgb(137,137,137)"/><stop offset="0.5143" stop-color="rgb(131,131,131)"/><stop offset="0.5179" stop-color="rgb(134,134,134)"/><stop offset="0.5214" stop-color="rgb(141,141,141)"/><stop offset="0.5250" stop-color="rgb(148,148,148)"/><stop offset="0.5286" stop-color="rgb(155,155,155)"/><stop offset="0.5321" stop-color="rgb(162,162,162)"/><stop offset="0.5357" stop-color="rgb(167,167,167)"/><stop offset="0.5393" stop-color="rgb(162,162,162)"/><stop offset="0.5429" stop-color="rgb(157,157,157)"/><stop offset="0.5464" stop-color="rgb(152,152,152)"/><stop offset="0.5500" stop-color="rgb(147,147,147)"/><stop offset="0.5536" stop-color="rgb(150,150,150)"/><stop offset="0.5571" stop-color="rgb(156,156,156)"/><stop offset="0.5607" stop-color="rgb(162,162,162)"/><stop offset="0.5643" stop-color="rgb(168,168,168)"/><stop offset="0.5679" stop-color="rgb(174,174,174)"/><stop offset="0.5714" stop-color="rgb(179,179,179)"/><stop offset="0.5750" stop-color="rgb(180,180,180)"/><stop offset="0.5786" stop-color="rgb(175,175,175)"/><stop offset="0.5821" stop-color="rgb(169,169,169)"/><stop offset="0.5857" stop-color="rgb(164,164,164)"/><stop offset="0.5893" stop-color="rgb(158,158,158)"/><stop offset="0.5929" stop-color="rgb(152,152,152)"/><stop offset="0.5964" stop-color="rgb(153,153,153)"/><stop offset="0.6000" stop-color="rgb(159,159,159)"/><stop offset="0.6036" stop-color="rgb(164,164,164)"/><stop offset="0.6071" stop-color="rgb(170,170,170)"/><stop offset="0.6107" stop-color="rgb(176,176,176)"/><stop offset="0.6143" stop-color="rgb(181,181,181)"/><stop offset="0.6179" stop-color="rgb(187,187,187)"/><stop offset="0.6214" stop-color="rgb(193,193,193)"/><stop offset="0.6250" stop-color="rgb(191,191,191)"/><stop offset="0.6286" stop-color="rgb(187,187,187)"/><stop offset="0.6321" stop-color="rgb(182,182,182)"/><stop offset="0.6357" stop-color="rgb(177,177,177)"/><stop offset="0.6393" stop-color="rgb(172,172,172)"/><stop offset="0.6429" stop-color="rgb(167,167,167)"/><stop offset="0.6464" stop-color="rgb(167,167,167)"/><stop offset="0.6500" stop-color="rgb(172,172,172)"/><stop offset="0.6536" stop-color="rgb(176,176,176)"/><stop offset="0.6571" stop-color="rgb(180,180,180)"/><stop offset="0.6607" stop-color="rgb(185,185,185)"/><stop offset="0.6643" stop-color="rgb(190,190,190)"/><stop offset="0.6679" stop-color="rgb(194,194,194)"/><stop offset="0.6714" stop-color="rgb(199,199,199)"/><stop offset="0.6750" stop-color="rgb(205,205,205)"/><stop offset="0.6786" stop-color="rgb(210,210,210)"/><stop offset="0.6821" stop-color="rgb(207,207,207)"/><stop offset="0.6857" stop-color="rgb(203,203,203)"/><stop offset="0.6893" stop-color="rgb(198,198,198)"/><stop offset="0.6929" stop-color="rgb(193,193,193)"/><stop offset="0.6964" stop-color="rgb(188,188,188)"/><stop offset="0.7000" stop-color="rgb(184,184,184)"/><stop offset="0.7036" stop-color="rgb(179,179,179)"/><stop offset="0.7071" stop-color="rgb(177,177,177)"/><stop offset="0.7107" stop-color="rgb(180,180,180)"/><stop offset="0.7143" stop-color="rgb(183,183,183)"/><stop offset="0.7179" stop-color="rgb(186,186,186)"/><stop offset="0.7214" stop-color="rgb(189,189,189)"/><stop offset="0.7250" stop-color="rgb(192,192,192)"/><stop offset="0.7286" stop-color="rgb(195,195,195)"/><stop offset="0.7321" stop-color="rgb(198,198,198)"/><stop offset="0.7357" stop-color="rgb(201,201,201)"/><stop offset="0.7393" stop-color="rgb(205,205,205)"/><stop offset="0.7429" stop-color="rgb(209,209,209)"/><stop offset="0.7464" stop-color="rgb(213,213,213)"/><stop offset="0.7500" stop-color="rgb(217,217,217)"/><stop offset="0.7536" stop-color="rgb(221,221,221)"/><stop offset="0.7571" stop-color="rgb(223,223,223)"/><stop offset="0.7607" stop-color="rgb(219,219,219)"/><stop offset="0.7643" stop-color="rgb(216,216,216)"/><stop offset="0.7679" stop-color="rgb(213,213,213)"/><stop offset="0.7714" stop-color="rgb(210,210,210)"/><stop offset="0.7750" stop-color="rgb(207,207,207)"/><stop offset="0.7786" stop-color="rgb(204,204,204)"/><stop offset="0.7821" stop-color="rgb(201,201,201)"/><stop offset="0.7857" stop-color="rgb(202,202,202)"/><stop offset="0.7893" stop-color="rgb(205,205,205)"/><stop offset="0.7929" stop-color="rgb(208,208,208)"/><stop offset="0.7964" stop-color="rgb(211,211,211)"/><stop offset="0.8000" stop-color="rgb(214,214,214)"/><stop offset="0.8036" stop-color="rgb(217,217,217)"/><stop offset="0.8071" stop-color="rgb(220,220,220)"/><stop offset="0.8107" stop-color="rgb(223,223,223)"/><stop offset="0.8143" stop-color="rgb(225,225,225)"/><stop offset="0.8179" stop-color="rgb(227,227,227)"/><stop offset="0.8214" stop-color="rgb(230,230,230)"/><stop offset="0.8250" stop-color="rgb(232,232,232)"/><stop offset="0.8286" stop-color="rgb(234,234,234)"/><stop offset="0.8321" stop-color="rgb(237,237,237)"/><stop offset="0.8357" stop-color="rgb(238,238,238)"/><stop offset="0.8393" stop-color="rgb(239,239,239)"/><stop offset="0.8429" stop-color="rgb(240,240,240)"/><stop offset="0.8464" stop-color="rgb(240,240,240)"/><stop offset="0.8500" stop-color="rgb(240,240,240)"/><stop offset="0.8536" stop-color="rgb(240,240,240)"/><stop offset="0.8571" stop-color="rgb(240,240,240)"/><stop offset="0.8607" stop-color="rgb(240,240,240)"/><stop offset="0.8643" stop-color="rgb(240,240,240)"/><stop offset="0.8679" stop-color="rgb(240,240,240)"/><stop offset="0.8714" stop-color="rgb(240,240,240)"/><stop offset="0.8750" stop-color="rgb(240,240,240)"/><stop offset="0.8786" stop-color="rgb(240,240,240)"/><stop offset="0.8821" stop-color="rgb(238,238,238)"/><stop offset="0.8857" stop-color="rgb(235,235,235)"/><stop offset="0.8893" stop-color="rgb(232,232,232)"/><stop offset="0.8929" stop-color="rgb(229,229,229)"/><stop offset="0.8964" stop-color="rgb(225,225,225)"/><stop offset="0.9000" stop-color="rgb(223,223,223)"/><stop offset="0.9036" stop-color="rgb(221,221,221)"/><stop offset="0.9071" stop-color="rgb(222,222,222)"/><stop offset="0.9107" stop-color="rgb(224,224,224)"/><stop offset="0.9143" stop-color="rgb(228,228,228)"/><stop offset="0.9179" stop-color="rgb(231,231,231)"/><stop offset="0.9214" stop-color="rgb(234,234,234)"/><stop offset="0.9250" stop-color="rgb(237,237,237)"/><stop offset="0.9286" stop-color="rgb(239,239,239)"/><stop offset="0.9321" stop-color="rgb(240,240,240)"/><stop offset="0.9357" stop-color="rgb(240,240,240)"/><stop offset="0.9393" stop-color="rgb(240,240,240)"/><stop offset="0.9429" stop-color="rgb(240,240,240)"/><stop offset="0.9464" stop-color="rgb(240,240,240)"/><stop offset="0.9500" stop-color="rgb(240,240,240)"/><stop offset="0.9536" stop-color="rgb(240,240,240)"/><stop offset="0.9571" stop-color="rgb(240,240,240)"/><stop offset="0.9607" stop-color="rgb(240,240,240)"/><stop offset="0.9643" stop-color="rgb(240,240,240)"/><stop offset="0.9679" stop-color="rgb(240,240,240)"/><stop offset="0.9714" stop-color="rgb(240,240,240)"/><stop offset="0.9750" stop-color="rgb(240,240,240)"/><stop offset="0.9786" stop-color="rgb(240,240,240)"/><stop offset="0.9821" stop-color="rgb(240,240,240)"/><stop offset="0.9857" stop-color="rgb(240,240,240)"/><stop offset="0.9893" stop-color="rgb(240,240,240)"/><stop offset="0.9929" stop-color="rgb(240,240,240)"/><stop offset="0.9964" stop-color="rgb(240,240,240)"/><stop offset="1.0000" stop-color="rgb(240,240,240)"/></linearGradient><linearGradient id="L9" x1="0" y1="0" x2="0" y2="1"><stop offset="0.0000" stop-color="rgb(238,238,238)"/><stop offset="0.0036" stop-color="rgb(238,238,238)"/><stop offset="0.0071" stop-color="rgb(238,238,238)"/><stop offset="0.0107" stop-color="rgb(238,238,238)"/><stop offset="0.0143" stop-color="rgb(238,238,238)"/><stop offset="0.0179" stop-color="rgb(238,238,238)"/><stop offset="0.0214" stop-color="rgb(238,238,238)"/><stop offset="0.0250" stop-color="rgb(238,238,238)"/><stop offset="0.0286" stop-color="rgb(238,238,238)"/><stop offset="0.0321" stop-color="rgb(238,238,238)"/><stop offset="0.0357" stop-color="rgb(238,238,238)"/><stop offset="0.0393" stop-color="rgb(238,238,238)"/><stop offset="0.0429" stop-color="rgb(238,238,238)"/><stop offset="0.0464" stop-color="rgb(238,238,238)"/><stop offset="0.0500" stop-color="rgb(238,238,238)"/><stop offset="0.0536" stop-color="rgb(238,238,238)"/><stop offset="0.0571" stop-color="rgb(238,238,238)"/><stop offset="0.0607" stop-color="rgb(238,238,238)"/><stop offset="0.0643" stop-color="rgb(238,238,238)"/><stop offset="0.0679" stop-color="rgb(238,238,238)"/><stop offset="0.0714" stop-color="rgb(238,238,238)"/><stop offset="0.0750" stop-color="rgb(238,238,238)"/><stop offset="0.0786" stop-color="rgb(238,238,238)"/><stop offset="0.0821" stop-color="rgb(204,204,204)"/><stop offset="0.0857" stop-color="rgb(196,196,196)"/><stop offset="0.0893" stop-color="rgb(185,185,185)"/><stop offset="0.0929" stop-color="rgb(175,175,175)"/><stop offset="0.0964" stop-color="rgb(166,166,166)"/><stop offset="0.1000" stop-color="rgb(160,160,160)"/><stop offset="0.1036" stop-color="rgb(159,159,159)"/><stop offset="0.1071" stop-color="rgb(162,162,162)"/><stop offset="0.1107" stop-color="rgb(167,167,167)"/><stop offset="0.1143" stop-color="rgb(164,164,164)"/><stop offset="0.1179" stop-color="rgb(158,158,158)"/><stop offset="0.1214" stop-color="rgb(154,154,154)"/><stop offset="0.1250" stop-color="rgb(151,151,151)"/><stop offset="0.1286" stop-color="rgb(151,151,151)"/><stop offset="0.1321" stop-color="rgb(150,150,150)"/><stop offset="0.1357" stop-color="rgb(150,150,150)"/><stop offset="0.1393" stop-color="rgb(150,150,150)"/><stop offset="0.1429" stop-color="rgb(149,149,149)"/><stop offset="0.1464" stop-color="rgb(147,147,147)"/><stop offset="0.1500" stop-color="rgb(144,144,144)"/><stop offset="0.1536" stop-color="rgb(142,142,142)"/><stop offset="0.1571" stop-color="rgb(141,141,141)"/><stop offset="0.1607" stop-color="rgb(140,140,140)"/><stop offset="0.1643" stop-color="rgb(141,141,141)"/><stop offset="0.1679" stop-color="rgb(141,141,141)"/><stop offset="0.1714" stop-color="rgb(140,140,140)"/><stop offset="0.1750" stop-color="rgb(138,138,138)"/><stop offset="0.1786" stop-color="rgb(137,137,137)"/><stop offset="0.1821" stop-color="rgb(138,138,138)"/><stop offset="0.1857" stop-color="rgb(140,140,140)"/><stop offset="0.1893" stop-color="rgb(143,143,143)"/><stop offset="0.1929" stop-color="rgb(144,144,144)"/><stop offset="0.1964" stop-color="rgb(142,142,142)"/><stop offset="0.2000" stop-color="rgb(139,139,139)"/><stop offset="0.2036" stop-color="rgb(137,137,137)"/><stop offset="0.2071" stop-color="rgb(138,138,138)"/><stop offset="0.2107" stop-color="rgb(141,141,141)"/><stop offset="0.2143" stop-color="rgb(144,144,144)"/><stop offset="0.2179" stop-color="rgb(144,144,144)"/><stop offset="0.2214" stop-color="rgb(140,140,140)"/><stop offset="0.2250" stop-color="rgb(135,135,135)"/><stop offset="0.2286" stop-color="rgb(132,132,132)"/><stop offset="0.2321" stop-color="rgb(133,133,133)"/><stop offset="0.2357" stop-color="rgb(138,138,138)"/><stop offset="0.2393" stop-color="rgb(143,143,143)"/><stop offset="0.2429" stop-color="rgb(143,143,143)"/><stop offset="0.2464" stop-color="rgb(138,138,138)"/><stop offset="0.2500" stop-color="rgb(131,131,131)"/><stop offset="0.2536" stop-color="rgb(128,128,128)"/><stop offset="0.2571" stop-color="rgb(129,129,129)"/><stop offset="0.2607" stop-color="rgb(135,135,135)"/><stop offset="0.2643" stop-color="rgb(141,141,141)"/><stop offset="0.2679" stop-color="rgb(142,142,142)"/><stop offset="0.2714" stop-color="rgb(137,137,137)"/><stop offset="0.2750" stop-color="rgb(126,126,126)"/><stop offset="0.2786" stop-color="rgb(118,118,118)"/><stop offset="0.2821" stop-color="rgb(118,118,118)"/><stop offset="0.2857" stop-color="rgb(125,125,125)"/><stop offset="0.2893" stop-color="rgb(133,133,133)"/><stop offset="0.2929" stop-color="rgb(129,129,129)"/><stop offset="0.2964" stop-color="rgb(116,116,116)"/><stop offset="0.3000" stop-color="rgb(101,101,101)"/><stop offset="0.3036" stop-color="rgb(97,97,97)"/><stop offset="0.3071" stop-color="rgb(103,103,103)"/><stop offset="0.3107" stop-color="rgb(110,110,110)"/><stop offset="0.3143" stop-color="rgb(114,114,114)"/><stop offset="0.3179" stop-color="rgb(110,110,110)"/><stop offset="0.3214" stop-color="rgb(99,99,99)"/><stop offset="0.3250" stop-color="rgb(89,89,89)"/><stop offset="0.3286" stop-color="rgb(85,85,85)"/><stop offset="0.3321" stop-color="rgb(83,83,83)"/><stop offset="0.3357" stop-color="rgb(89,89,89)"/><stop offset="0.3393" stop-color="rgb(94,94,94)"/><stop offset="0.3429" stop-color="rgb(97,97,97)"/><stop offset="0.3464" stop-color="rgb(91,91,91)"/><stop offset="0.3500" stop-color="rgb(76,76,76)"/><stop offset="0.3536" stop-color="rgb(65,65,65)"/><stop offset="0.3571" stop-color="rgb(65,65,65)"/><stop offset="0.3607" stop-color="rgb(75,75,75)"/><stop offset="0.3643" stop-color="rgb(90,90,90)"/><stop offset="0.3679" stop-color="rgb(96,96,96)"/><stop offset="0.3714" stop-color="rgb(88,88,88)"/><stop offset="0.3750" stop-color="rgb(71,71,71)"/><stop offset="0.3786" stop-color="rgb(59,59,59)"/><stop offset="0.3821" stop-color="rgb(61,61,61)"/><stop offset="0.3857" stop-color="rgb(79,79,79)"/><stop offset="0.3893" stop-color="rgb(93,93,93)"/><stop offset="0.3929" stop-color="rgb(99,99,99)"/><stop offset="0.3964" stop-color="rgb(86,86,86)"/><stop offset="0.4000" stop-color="rgb(72,72,72)"/><stop offset="0.4036" stop-color="rgb(62,62,62)"/><stop offset="0.4071" stop-color="rgb(70,70,70)"/><stop offset="0.4107" stop-color="rgb(85,85,85)"/><stop offset="0.4143" stop-color="rgb(97,97,97)"/><stop offset="0.4179" stop-color="rgb(100,100,100)"/><stop offset="0.4214" stop-color="rgb(88,88,88)"/><stop offset="0.4250" stop-color="rgb(75,75,75)"/><stop offset="0.4286" stop-color="rgb(65,65,65)"/><stop offset="0.4321" stop-color="rgb(77,77,77)"/><stop offset="0.4357" stop-color="rgb(91,91,91)"/><stop offset="0.4393" stop-color="rgb(104,104,104)"/><stop offset="0.4429" stop-color="rgb(107,107,107)"/><stop offset="0.4464" stop-color="rgb(99,99,99)"/><stop offset="0.4500" stop-color="rgb(89,89,89)"/><stop offset="0.4536" stop-color="rgb(82,82,82)"/><stop offset="0.4571" stop-color="rgb(90,90,90)"/><stop offset="0.4607" stop-color="rgb(103,103,103)"/><stop offset="0.4643" stop-color="rgb(115,115,115)"/><stop offset="0.4679" stop-color="rgb(124,124,124)"/><stop offset="0.4714" stop-color="rgb(133,133,133)"/><stop offset="0.4750" stop-color="rgb(127,127,127)"/><stop offset="0.4786" stop-color="rgb(120,120,120)"/><stop offset="0.4821" stop-color="rgb(114,114,114)"/><stop offset="0.4857" stop-color="rgb(116,116,116)"/><stop offset="0.4893" stop-color="rgb(125,125,125)"/><stop offset="0.4929" stop-color="rgb(133,133,133)"/><stop offset="0.4964" stop-color="rgb(140,140,140)"/><stop offset="0.5000" stop-color="rgb(147,147,147)"/><stop offset="0.5036" stop-color="rgb(145,145,145)"/><stop offset="0.5071" stop-color="rgb(140,140,140)"/><stop offset="0.5107" stop-color="rgb(134,134,134)"/><stop offset="0.5143" stop-color="rgb(129,129,129)"/><stop offset="0.5179" stop-color="rgb(132,132,132)"/><stop offset="0.5214" stop-color="rgb(139,139,139)"/><stop offset="0.5250" stop-color="rgb(146,146,146)"/><stop offset="0.5286" stop-color="rgb(153,153,153)"/><stop offset="0.5321" stop-color="rgb(161,161,161)"/><stop offset="0.5357" stop-color="rgb(165,165,165)"/><stop offset="0.5393" stop-color="rgb(161,161,161)"/><stop offset="0.5429" stop-color="rgb(156,156,156)"/><stop offset="0.5464" stop-color="rgb(151,151,151)"/><stop offset="0.5500" stop-color="rgb(146,146,146)"/><stop offset="0.5536" stop-color="rgb(149,149,149)"/><stop offset="0.5571" stop-color="rgb(155,155,155)"/><stop offset="0.5607" stop-color="rgb(161,161,161)"/><stop offset="0.5643" stop-color="rgb(167,167,167)"/><stop offset="0.5679" stop-color="rgb(173,173,173)"/><stop offset="0.5714" stop-color="rgb(179,179,179)"/><stop offset="0.5750" stop-color="rgb(180,180,180)"/><stop offset="0.5786" stop-color="rgb(175,175,175)"/><stop offset="0.5821" stop-color="rgb(169,169,169)"/><stop offset="0.5857" stop-color="rgb(164,164,164)"/><stop offset="0.5893" stop-color="rgb(158,158,158)"/><stop offset="0.5929" stop-color="rgb(152,152,152)"/><stop offset="0.5964" stop-color="rgb(153,153,153)"/><stop offset="0.6000" stop-color="rgb(159,159,159)"/><stop offset="0.6036" stop-color="rgb(164,164,164)"/><stop offset="0.6071" stop-color="rgb(170,170,170)"/><stop offset="0.6107" stop-color="rgb(176,176,176)"/><stop offset="0.6143" stop-color="rgb(181,181,181)"/><stop offset="0.6179" stop-color="rgb(187,187,187)"/><stop offset="0.6214" stop-color="rgb(193,193,193)"/><stop offset="0.6250" stop-color="rgb(191,191,191)"/><stop offset="0.6286" stop-color="rgb(187,187,187)"/><stop offset="0.6321" stop-color="rgb(182,182,182)"/><stop offset="0.6357" stop-color="rgb(177,177,177)"/><stop offset="0.6393" stop-color="rgb(172,172,172)"/><stop offset="0.6429" stop-color="rgb(167,167,167)"/><stop offset="0.6464" stop-color="rgb(167,167,167)"/><stop offset="0.6500" stop-color="rgb(172,172,172)"/><stop offset="0.6536" stop-color="rgb(176,176,176)"/><stop offset="0.6571" stop-color="rgb(180,180,180)"/><stop offset="0.6607" stop-color="rgb(185,185,185)"/><stop offset="0.6643" stop-color="rgb(190,190,190)"/><stop offset="0.6679" stop-color="rgb(194,194,194)"/><stop offset="0.6714" stop-color="rgb(199,199,199)"/><stop offset="0.6750" stop-color="rgb(205,205,205)"/><stop offset="0.6786" stop-color="rgb(210,210,210)"/><stop offset="0.6821" stop-color="rgb(207,207,207)"/><stop offset="0.6857" stop-color="rgb(203,203,203)"/><stop offset="0.6893" stop-color="rgb(198,198,198)"/><stop offset="0.6929" stop-color="rgb(193,193,193)"/><stop offset="0.6964" stop-color="rgb(188,188,188)"/><stop offset="0.7000" stop-color="rgb(184,184,184)"/><stop offset="0.7036" stop-color="rgb(179,179,179)"/><stop offset="0.7071" stop-color="rgb(177,177,177)"/><stop offset="0.7107" stop-color="rgb(180,180,180)"/><stop offset="0.7143" stop-color="rgb(183,183,183)"/><stop offset="0.7179" stop-color="rgb(186,186,186)"/><stop offset="0.7214" stop-color="rgb(189,189,189)"/><stop offset="0.7250" stop-color="rgb(192,192,192)"/><stop offset="0.7286" stop-color="rgb(195,195,195)"/><stop offset="0.7321" stop-color="rgb(198,198,198)"/><stop offset="0.7357" stop-color="rgb(201,201,201)"/><stop offset="0.7393" stop-color="rgb(205,205,205)"/><stop offset="0.7429" stop-color="rgb(209,209,209)"/><stop offset="0.7464" stop-color="rgb(213,213,213)"/><stop offset="0.7500" stop-color="rgb(217,217,217)"/><stop offset="0.7536" stop-color="rgb(221,221,221)"/><stop offset="0.7571" stop-color="rgb(223,223,223)"/><stop offset="0.7607" stop-color="rgb(219,219,219)"/><stop offset="0.7643" stop-color="rgb(216,216,216)"/><stop offset="0.7679" stop-color="rgb(213,213,213)"/><stop offset="0.7714" stop-color="rgb(210,210,210)"/><stop offset="0.7750" stop-color="rgb(207,207,207)"/><stop offset="0.7786" stop-color="rgb(204,204,204)"/><stop offset="0.7821" stop-color="rgb(201,201,201)"/><stop offset="0.7857" stop-color="rgb(202,202,202)"/><stop offset="0.7893" stop-color="rgb(205,205,205)"/><stop offset="0.7929" stop-color="rgb(208,208,208)"/><stop offset="0.7964" stop-color="rgb(211,211,211)"/><stop offset="0.8000" stop-color="rgb(214,214,214)"/><stop offset="0.8036" stop-color="rgb(217,217,217)"/><stop offset="0.8071" stop-color="rgb(220,220,220)"/><stop offset="0.8107" stop-color="rgb(223,223,223)"/><stop offset="0.8143" stop-color="rgb(225,225,225)"/><stop offset="0.8179" stop-color="rgb(227,227,227)"/><stop offset="0.8214" stop-color="rgb(230,230,230)"/><stop offset="0.8250" stop-color="rgb(232,232,232)"/><stop offset="0.8286" stop-color="rgb(234,234,234)"/><stop offset="0.8321" stop-color="rgb(237,237,237)"/><stop offset="0.8357" stop-color="rgb(238,238,238)"/><stop offset="0.8393" stop-color="rgb(239,239,239)"/><stop offset="0.8429" stop-color="rgb(240,240,240)"/><stop offset="0.8464" stop-color="rgb(240,240,240)"/><stop offset="0.8500" stop-color="rgb(240,240,240)"/><stop offset="0.8536" stop-color="rgb(240,240,240)"/><stop offset="0.8571" stop-color="rgb(240,240,240)"/><stop offset="0.8607" stop-color="rgb(240,240,240)"/><stop offset="0.8643" stop-color="rgb(240,240,240)"/><stop offset="0.8679" stop-color="rgb(240,240,240)"/><stop offset="0.8714" stop-color="rgb(240,240,240)"/><stop offset="0.8750" stop-color="rgb(240,240,240)"/><stop offset="0.8786" stop-color="rgb(240,240,240)"/><stop offset="0.8821" stop-color="rgb(238,238,238)"/><stop offset="0.8857" stop-color="rgb(235,235,235)"/><stop offset="0.8893" stop-color="rgb(232,232,232)"/><stop offset="0.8929" stop-color="rgb(229,229,229)"/><stop offset="0.8964" stop-color="rgb(225,225,225)"/><stop offset="0.9000" stop-color="rgb(223,223,223)"/><stop offset="0.9036" stop-color="rgb(221,221,221)"/><stop offset="0.9071" stop-color="rgb(222,222,222)"/><stop offset="0.9107" stop-color="rgb(224,224,224)"/><stop offset="0.9143" stop-color="rgb(228,228,228)"/><stop offset="0.9179" stop-color="rgb(231,231,231)"/><stop offset="0.9214" stop-color="rgb(234,234,234)"/><stop offset="0.9250" stop-color="rgb(237,237,237)"/><stop offset="0.9286" stop-color="rgb(239,239,239)"/><stop offset="0.9321" stop-color="rgb(240,240,240)"/><stop offset="0.9357" stop-color="rgb(240,240,240)"/><stop offset="0.9393" stop-color="rgb(240,240,240)"/><stop offset="0.9429" stop-color="rgb(240,240,240)"/><stop offset="0.9464" stop-color="rgb(240,240,240)"/><stop offset="0.9500" stop-color="rgb(240,240,240)"/><stop offset="0.9536" stop-color="rgb(240,240,240)"/><stop offset="0.9571" stop-color="rgb(240,240,240)"/><stop offset="0.9607" stop-color="rgb(240,240,240)"/><stop offset="0.9643" stop-color="rgb(240,240,240)"/><stop offset="0.9679" stop-color="rgb(240,240,240)"/><stop offset="0.9714" stop-color="rgb(240,240,240)"/><stop offset="0.9750" stop-color="rgb(240,240,240)"/><stop offset="0.9786" stop-color="rgb(240,240,240)"/><stop offset="0.9821" stop-color="rgb(240,240,240)"/><stop offset="0.9857" stop-color="rgb(240,240,240)"/><stop offset="0.9893" stop-color="rgb(240,240,240)"/><stop offset="0.9929" stop-color="rgb(240,240,240)"/><stop offset="0.9964" stop-color="rgb(240,240,240)"/><stop offset="1.0000" stop-color="rgb(240,240,240)"/></linearGradient><linearGradient id="L10" x1="0" y1="0" x2="0" y2="1"><stop offset="0.0000" stop-color="rgb(238,238,238)"/><stop offset="0.0036" stop-color="rgb(238,238,238)"/><stop offset="0.0071" stop-color="rgb(238,238,238)"/><stop offset="0.0107" stop-color="rgb(238,238,238)"/><stop offset="0.0143" stop-color="rgb(238,238,238)"/><stop offset="0.0179" stop-color="rgb(238,238,238)"/><stop offset="0.0214" stop-color="rgb(238,238,238)"/><stop offset="0.0250" stop-color="rgb(238,238,238)"/><stop offset="0.0286" stop-color="rgb(238,238,238)"/><stop offset="0.0321" stop-color="rgb(238,238,238)"/><stop offset="0.0357" stop-color="rgb(238,238,238)"/><stop offset="0.0393" stop-color="rgb(238,238,238)"/><stop offset="0.0429" stop-color="rgb(238,238,238)"/><stop offset="0.0464" stop-color="rgb(238,238,238)"/><stop offset="0.0500" stop-color="rgb(238,238,238)"/><stop offset="0.0536" stop-color="rgb(238,238,238)"/><stop offset="0.0571" stop-color="rgb(238,238,238)"/><stop offset="0.0607" stop-color="rgb(238,238,238)"/><stop offset="0.0643" stop-color="rgb(238,238,238)"/><stop offset="0.0679" stop-color="rgb(238,238,238)"/><stop offset="0.0714" stop-color="rgb(238,238,238)"/><stop offset="0.0750" stop-color="rgb(238,238,238)"/><stop offset="0.0786" stop-color="rgb(238,238,238)"/><stop offset="0.0821" stop-color="rgb(205,205,205)"/><stop offset="0.0857" stop-color="rgb(197,197,197)"/><stop offset="0.0893" stop-color="rgb(186,186,186)"/><stop offset="0.0929" stop-color="rgb(176,176,176)"/><stop offset="0.0964" stop-color="rgb(168,168,168)"/><stop offset="0.1000" stop-color="rgb(162,162,162)"/><stop offset="0.1036" stop-color="rgb(162,162,162)"/><stop offset="0.1071" stop-color="rgb(165,165,165)"/><stop offset="0.1107" stop-color="rgb(170,170,170)"/><stop offset="0.1143" stop-color="rgb(167,167,167)"/><stop offset="0.1179" stop-color="rgb(162,162,162)"/><stop offset="0.1214" stop-color="rgb(159,159,159)"/><stop offset="0.1250" stop-color="rgb(156,156,156)"/><stop offset="0.1286" stop-color="rgb(156,156,156)"/><stop offset="0.1321" stop-color="rgb(155,155,155)"/><stop offset="0.1357" stop-color="rgb(155,155,155)"/><stop offset="0.1393" stop-color="rgb(156,156,156)"/><stop offset="0.1429" stop-color="rgb(154,154,154)"/><stop offset="0.1464" stop-color="rgb(152,152,152)"/><stop offset="0.1500" stop-color="rgb(150,150,150)"/><stop offset="0.1536" stop-color="rgb(148,148,148)"/><stop offset="0.1571" stop-color="rgb(147,147,147)"/><stop offset="0.1607" stop-color="rgb(146,146,146)"/><stop offset="0.1643" stop-color="rgb(147,147,147)"/><stop offset="0.1679" stop-color="rgb(147,147,147)"/><stop offset="0.1714" stop-color="rgb(146,146,146)"/><stop offset="0.1750" stop-color="rgb(144,144,144)"/><stop offset="0.1786" stop-color="rgb(143,143,143)"/><stop offset="0.1821" stop-color="rgb(144,144,144)"/><stop offset="0.1857" stop-color="rgb(146,146,146)"/><stop offset="0.1893" stop-color="rgb(149,149,149)"/><stop offset="0.1929" stop-color="rgb(149,149,149)"/><stop offset="0.1964" stop-color="rgb(148,148,148)"/><stop offset="0.2000" stop-color="rgb(145,145,145)"/><stop offset="0.2036" stop-color="rgb(143,143,143)"/><stop offset="0.2071" stop-color="rgb(144,144,144)"/><stop offset="0.2107" stop-color="rgb(147,147,147)"/><stop offset="0.2143" stop-color="rgb(151,151,151)"/><stop offset="0.2179" stop-color="rgb(151,151,151)"/><stop offset="0.2214" stop-color="rgb(147,147,147)"/><stop offset="0.2250" stop-color="rgb(142,142,142)"/><stop offset="0.2286" stop-color="rgb(139,139,139)"/><stop offset="0.2321" stop-color="rgb(140,140,140)"/><stop offset="0.2357" stop-color="rgb(145,145,145)"/><stop offset="0.2393" stop-color="rgb(149,149,149)"/><stop offset="0.2429" stop-color="rgb(150,150,150)"/><stop offset="0.2464" stop-color="rgb(145,145,145)"/><stop offset="0.2500" stop-color="rgb(139,139,139)"/><stop offset="0.2536" stop-color="rgb(136,136,136)"/><stop offset="0.2571" stop-color="rgb(138,138,138)"/><stop offset="0.2607" stop-color="rgb(143,143,143)"/><stop offset="0.2643" stop-color="rgb(149,149,149)"/><stop offset="0.2679" stop-color="rgb(151,151,151)"/><stop offset="0.2714" stop-color="rgb(146,146,146)"/><stop offset="0.2750" stop-color="rgb(136,136,136)"/><stop offset="0.2786" stop-color="rgb(129,129,129)"/><stop offset="0.2821" stop-color="rgb(129,129,129)"/><stop offset="0.2857" stop-color="rgb(136,136,136)"/><stop offset="0.2893" stop-color="rgb(143,143,143)"/><stop offset="0.2929" stop-color="rgb(140,140,140)"/><stop offset="0.2964" stop-color="rgb(128,128,128)"/><stop offset="0.3000" stop-color="rgb(116,116,116)"/><stop offset="0.3036" stop-color="rgb(112,112,112)"/><stop offset="0.3071" stop-color="rgb(118,118,118)"/><stop offset="0.3107" stop-color="rgb(124,124,124)"/><stop offset="0.3143" stop-color="rgb(128,128,128)"/><stop offset="0.3179" stop-color="rgb(125,125,125)"/><stop offset="0.3214" stop-color="rgb(115,115,115)"/><stop offset="0.3250" stop-color="rgb(107,107,107)"/><stop offset="0.3286" stop-color="rgb(104,104,104)"/><stop offset="0.3321" stop-color="rgb(102,102,102)"/><stop offset="0.3357" stop-color="rgb(107,107,107)"/><stop offset="0.3393" stop-color="rgb(112,112,112)"/><stop offset="0.3429" stop-color="rgb(115,115,115)"/><stop offset="0.3464" stop-color="rgb(111,111,111)"/><stop offset="0.3500" stop-color="rgb(98,98,98)"/><stop offset="0.3536" stop-color="rgb(89,89,89)"/><stop offset="0.3571" stop-color="rgb(88,88,88)"/><stop offset="0.3607" stop-color="rgb(97,97,97)"/><stop offset="0.3643" stop-color="rgb(111,111,111)"/><stop offset="0.3679" stop-color="rgb(116,116,116)"/><stop offset="0.3714" stop-color="rgb(110,110,110)"/><stop offset="0.3750" stop-color="rgb(95,95,95)"/><stop offset="0.3786" stop-color="rgb(85,85,85)"/><stop offset="0.3821" stop-color="rgb(87,87,87)"/><stop offset="0.3857" stop-color="rgb(102,102,102)"/><stop offset="0.3893" stop-color="rgb(115,115,115)"/><stop offset="0.3929" stop-color="rgb(121,121,121)"/><stop offset="0.3964" stop-color="rgb(110,110,110)"/><stop offset="0.4000" stop-color="rgb(97,97,97)"/><stop offset="0.4036" stop-color="rgb(88,88,88)"/><stop offset="0.4071" stop-color="rgb(95,95,95)"/><stop offset="0.4107" stop-color="rgb(108,108,108)"/><stop offset="0.4143" stop-color="rgb(119,119,119)"/><stop offset="0.4179" stop-color="rgb(122,122,122)"/><stop offset="0.4214" stop-color="rgb(111,111,111)"/><stop offset="0.4250" stop-color="rgb(98,98,98)"/><stop offset="0.4286" stop-color="rgb(89,89,89)"/><stop offset="0.4321" stop-color="rgb(100,100,100)"/><stop offset="0.4357" stop-color="rgb(113,113,113)"/><stop offset="0.4393" stop-color="rgb(124,124,124)"/><stop offset="0.4429" stop-color="rgb(127,127,127)"/><stop offset="0.4464" stop-color="rgb(118,118,118)"/><stop offset="0.4500" stop-color="rgb(109,109,109)"/><stop offset="0.4536" stop-color="rgb(102,102,102)"/><stop offset="0.4571" stop-color="rgb(109,109,109)"/><stop offset="0.4607" stop-color="rgb(120,120,120)"/><stop offset="0.4643" stop-color="rgb(131,131,131)"/><stop offset="0.4679" stop-color="rgb(140,140,140)"/><stop offset="0.4714" stop-color="rgb(147,147,147)"/><stop offset="0.4750" stop-color="rgb(142,142,142)"/><stop offset="0.4786" stop-color="rgb(135,135,135)"/><stop offset="0.4821" stop-color="rgb(129,129,129)"/><stop offset="0.4857" stop-color="rgb(130,130,130)"/><stop offset="0.4893" stop-color="rgb(137,137,137)"/><stop offset="0.4929" stop-color="rgb(144,144,144)"/><stop offset="0.4964" stop-color="rgb(151,151,151)"/><stop offset="0.5000" stop-color="rgb(157,157,157)"/><stop offset="0.5036" stop-color="rgb(155,155,155)"/><stop offset="0.5071" stop-color="rgb(149,149,149)"/><stop offset="0.5107" stop-color="rgb(144,144,144)"/><stop offset="0.5143" stop-color="rgb(139,139,139)"/><stop offset="0.5179" stop-color="rgb(142,142,142)"/><stop offset="0.5214" stop-color="rgb(148,148,148)"/><stop offset="0.5250" stop-color="rgb(154,154,154)"/><stop offset="0.5286" stop-color="rgb(161,161,161)"/><stop offset="0.5321" stop-color="rgb(167,167,167)"/><stop offset="0.5357" stop-color="rgb(171,171,171)"/><stop offset="0.5393" stop-color="rgb(167,167,167)"/><stop offset="0.5429" stop-color="rgb(162,162,162)"/><stop offset="0.5464" stop-color="rgb(158,158,158)"/><stop offset="0.5500" stop-color="rgb(153,153,153)"/><stop offset="0.5536" stop-color="rgb(156,156,156)"/><stop offset="0.5571" stop-color="rgb(161,161,161)"/><stop offset="0.5607" stop-color="rgb(167,167,167)"/><stop offset="0.5643" stop-color="rgb(172,172,172)"/><stop offset="0.5679" stop-color="rgb(178,178,178)"/><stop offset="0.5714" stop-color="rgb(183,183,183)"/><stop offset="0.5750" stop-color="rgb(184,184,184)"/><stop offset="0.5786" stop-color="rgb(179,179,179)"/><stop offset="0.5821" stop-color="rgb(174,174,174)"/><stop offset="0.5857" stop-color="rgb(168,168,168)"/><stop offset="0.5893" stop-color="rgb(163,163,163)"/><stop offset="0.5929" stop-color="rgb(157,157,157)"/><stop offset="0.5964" stop-color="rgb(158,158,158)"/><stop offset="0.6000" stop-color="rgb(163,163,163)"/><stop offset="0.6036" stop-color="rgb(169,169,169)"/><stop offset="0.6071" stop-color="rgb(174,174,174)"/><stop offset="0.6107" stop-color="rgb(180,180,180)"/><stop offset="0.6143" stop-color="rgb(185,185,185)"/><stop offset="0.6179" stop-color="rgb(190,190,190)"/><stop offset="0.6214" stop-color="rgb(195,195,195)"/><stop offset="0.6250" stop-color="rgb(194,194,194)"/><stop offset="0.6286" stop-color="rgb(190,190,190)"/><stop offset="0.6321" stop-color="rgb(185,185,185)"/><stop offset="0.6357" stop-color="rgb(181,181,181)"/><stop offset="0.6393" stop-color="rgb(176,176,176)"/><stop offset="0.6429" stop-color="rgb(171,171,171)"/><stop offset="0.6464" stop-color="rgb(171,171,171)"/><stop offset="0.6500" stop-color="rgb(175,175,175)"/><stop offset="0.6536" stop-color="rgb(180,180,180)"/><stop offset="0.6571" stop-color="rgb(184,184,184)"/><stop offset="0.6607" stop-color="rgb(188,188,188)"/><stop offset="0.6643" stop-color="rgb(192,192,192)"/><stop offset="0.6679" stop-color="rgb(197,197,197)"/><stop offset="0.6714" stop-color="rgb(202,202,202)"/><stop offset="0.6750" stop-color="rgb(206,206,206)"/><stop offset="0.6786" stop-color="rgb(212,212,212)"/><stop offset="0.6821" stop-color="rgb(209,209,209)"/><stop offset="0.6857" stop-color="rgb(205,205,205)"/><stop offset="0.6893" stop-color="rgb(200,200,200)"/><stop offset="0.6929" stop-color="rgb(196,196,196)"/><stop offset="0.6964" stop-color="rgb(191,191,191)"/><stop offset="0.7000" stop-color="rgb(187,187,187)"/><stop offset="0.7036" stop-color="rgb(182,182,182)"/><stop offset="0.7071" stop-color="rgb(180,180,180)"/><stop offset="0.7107" stop-color="rgb(183,183,183)"/><stop offset="0.7143" stop-color="rgb(186,186,186)"/><stop offset="0.7179" stop-color="rgb(189,189,189)"/><stop offset="0.7214" stop-color="rgb(192,192,192)"/><stop offset="0.7250" stop-color="rgb(195,195,195)"/><stop offset="0.7286" stop-color="rgb(198,198,198)"/><stop offset="0.7321" stop-color="rgb(201,201,201)"/><stop offset="0.7357" stop-color="rgb(203,203,203)"/><stop offset="0.7393" stop-color="rgb(207,207,207)"/><stop offset="0.7429" stop-color="rgb(211,211,211)"/><stop offset="0.7464" stop-color="rgb(214,214,214)"/><stop offset="0.7500" stop-color="rgb(218,218,218)"/><stop offset="0.7536" stop-color="rgb(222,222,222)"/><stop offset="0.7571" stop-color="rgb(223,223,223)"/><stop offset="0.7607" stop-color="rgb(220,220,220)"/><stop offset="0.7643" stop-color="rgb(217,217,217)"/><stop offset="0.7679" stop-color="rgb(215,215,215)"/><stop offset="0.7714" stop-color="rgb(212,212,212)"/><stop offset="0.7750" stop-color="rgb(209,209,209)"/><stop offset="0.7786" stop-color="rgb(206,206,206)"/><stop offset="0.7821" stop-color="rgb(203,203,203)"/><stop offset="0.7857" stop-color="rgb(205,205,205)"/><stop offset="0.7893" stop-color="rgb(207,207,207)"/><stop offset="0.7929" stop-color="rgb(210,210,210)"/><stop offset="0.7964" stop-color="rgb(213,213,213)"/><stop offset="0.8000" stop-color="rgb(216,216,216)"/><stop offset="0.8036" stop-color="rgb(219,219,219)"/><stop offset="0.8071" stop-color="rgb(221,221,221)"/><stop offset="0.8107" stop-color="rgb(224,224,224)"/><stop offset="0.8143" stop-color="rgb(226,226,226)"/><stop offset="0.8179" stop-color="rgb(228,228,228)"/><stop offset="0.8214" stop-color="rgb(231,231,231)"/><stop offset="0.8250" stop-color="rgb(233,233,233)"/><stop offset="0.8286" stop-color="rgb(235,235,235)"/><stop offset="0.8321" stop-color="rgb(237,237,237)"/><stop offset="0.8357" stop-color="rgb(239,239,239)"/><stop offset="0.8393" stop-color="rgb(240,240,240)"/><stop offset="0.8429" stop-color="rgb(240,240,240)"/><stop offset="0.8464" stop-color="rgb(240,240,240)"/><stop offset="0.8500" stop-color="rgb(240,240,240)"/><stop offset="0.8536" stop-color="rgb(240,240,240)"/><stop offset="0.8571" stop-color="rgb(240,240,240)"/><stop offset="0.8607" stop-color="rgb(240,240,240)"/><stop offset="0.8643" stop-color="rgb(240,240,240)"/><stop offset="0.8679" stop-color="rgb(240,240,240)"/><stop offset="0.8714" stop-color="rgb(240,240,240)"/><stop offset="0.8750" stop-color="rgb(240,240,240)"/><stop offset="0.8786" stop-color="rgb(240,240,240)"/><stop offset="0.8821" stop-color="rgb(238,238,238)"/><stop offset="0.8857" stop-color="rgb(236,236,236)"/><stop offset="0.8893" stop-color="rgb(233,233,233)"/><stop offset="0.8929" stop-color="rgb(230,230,230)"/><stop offset="0.8964" stop-color="rgb(226,226,226)"/><stop offset="0.9000" stop-color="rgb(224,224,224)"/><stop offset="0.9036" stop-color="rgb(222,222,222)"/><stop offset="0.9071" stop-color="rgb(223,223,223)"/><stop offset="0.9107" stop-color="rgb(225,225,225)"/><stop offset="0.9143" stop-color="rgb(229,229,229)"/><stop offset="0.9179" stop-color="rgb(232,232,232)"/><stop offset="0.9214" stop-color="rgb(235,235,235)"/><stop offset="0.9250" stop-color="rgb(237,237,237)"/><stop offset="0.9286" stop-color="rgb(239,239,239)"/><stop offset="0.9321" stop-color="rgb(240,240,240)"/><stop offset="0.9357" stop-color="rgb(240,240,240)"/><stop offset="0.9393" stop-color="rgb(240,240,240)"/><stop offset="0.9429" stop-color="rgb(240,240,240)"/><stop offset="0.9464" stop-color="rgb(240,240,240)"/><stop offset="0.9500" stop-color="rgb(240,240,240)"/><stop offset="0.9536" stop-color="rgb(240,240,240)"/><stop offset="0.9571" stop-color="rgb(240,240,240)"/><stop offset="0.9607" stop-color="rgb(240,240,240)"/><stop offset="0.9643" stop-color="rgb(240,240,240)"/><stop offset="0.9679" stop-color="rgb(240,240,240)"/><stop offset="0.9714" stop-color="rgb(240,240,240)"/><stop offset="0.9750" stop-color="rgb(240,240,240)"/><stop offset="0.9786" stop-color="rgb(240,240,240)"/><stop offset="0.9821" stop-color="rgb(240,240,240)"/><stop offset="0.9857" stop-color="rgb(240,240,240)"/><stop offset="0.9893" stop-color="rgb(240,240,240)"/><stop offset="0.9929" stop-color="rgb(240,240,240)"/><stop offset="0.9964" stop-color="rgb(240,240,240)"/><stop offset="1.0000" stop-color="rgb(240,240,240)"/></linearGradient><linearGradient id="L11" x1="0" y1="0" x2="0" y2="1"><stop offset="0.0000" stop-color="rgb(238,238,238)"/><stop offset="0.0036" stop-color="rgb(238,238,238)"/><stop offset="0.0071" stop-color="rgb(238,238,238)"/><stop offset="0.0107" stop-color="rgb(238,238,238)"/><stop offset="0.0143" stop-color="rgb(238,238,238)"/><stop offset="0.0179" stop-color="rgb(238,238,238)"/><stop offset="0.0214" stop-color="rgb(238,238,238)"/><stop offset="0.0250" stop-color="rgb(238,238,238)"/><stop offset="0.0286" stop-color="rgb(238,238,238)"/><stop offset="0.0321" stop-color="rgb(238,238,238)"/><stop offset="0.0357" stop-color="rgb(238,238,238)"/><stop offset="0.0393" stop-color="rgb(238,238,238)"/><stop offset="0.0429" stop-color="rgb(238,238,238)"/><stop offset="0.0464" stop-color="rgb(238,238,238)"/><stop offset="0.0500" stop-color="rgb(238,238,238)"/><stop offset="0.0536" stop-color="rgb(238,238,238)"/><stop offset="0.0571" stop-color="rgb(238,238,238)"/><stop offset="0.0607" stop-color="rgb(238,238,238)"/><stop offset="0.0643" stop-color="rgb(238,238,238)"/><stop offset="0.0679" stop-color="rgb(238,238,238)"/><stop offset="0.0714" stop-color="rgb(238,238,238)"/><stop offset="0.0750" stop-color="rgb(238,238,238)"/><stop offset="0.0786" stop-color="rgb(238,238,238)"/><stop offset="0.0821" stop-color="rgb(206,206,206)"/><stop offset="0.0857" stop-color="rgb(198,198,198)"/><stop offset="0.0893" stop-color="rgb(188,188,188)"/><stop offset="0.0929" stop-color="rgb(178,178,178)"/><stop offset="0.0964" stop-color="rgb(169,169,169)"/><stop offset="0.1000" stop-color="rgb(164,164,164)"/><stop offset="0.1036" stop-color="rgb(164,164,164)"/><stop offset="0.1071" stop-color="rgb(168,168,168)"/><stop offset="0.1107" stop-color="rgb(173,173,173)"/><stop offset="0.1143" stop-color="rgb(170,170,170)"/><stop offset="0.1179" stop-color="rgb(165,165,165)"/><stop offset="0.1214" stop-color="rgb(162,162,162)"/><stop offset="0.1250" stop-color="rgb(160,160,160)"/><stop offset="0.1286" stop-color="rgb(159,159,159)"/><stop offset="0.1321" stop-color="rgb(159,159,159)"/><stop offset="0.1357" stop-color="rgb(159,159,159)"/><stop offset="0.1393" stop-color="rgb(159,159,159)"/><stop offset="0.1429" stop-color="rgb(158,158,158)"/><stop offset="0.1464" stop-color="rgb(156,156,156)"/><stop offset="0.1500" stop-color="rgb(154,154,154)"/><stop offset="0.1536" stop-color="rgb(152,152,152)"/><stop offset="0.1571" stop-color="rgb(151,151,151)"/><stop offset="0.1607" stop-color="rgb(151,151,151)"/><stop offset="0.1643" stop-color="rgb(151,151,151)"/><stop offset="0.1679" stop-color="rgb(151,151,151)"/><stop offset="0.1714" stop-color="rgb(150,150,150)"/><stop offset="0.1750" stop-color="rgb(148,148,148)"/><stop offset="0.1786" stop-color="rgb(147,147,147)"/><stop offset="0.1821" stop-color="rgb(148,148,148)"/><stop offset="0.1857" stop-color="rgb(151,151,151)"/><stop offset="0.1893" stop-color="rgb(153,153,153)"/><stop offset="0.1929" stop-color="rgb(154,154,154)"/><stop offset="0.1964" stop-color="rgb(152,152,152)"/><stop offset="0.2000" stop-color="rgb(150,150,150)"/><stop offset="0.2036" stop-color="rgb(148,148,148)"/><stop offset="0.2071" stop-color="rgb(149,149,149)"/><stop offset="0.2107" stop-color="rgb(152,152,152)"/><stop offset="0.2143" stop-color="rgb(155,155,155)"/><stop offset="0.2179" stop-color="rgb(156,156,156)"/><stop offset="0.2214" stop-color="rgb(152,152,152)"/><stop offset="0.2250" stop-color="rgb(148,148,148)"/><stop offset="0.2286" stop-color="rgb(145,145,145)"/><stop offset="0.2321" stop-color="rgb(146,146,146)"/><stop offset="0.2357" stop-color="rgb(151,151,151)"/><stop offset="0.2393" stop-color="rgb(155,155,155)"/><stop offset="0.2429" stop-color="rgb(156,156,156)"/><stop offset="0.2464" stop-color="rgb(152,152,152)"/><stop offset="0.2500" stop-color="rgb(146,146,146)"/><stop offset="0.2536" stop-color="rgb(144,144,144)"/><stop offset="0.2571" stop-color="rgb(145,145,145)"/><stop offset="0.2607" stop-color="rgb(151,151,151)"/><stop offset="0.2643" stop-color="rgb(156,156,156)"/><stop offset="0.2679" stop-color="rgb(158,158,158)"/><stop offset="0.2714" stop-color="rgb(154,154,154)"/><stop offset="0.2750" stop-color="rgb(144,144,144)"/><stop offset="0.2786" stop-color="rgb(138,138,138)"/><stop offset="0.2821" stop-color="rgb(138,138,138)"/><stop offset="0.2857" stop-color="rgb(145,145,145)"/><stop offset="0.2893" stop-color="rgb(152,152,152)"/><stop offset="0.2929" stop-color="rgb(149,149,149)"/><stop offset="0.2964" stop-color="rgb(138,138,138)"/><stop offset="0.3000" stop-color="rgb(127,127,127)"/><stop offset="0.3036" stop-color="rgb(124,124,124)"/><stop offset="0.3071" stop-color="rgb(129,129,129)"/><stop offset="0.3107" stop-color="rgb(135,135,135)"/><stop offset="0.3143" stop-color="rgb(139,139,139)"/><stop offset="0.3179" stop-color="rgb(136,136,136)"/><stop offset="0.3214" stop-color="rgb(128,128,128)"/><stop offset="0.3250" stop-color="rgb(120,120,120)"/><stop offset="0.3286" stop-color="rgb(118,118,118)"/><stop offset="0.3321" stop-color="rgb(117,117,117)"/><stop offset="0.3357" stop-color="rgb(121,121,121)"/><stop offset="0.3393" stop-color="rgb(125,125,125)"/><stop offset="0.3429" stop-color="rgb(128,128,128)"/><stop offset="0.3464" stop-color="rgb(125,125,125)"/><stop offset="0.3500" stop-color="rgb(114,114,114)"/><stop offset="0.3536" stop-color="rgb(106,106,106)"/><stop offset="0.3571" stop-color="rgb(106,106,106)"/><stop offset="0.3607" stop-color="rgb(114,114,114)"/><stop offset="0.3643" stop-color="rgb(127,127,127)"/><stop offset="0.3679" stop-color="rgb(132,132,132)"/><stop offset="0.3714" stop-color="rgb(127,127,127)"/><stop offset="0.3750" stop-color="rgb(113,113,113)"/><stop offset="0.3786" stop-color="rgb(104,104,104)"/><stop offset="0.3821" stop-color="rgb(106,106,106)"/><stop offset="0.3857" stop-color="rgb(120,120,120)"/><stop offset="0.3893" stop-color="rgb(132,132,132)"/><stop offset="0.3929" stop-color="rgb(138,138,138)"/><stop offset="0.3964" stop-color="rgb(128,128,128)"/><stop offset="0.4000" stop-color="rgb(117,117,117)"/><stop offset="0.4036" stop-color="rgb(109,109,109)"/><stop offset="0.4071" stop-color="rgb(116,116,116)"/><stop offset="0.4107" stop-color="rgb(128,128,128)"/><stop offset="0.4143" stop-color="rgb(138,138,138)"/><stop offset="0.4179" stop-color="rgb(140,140,140)"/><stop offset="0.4214" stop-color="rgb(130,130,130)"/><stop offset="0.4250" stop-color="rgb(119,119,119)"/><stop offset="0.4286" stop-color="rgb(111,111,111)"/><stop offset="0.4321" stop-color="rgb(121,121,121)"/><stop offset="0.4357" stop-color="rgb(133,133,133)"/><stop offset="0.4393" stop-color="rgb(143,143,143)"/><stop offset="0.4429" stop-color="rgb(146,146,146)"/><stop offset="0.4464" stop-color="rgb(138,138,138)"/><stop offset="0.4500" stop-color="rgb(130,130,130)"/><stop offset="0.4536" stop-color="rgb(124,124,124)"/><stop offset="0.4571" stop-color="rgb(130,130,130)"/><stop offset="0.4607" stop-color="rgb(140,140,140)"/><stop offset="0.4643" stop-color="rgb(150,150,150)"/><stop offset="0.4679" stop-color="rgb(159,159,159)"/><stop offset="0.4714" stop-color="rgb(166,166,166)"/><stop offset="0.4750" stop-color="rgb(161,161,161)"/><stop offset="0.4786" stop-color="rgb(154,154,154)"/><stop offset="0.4821" stop-color="rgb(148,148,148)"/><stop offset="0.4857" stop-color="rgb(149,149,149)"/><stop offset="0.4893" stop-color="rgb(156,156,156)"/><stop offset="0.4929" stop-color="rgb(162,162,162)"/><stop offset="0.4964" stop-color="rgb(168,168,168)"/><stop offset="0.5000" stop-color="rgb(174,174,174)"/><stop offset="0.5036" stop-color="rgb(172,172,172)"/><stop offset="0.5071" stop-color="rgb(166,166,166)"/><stop offset="0.5107" stop-color="rgb(161,161,161)"/><stop offset="0.5143" stop-color="rgb(156,156,156)"/><stop offset="0.5179" stop-color="rgb(158,158,158)"/><stop offset="0.5214" stop-color="rgb(164,164,164)"/><stop offset="0.5250" stop-color="rgb(170,170,170)"/><stop offset="0.5286" stop-color="rgb(176,176,176)"/><stop offset="0.5321" stop-color="rgb(182,182,182)"/><stop offset="0.5357" stop-color="rgb(185,185,185)"/><stop offset="0.5393" stop-color="rgb(181,181,181)"/><stop offset="0.5429" stop-color="rgb(176,176,176)"/><stop offset="0.5464" stop-color="rgb(171,171,171)"/><stop offset="0.5500" stop-color="rgb(166,166,166)"/><stop offset="0.5536" stop-color="rgb(169,169,169)"/><stop offset="0.5571" stop-color="rgb(173,173,173)"/><stop offset="0.5607" stop-color="rgb(178,178,178)"/><stop offset="0.5643" stop-color="rgb(183,183,183)"/><stop offset="0.5679" stop-color="rgb(188,188,188)"/><stop offset="0.5714" stop-color="rgb(193,193,193)"/><stop offset="0.5750" stop-color="rgb(194,194,194)"/><stop offset="0.5786" stop-color="rgb(188,188,188)"/><stop offset="0.5821" stop-color="rgb(183,183,183)"/><stop offset="0.5857" stop-color="rgb(178,178,178)"/><stop offset="0.5893" stop-color="rgb(172,172,172)"/><stop offset="0.5929" stop-color="rgb(167,167,167)"/><stop offset="0.5964" stop-color="rgb(167,167,167)"/><stop offset="0.6000" stop-color="rgb(172,172,172)"/><stop offset="0.6036" stop-color="rgb(177,177,177)"/><stop offset="0.6071" stop-color="rgb(182,182,182)"/><stop offset="0.6107" stop-color="rgb(187,187,187)"/><stop offset="0.6143" stop-color="rgb(191,191,191)"/><stop offset="0.6179" stop-color="rgb(196,196,196)"/><stop offset="0.6214" stop-color="rgb(201,201,201)"/><stop offset="0.6250" stop-color="rgb(200,200,200)"/><stop offset="0.6286" stop-color="rgb(195,195,195)"/><stop offset="0.6321" stop-color="rgb(191,191,191)"/><stop offset="0.6357" stop-color="rgb(186,186,186)"/><stop offset="0.6393" stop-color="rgb(182,182,182)"/><stop offset="0.6429" stop-color="rgb(177,177,177)"/><stop offset="0.6464" stop-color="rgb(177,177,177)"/><stop offset="0.6500" stop-color="rgb(181,181,181)"/><stop offset="0.6536" stop-color="rgb(184,184,184)"/><stop offset="0.6571" stop-color="rgb(188,188,188)"/><stop offset="0.6607" stop-color="rgb(192,192,192)"/><stop offset="0.6643" stop-color="rgb(196,196,196)"/><stop offset="0.6679" stop-color="rgb(201,201,201)"/><stop offset="0.6714" stop-color="rgb(205,205,205)"/><stop offset="0.6750" stop-color="rgb(209,209,209)"/><stop offset="0.6786" stop-color="rgb(214,214,214)"/><stop offset="0.6821" stop-color="rgb(212,212,212)"/><stop offset="0.6857" stop-color="rgb(207,207,207)"/><stop offset="0.6893" stop-color="rgb(203,203,203)"/><stop offset="0.6929" stop-color="rgb(199,199,199)"/><stop offset="0.6964" stop-color="rgb(194,194,194)"/><stop offset="0.7000" stop-color="rgb(190,190,190)"/><stop offset="0.7036" stop-color="rgb(185,185,185)"/><stop offset="0.7071" stop-color="rgb(184,184,184)"/><stop offset="0.7107" stop-color="rgb(186,186,186)"/><stop offset="0.7143" stop-color="rgb(189,189,189)"/><stop offset="0.7179" stop-color="rgb(192,192,192)"/><stop offset="0.7214" stop-color="rgb(194,194,194)"/><stop offset="0.7250" stop-color="rgb(197,197,197)"/><stop offset="0.7286" stop-color="rgb(200,200,200)"/><stop offset="0.7321" stop-color="rgb(202,202,202)"/><stop offset="0.7357" stop-color="rgb(205,205,205)"/><stop offset="0.7393" stop-color="rgb(209,209,209)"/><stop offset="0.7429" stop-color="rgb(212,212,212)"/><stop offset="0.7464" stop-color="rgb(215,215,215)"/><stop offset="0.7500" stop-color="rgb(219,219,219)"/><stop offset="0.7536" stop-color="rgb(223,223,223)"/><stop offset="0.7571" stop-color="rgb(224,224,224)"/><stop offset="0.7607" stop-color="rgb(221,221,221)"/><stop offset="0.7643" stop-color="rgb(219,219,219)"/><stop offset="0.7679" stop-color="rgb(216,216,216)"/><stop offset="0.7714" stop-color="rgb(213,213,213)"/><stop offset="0.7750" stop-color="rgb(210,210,210)"/><stop offset="0.7786" stop-color="rgb(208,208,208)"/><stop offset="0.7821" stop-color="rgb(205,205,205)"/><stop offset="0.7857" stop-color="rgb(206,206,206)"/><stop offset="0.7893" stop-color="rgb(209,209,209)"/><stop offset="0.7929" stop-color="rgb(212,212,212)"/><stop offset="0.7964" stop-color="rgb(215,215,215)"/><stop offset="0.8000" stop-color="rgb(217,217,217)"/><stop offset="0.8036" stop-color="rgb(220,220,220)"/><stop offset="0.8071" stop-color="rgb(222,222,222)"/><stop offset="0.8107" stop-color="rgb(225,225,225)"/><stop offset="0.8143" stop-color="rgb(227,227,227)"/><stop offset="0.8179" stop-color="rgb(229,229,229)"/><stop offset="0.8214" stop-color="rgb(231,231,231)"/><stop offset="0.8250" stop-color="rgb(233,233,233)"/><stop offset="0.8286" stop-color="rgb(236,236,236)"/><stop offset="0.8321" stop-color="rgb(238,238,238)"/><stop offset="0.8357" stop-color="rgb(239,239,239)"/><stop offset="0.8393" stop-color="rgb(240,240,240)"/><stop offset="0.8429" stop-color="rgb(240,240,240)"/><stop offset="0.8464" stop-color="rgb(240,240,240)"/><stop offset="0.8500" stop-color="rgb(240,240,240)"/><stop offset="0.8536" stop-color="rgb(240,240,240)"/><stop offset="0.8571" stop-color="rgb(240,240,240)"/><stop offset="0.8607" stop-color="rgb(240,240,240)"/><stop offset="0.8643" stop-color="rgb(240,240,240)"/><stop offset="0.8679" stop-color="rgb(240,240,240)"/><stop offset="0.8714" stop-color="rgb(240,240,240)"/><stop offset="0.8750" stop-color="rgb(240,240,240)"/><stop offset="0.8786" stop-color="rgb(240,240,240)"/><stop offset="0.8821" stop-color="rgb(239,239,239)"/><stop offset="0.8857" stop-color="rgb(236,236,236)"/><stop offset="0.8893" stop-color="rgb(233,233,233)"/><stop offset="0.8929" stop-color="rgb(230,230,230)"/><stop offset="0.8964" stop-color="rgb(227,227,227)"/><stop offset="0.9000" stop-color="rgb(224,224,224)"/><stop offset="0.9036" stop-color="rgb(223,223,223)"/><stop offset="0.9071" stop-color="rgb(223,223,223)"/><stop offset="0.9107" stop-color="rgb(226,226,226)"/><stop offset="0.9143" stop-color="rgb(229,229,229)"/><stop offset="0.9179" stop-color="rgb(232,232,232)"/><stop offset="0.9214" stop-color="rgb(235,235,235)"/><stop offset="0.9250" stop-color="rgb(238,238,238)"/><stop offset="0.9286" stop-color="rgb(240,240,240)"/><stop offset="0.9321" stop-color="rgb(240,240,240)"/><stop offset="0.9357" stop-color="rgb(240,240,240)"/><stop offset="0.9393" stop-color="rgb(240,240,240)"/><stop offset="0.9429" stop-color="rgb(240,240,240)"/><stop offset="0.9464" stop-color="rgb(240,240,240)"/><stop offset="0.9500" stop-color="rgb(240,240,240)"/><stop offset="0.9536" stop-color="rgb(240,240,240)"/><stop offset="0.9571" stop-color="rgb(240,240,240)"/><stop offset="0.9607" stop-color="rgb(240,240,240)"/><stop offset="0.9643" stop-color="rgb(240,240,240)"/><stop offset="0.9679" stop-color="rgb(240,240,240)"/><stop offset="0.9714" stop-color="rgb(240,240,240)"/><stop offset="0.9750" stop-color="rgb(240,240,240)"/><stop offset="0.9786" stop-color="rgb(240,240,240)"/><stop offset="0.9821" stop-color="rgb(240,240,240)"/><stop offset="0.9857" stop-color="rgb(240,240,240)"/><stop offset="0.9893" stop-color="rgb(240,240,240)"/><stop offset="0.9929" stop-color="rgb(240,240,240)"/><stop offset="0.9964" stop-color="rgb(240,240,240)"/><stop offset="1.0000" stop-color="rgb(240,240,240)"/></linearGradient><linearGradient id="L12" x1="0" y1="0" x2="0" y2="1"><stop offset="0.0000" stop-color="rgb(240,240,240)"/><stop offset="0.0036" stop-color="rgb(240,240,240)"/><stop offset="0.0071" stop-color="rgb(240,240,240)"/><stop offset="0.0107" stop-color="rgb(240,240,240)"/><stop offset="0.0143" stop-color="rgb(240,240,240)"/><stop offset="0.0179" stop-color="rgb(240,240,240)"/><stop offset="0.0214" stop-color="rgb(240,240,240)"/><stop offset="0.0250" stop-color="rgb(240,240,240)"/><stop offset="0.0286" stop-color="rgb(240,240,240)"/><stop offset="0.0321" stop-color="rgb(240,240,240)"/><stop offset="0.0357" stop-color="rgb(240,240,240)"/><stop offset="0.0393" stop-color="rgb(240,240,240)"/><stop offset="0.0429" stop-color="rgb(240,240,240)"/><stop offset="0.0464" stop-color="rgb(240,240,240)"/><stop offset="0.0500" stop-color="rgb(240,240,240)"/><stop offset="0.0536" stop-color="rgb(240,240,240)"/><stop offset="0.0571" stop-color="rgb(240,240,240)"/><stop offset="0.0607" stop-color="rgb(240,240,240)"/><stop offset="0.0643" stop-color="rgb(240,240,240)"/><stop offset="0.0679" stop-color="rgb(240,240,240)"/><stop offset="0.0714" stop-color="rgb(240,240,240)"/><stop offset="0.0750" stop-color="rgb(240,240,240)"/><stop offset="0.0786" stop-color="rgb(240,240,240)"/><stop offset="0.0821" stop-color="rgb(240,240,240)"/><stop offset="0.0857" stop-color="rgb(240,240,240)"/><stop offset="0.0893" stop-color="rgb(240,240,240)"/><stop offset="0.0929" stop-color="rgb(240,240,240)"/><stop offset="0.0964" stop-color="rgb(240,240,240)"/><stop offset="0.1000" stop-color="rgb(240,240,240)"/><stop offset="0.1036" stop-color="rgb(240,240,240)"/><stop offset="0.1071" stop-color="rgb(240,240,240)"/><stop offset="0.1107" stop-color="rgb(240,240,240)"/><stop offset="0.1143" stop-color="rgb(240,240,240)"/><stop offset="0.1179" stop-color="rgb(240,240,240)"/><stop offset="0.1214" stop-color="rgb(240,240,240)"/><stop offset="0.1250" stop-color="rgb(240,240,240)"/><stop offset="0.1286" stop-color="rgb(240,240,240)"/><stop offset="0.1321" stop-color="rgb(240,240,240)"/><stop offset="0.1357" stop-color="rgb(240,240,240)"/><stop offset="0.1393" stop-color="rgb(240,240,240)"/><stop offset="0.1429" stop-color="rgb(240,240,240)"/><stop offset="0.1464" stop-color="rgb(240,240,240)"/><stop offset="0.1500" stop-color="rgb(240,240,240)"/><stop offset="0.1536" stop-color="rgb(240,240,240)"/><stop offset="0.1571" stop-color="rgb(240,240,240)"/><stop offset="0.1607" stop-color="rgb(240,240,240)"/><stop offset="0.1643" stop-color="rgb(240,240,240)"/><stop offset="0.1679" stop-color="rgb(240,240,240)"/><stop offset="0.1714" stop-color="rgb(239,239,239)"/><stop offset="0.1750" stop-color="rgb(239,239,239)"/><stop offset="0.1786" stop-color="rgb(239,239,239)"/><stop offset="0.1821" stop-color="rgb(239,239,239)"/><stop offset="0.1857" stop-color="rgb(239,239,239)"/><stop offset="0.1893" stop-color="rgb(239,239,239)"/><stop offset="0.1929" stop-color="rgb(238,238,238)"/><stop offset="0.1964" stop-color="rgb(238,238,238)"/><stop offset="0.2000" stop-color="rgb(238,238,238)"/><stop offset="0.2036" stop-color="rgb(237,237,237)"/><stop offset="0.2071" stop-color="rgb(236,236,236)"/><stop offset="0.2107" stop-color="rgb(236,236,236)"/><stop offset="0.2143" stop-color="rgb(235,235,235)"/><stop offset="0.2179" stop-color="rgb(234,234,234)"/><stop offset="0.2214" stop-color="rgb(233,233,233)"/><stop offset="0.2250" stop-color="rgb(232,232,232)"/><stop offset="0.2286" stop-color="rgb(230,230,230)"/><stop offset="0.2321" stop-color="rgb(229,229,229)"/><stop offset="0.2357" stop-color="rgb(228,228,228)"/><stop offset="0.2393" stop-color="rgb(227,227,227)"/><stop offset="0.2429" stop-color="rgb(225,225,225)"/><stop offset="0.2464" stop-color="rgb(223,223,223)"/><stop offset="0.2500" stop-color="rgb(220,220,220)"/><stop offset="0.2536" stop-color="rgb(216,216,216)"/><stop offset="0.2571" stop-color="rgb(214,214,214)"/><stop offset="0.2607" stop-color="rgb(214,214,214)"/><stop offset="0.2643" stop-color="rgb(214,214,214)"/><stop offset="0.2679" stop-color="rgb(212,212,212)"/><stop offset="0.2714" stop-color="rgb(208,208,208)"/><stop offset="0.2750" stop-color="rgb(203,203,203)"/><stop offset="0.2786" stop-color="rgb(200,200,200)"/><stop offset="0.2821" stop-color="rgb(199,199,199)"/><stop offset="0.2857" stop-color="rgb(200,200,200)"/><stop offset="0.2893" stop-color="rgb(201,201,201)"/><stop offset="0.2929" stop-color="rgb(198,198,198)"/><stop offset="0.2964" stop-color="rgb(192,192,192)"/><stop offset="0.3000" stop-color="rgb(186,186,186)"/><stop offset="0.3036" stop-color="rgb(182,182,182)"/><stop offset="0.3071" stop-color="rgb(182,182,182)"/><stop offset="0.3107" stop-color="rgb(181,181,181)"/><stop offset="0.3143" stop-color="rgb(181,181,181)"/><stop offset="0.3179" stop-color="rgb(179,179,179)"/><stop offset="0.3214" stop-color="rgb(172,172,172)"/><stop offset="0.3250" stop-color="rgb(163,163,163)"/><stop offset="0.3286" stop-color="rgb(156,156,156)"/><stop offset="0.3321" stop-color="rgb(154,154,154)"/><stop offset="0.3357" stop-color="rgb(159,159,159)"/><stop offset="0.3393" stop-color="rgb(163,163,163)"/><stop offset="0.3429" stop-color="rgb(160,160,160)"/><stop offset="0.3464" stop-color="rgb(151,151,151)"/><stop offset="0.3500" stop-color="rgb(140,140,140)"/><stop offset="0.3536" stop-color="rgb(130,130,130)"/><stop offset="0.3571" stop-color="rgb(130,130,130)"/><stop offset="0.3607" stop-color="rgb(138,138,138)"/><stop offset="0.3643" stop-color="rgb(145,145,145)"/><stop offset="0.3679" stop-color="rgb(139,139,139)"/><stop offset="0.3714" stop-color="rgb(126,126,126)"/><stop offset="0.3750" stop-color="rgb(110,110,110)"/><stop offset="0.3786" stop-color="rgb(105,105,105)"/><stop offset="0.3821" stop-color="rgb(112,112,112)"/><stop offset="0.3857" stop-color="rgb(124,124,124)"/><stop offset="0.3893" stop-color="rgb(132,132,132)"/><stop offset="0.3929" stop-color="rgb(128,128,128)"/><stop offset="0.3964" stop-color="rgb(116,116,116)"/><stop offset="0.4000" stop-color="rgb(103,103,103)"/><stop offset="0.4036" stop-color="rgb(100,100,100)"/><stop offset="0.4071" stop-color="rgb(108,108,108)"/><stop offset="0.4107" stop-color="rgb(120,120,120)"/><stop offset="0.4143" stop-color="rgb(129,129,129)"/><stop offset="0.4179" stop-color="rgb(124,124,124)"/><stop offset="0.4214" stop-color="rgb(112,112,112)"/><stop offset="0.4250" stop-color="rgb(102,102,102)"/><stop offset="0.4286" stop-color="rgb(104,104,104)"/><stop offset="0.4321" stop-color="rgb(111,111,111)"/><stop offset="0.4357" stop-color="rgb(116,116,116)"/><stop offset="0.4393" stop-color="rgb(112,112,112)"/><stop offset="0.4429" stop-color="rgb(103,103,103)"/><stop offset="0.4464" stop-color="rgb(90,90,90)"/><stop offset="0.4500" stop-color="rgb(87,87,87)"/><stop offset="0.4536" stop-color="rgb(92,92,92)"/><stop offset="0.4571" stop-color="rgb(100,100,100)"/><stop offset="0.4607" stop-color="rgb(110,110,110)"/><stop offset="0.4643" stop-color="rgb(118,118,118)"/><stop offset="0.4679" stop-color="rgb(124,124,124)"/><stop offset="0.4714" stop-color="rgb(116,116,116)"/><stop offset="0.4750" stop-color="rgb(106,106,106)"/><stop offset="0.4786" stop-color="rgb(97,97,97)"/><stop offset="0.4821" stop-color="rgb(90,90,90)"/><stop offset="0.4857" stop-color="rgb(103,103,103)"/><stop offset="0.4893" stop-color="rgb(116,116,116)"/><stop offset="0.4929" stop-color="rgb(127,127,127)"/><stop offset="0.4964" stop-color="rgb(130,130,130)"/><stop offset="0.5000" stop-color="rgb(121,121,121)"/><stop offset="0.5036" stop-color="rgb(113,113,113)"/><stop offset="0.5071" stop-color="rgb(105,105,105)"/><stop offset="0.5107" stop-color="rgb(98,98,98)"/><stop offset="0.5143" stop-color="rgb(93,93,93)"/><stop offset="0.5179" stop-color="rgb(104,104,104)"/><stop offset="0.5214" stop-color="rgb(114,114,114)"/><stop offset="0.5250" stop-color="rgb(125,125,125)"/><stop offset="0.5286" stop-color="rgb(134,134,134)"/><stop offset="0.5321" stop-color="rgb(126,126,126)"/><stop offset="0.5357" stop-color="rgb(117,117,117)"/><stop offset="0.5393" stop-color="rgb(109,109,109)"/><stop offset="0.5429" stop-color="rgb(100,100,100)"/><stop offset="0.5464" stop-color="rgb(91,91,91)"/><stop offset="0.5500" stop-color="rgb(95,95,95)"/><stop offset="0.5536" stop-color="rgb(104,104,104)"/><stop offset="0.5571" stop-color="rgb(112,112,112)"/><stop offset="0.5607" stop-color="rgb(121,121,121)"/><stop offset="0.5643" stop-color="rgb(130,130,130)"/><stop offset="0.5679" stop-color="rgb(143,143,143)"/><stop offset="0.5714" stop-color="rgb(148,148,148)"/><stop offset="0.5750" stop-color="rgb(132,132,132)"/><stop offset="0.5786" stop-color="rgb(123,123,123)"/><stop offset="0.5821" stop-color="rgb(114,114,114)"/><stop offset="0.5857" stop-color="rgb(105,105,105)"/><stop offset="0.5893" stop-color="rgb(96,96,96)"/><stop offset="0.5929" stop-color="rgb(87,87,87)"/><stop offset="0.5964" stop-color="rgb(94,94,94)"/><stop offset="0.6000" stop-color="rgb(101,101,101)"/><stop offset="0.6036" stop-color="rgb(108,108,108)"/><stop offset="0.6071" stop-color="rgb(116,116,116)"/><stop offset="0.6107" stop-color="rgb(123,123,123)"/><stop offset="0.6143" stop-color="rgb(135,135,135)"/><stop offset="0.6179" stop-color="rgb(150,150,150)"/><stop offset="0.6214" stop-color="rgb(166,166,166)"/><stop offset="0.6250" stop-color="rgb(181,181,181)"/><stop offset="0.6286" stop-color="rgb(159,159,159)"/><stop offset="0.6321" stop-color="rgb(136,136,136)"/><stop offset="0.6357" stop-color="rgb(117,117,117)"/><stop offset="0.6393" stop-color="rgb(105,105,105)"/><stop offset="0.6429" stop-color="rgb(93,93,93)"/><stop offset="0.6464" stop-color="rgb(93,93,93)"/><stop offset="0.6500" stop-color="rgb(100,100,100)"/><stop offset="0.6536" stop-color="rgb(107,107,107)"/><stop offset="0.6571" stop-color="rgb(114,114,114)"/><stop offset="0.6607" stop-color="rgb(128,128,128)"/><stop offset="0.6643" stop-color="rgb(143,143,143)"/><stop offset="0.6679" stop-color="rgb(158,158,158)"/><stop offset="0.6714" stop-color="rgb(173,173,173)"/><stop offset="0.6750" stop-color="rgb(189,189,189)"/><stop offset="0.6786" stop-color="rgb(191,191,191)"/><stop offset="0.6821" stop-color="rgb(178,178,178)"/><stop offset="0.6857" stop-color="rgb(163,163,163)"/><stop offset="0.6893" stop-color="rgb(149,149,149)"/><stop offset="0.6929" stop-color="rgb(136,136,136)"/><stop offset="0.6964" stop-color="rgb(123,123,123)"/><stop offset="0.7000" stop-color="rgb(112,112,112)"/><stop offset="0.7036" stop-color="rgb(105,105,105)"/><stop offset="0.7071" stop-color="rgb(100,100,100)"/><stop offset="0.7107" stop-color="rgb(105,105,105)"/><stop offset="0.7143" stop-color="rgb(109,109,109)"/><stop offset="0.7179" stop-color="rgb(116,116,116)"/><stop offset="0.7214" stop-color="rgb(125,125,125)"/><stop offset="0.7250" stop-color="rgb(134,134,134)"/><stop offset="0.7286" stop-color="rgb(142,142,142)"/><stop offset="0.7321" stop-color="rgb(150,150,150)"/><stop offset="0.7357" stop-color="rgb(158,158,158)"/><stop offset="0.7393" stop-color="rgb(166,166,166)"/><stop offset="0.7429" stop-color="rgb(173,173,173)"/><stop offset="0.7464" stop-color="rgb(180,180,180)"/><stop offset="0.7500" stop-color="rgb(189,189,189)"/><stop offset="0.7536" stop-color="rgb(202,202,202)"/><stop offset="0.7571" stop-color="rgb(194,194,194)"/><stop offset="0.7607" stop-color="rgb(179,179,179)"/><stop offset="0.7643" stop-color="rgb(170,170,170)"/><stop offset="0.7679" stop-color="rgb(161,161,161)"/><stop offset="0.7714" stop-color="rgb(151,151,151)"/><stop offset="0.7750" stop-color="rgb(142,142,142)"/><stop offset="0.7786" stop-color="rgb(139,139,139)"/><stop offset="0.7821" stop-color="rgb(136,136,136)"/><stop offset="0.7857" stop-color="rgb(132,132,132)"/><stop offset="0.7893" stop-color="rgb(132,132,132)"/><stop offset="0.7929" stop-color="rgb(135,135,135)"/><stop offset="0.7964" stop-color="rgb(138,138,138)"/><stop offset="0.8000" stop-color="rgb(141,141,141)"/><stop offset="0.8036" stop-color="rgb(148,148,148)"/><stop offset="0.8071" stop-color="rgb(154,154,154)"/><stop offset="0.8107" stop-color="rgb(160,160,160)"/><stop offset="0.8143" stop-color="rgb(166,166,166)"/><stop offset="0.8179" stop-color="rgb(173,173,173)"/><stop offset="0.8214" stop-color="rgb(186,186,186)"/><stop offset="0.8250" stop-color="rgb(200,200,200)"/><stop offset="0.8286" stop-color="rgb(213,213,213)"/><stop offset="0.8321" stop-color="rgb(220,220,220)"/><stop offset="0.8357" stop-color="rgb(226,226,226)"/><stop offset="0.8393" stop-color="rgb(231,231,231)"/><stop offset="0.8429" stop-color="rgb(235,235,235)"/><stop offset="0.8464" stop-color="rgb(235,235,235)"/><stop offset="0.8500" stop-color="rgb(235,235,235)"/><stop offset="0.8536" stop-color="rgb(235,235,235)"/><stop offset="0.8571" stop-color="rgb(235,235,235)"/><stop offset="0.8607" stop-color="rgb(235,235,235)"/><stop offset="0.8643" stop-color="rgb(235,235,235)"/><stop offset="0.8679" stop-color="rgb(235,235,235)"/><stop offset="0.8714" stop-color="rgb(234,234,234)"/><stop offset="0.8750" stop-color="rgb(228,228,228)"/><stop offset="0.8786" stop-color="rgb(222,222,222)"/><stop offset="0.8821" stop-color="rgb(214,214,214)"/><stop offset="0.8857" stop-color="rgb(205,205,205)"/><stop offset="0.8893" stop-color="rgb(196,196,196)"/><stop offset="0.8929" stop-color="rgb(186,186,186)"/><stop offset="0.8964" stop-color="rgb(175,175,175)"/><stop offset="0.9000" stop-color="rgb(164,164,164)"/><stop offset="0.9036" stop-color="rgb(157,157,157)"/><stop offset="0.9071" stop-color="rgb(151,151,151)"/><stop offset="0.9107" stop-color="rgb(149,149,149)"/><stop offset="0.9143" stop-color="rgb(151,151,151)"/><stop offset="0.9179" stop-color="rgb(153,153,153)"/><stop offset="0.9214" stop-color="rgb(155,155,155)"/><stop offset="0.9250" stop-color="rgb(159,159,159)"/><stop offset="0.9286" stop-color="rgb(167,167,167)"/><stop offset="0.9321" stop-color="rgb(176,176,176)"/><stop offset="0.9357" stop-color="rgb(185,185,185)"/><stop offset="0.9393" stop-color="rgb(194,194,194)"/><stop offset="0.9429" stop-color="rgb(206,206,206)"/><stop offset="0.9464" stop-color="rgb(217,217,217)"/><stop offset="0.9500" stop-color="rgb(228,228,228)"/><stop offset="0.9536" stop-color="rgb(232,232,232)"/><stop offset="0.9571" stop-color="rgb(231,231,231)"/><stop offset="0.9607" stop-color="rgb(230,230,230)"/><stop offset="0.9643" stop-color="rgb(230,230,230)"/><stop offset="0.9679" stop-color="rgb(229,229,229)"/><stop offset="0.9714" stop-color="rgb(229,229,229)"/><stop offset="0.9750" stop-color="rgb(228,228,228)"/><stop offset="0.9786" stop-color="rgb(228,228,228)"/><stop offset="0.9821" stop-color="rgb(227,227,227)"/><stop offset="0.9857" stop-color="rgb(227,227,227)"/><stop offset="0.9893" stop-color="rgb(227,227,227)"/><stop offset="0.9929" stop-color="rgb(227,227,227)"/><stop offset="0.9964" stop-color="rgb(227,227,227)"/><stop offset="1.0000" stop-color="rgb(227,227,227)"/></linearGradient><linearGradient id="L13" x1="0" y1="0" x2="0" y2="1"><stop offset="0.0000" stop-color="rgb(239,239,239)"/><stop offset="0.0036" stop-color="rgb(239,239,239)"/><stop offset="0.0071" stop-color="rgb(239,239,239)"/><stop offset="0.0107" stop-color="rgb(239,239,239)"/><stop offset="0.0143" stop-color="rgb(239,239,239)"/><stop offset="0.0179" stop-color="rgb(239,239,239)"/><stop offset="0.0214" stop-color="rgb(239,239,239)"/><stop offset="0.0250" stop-color="rgb(239,239,239)"/><stop offset="0.0286" stop-color="rgb(239,239,239)"/><stop offset="0.0321" stop-color="rgb(239,239,239)"/><stop offset="0.0357" stop-color="rgb(239,239,239)"/><stop offset="0.0393" stop-color="rgb(239,239,239)"/><stop offset="0.0429" stop-color="rgb(239,239,239)"/><stop offset="0.0464" stop-color="rgb(239,239,239)"/><stop offset="0.0500" stop-color="rgb(239,239,239)"/><stop offset="0.0536" stop-color="rgb(239,239,239)"/><stop offset="0.0571" stop-color="rgb(239,239,239)"/><stop offset="0.0607" stop-color="rgb(239,239,239)"/><stop offset="0.0643" stop-color="rgb(239,239,239)"/><stop offset="0.0679" stop-color="rgb(239,239,239)"/><stop offset="0.0714" stop-color="rgb(239,239,239)"/><stop offset="0.0750" stop-color="rgb(239,239,239)"/><stop offset="0.0786" stop-color="rgb(239,239,239)"/><stop offset="0.0821" stop-color="rgb(239,239,239)"/><stop offset="0.0857" stop-color="rgb(239,239,239)"/><stop offset="0.0893" stop-color="rgb(238,238,238)"/><stop offset="0.0929" stop-color="rgb(238,238,238)"/><stop offset="0.0964" stop-color="rgb(238,238,238)"/><stop offset="0.1000" stop-color="rgb(238,238,238)"/><stop offset="0.1036" stop-color="rgb(238,238,238)"/><stop offset="0.1071" stop-color="rgb(238,238,238)"/><stop offset="0.1107" stop-color="rgb(237,237,237)"/><stop offset="0.1143" stop-color="rgb(237,237,237)"/><stop offset="0.1179" stop-color="rgb(237,237,237)"/><stop offset="0.1214" stop-color="rgb(237,237,237)"/><stop offset="0.1250" stop-color="rgb(236,236,236)"/><stop offset="0.1286" stop-color="rgb(236,236,236)"/><stop offset="0.1321" stop-color="rgb(236,236,236)"/><stop offset="0.1357" stop-color="rgb(236,236,236)"/><stop offset="0.1393" stop-color="rgb(236,236,236)"/><stop offset="0.1429" stop-color="rgb(235,235,235)"/><stop offset="0.1464" stop-color="rgb(234,234,234)"/><stop offset="0.1500" stop-color="rgb(233,233,233)"/><stop offset="0.1536" stop-color="rgb(232,232,232)"/><stop offset="0.1571" stop-color="rgb(231,231,231)"/><stop offset="0.1607" stop-color="rgb(230,230,230)"/><stop offset="0.1643" stop-color="rgb(229,229,229)"/><stop offset="0.1679" stop-color="rgb(228,228,228)"/><stop offset="0.1714" stop-color="rgb(226,226,226)"/><stop offset="0.1750" stop-color="rgb(225,225,225)"/><stop offset="0.1786" stop-color="rgb(223,223,223)"/><stop offset="0.1821" stop-color="rgb(222,222,222)"/><stop offset="0.1857" stop-color="rgb(221,221,221)"/><stop offset="0.1893" stop-color="rgb(221,221,221)"/><stop offset="0.1929" stop-color="rgb(219,219,219)"/><stop offset="0.1964" stop-color="rgb(217,217,217)"/><stop offset="0.2000" stop-color="rgb(215,215,215)"/><stop offset="0.2036" stop-color="rgb(212,212,212)"/><stop offset="0.2071" stop-color="rgb(211,211,211)"/><stop offset="0.2107" stop-color="rgb(212,212,212)"/><stop offset="0.2143" stop-color="rgb(212,212,212)"/><stop offset="0.2179" stop-color="rgb(211,211,211)"/><stop offset="0.2214" stop-color="rgb(208,208,208)"/><stop offset="0.2250" stop-color="rgb(206,206,206)"/><stop offset="0.2286" stop-color="rgb(204,204,204)"/><stop offset="0.2321" stop-color="rgb(204,204,204)"/><stop offset="0.2357" stop-color="rgb(205,205,205)"/><stop offset="0.2393" stop-color="rgb(206,206,206)"/><stop offset="0.2429" stop-color="rgb(205,205,205)"/><stop offset="0.2464" stop-color="rgb(202,202,202)"/><stop offset="0.2500" stop-color="rgb(199,199,199)"/><stop offset="0.2536" stop-color="rgb(198,198,198)"/><stop offset="0.2571" stop-color="rgb(199,199,199)"/><stop offset="0.2607" stop-color="rgb(200,200,200)"/><stop offset="0.2643" stop-color="rgb(201,201,201)"/><stop offset="0.2679" stop-color="rgb(201,201,201)"/><stop offset="0.2714" stop-color="rgb(197,197,197)"/><stop offset="0.2750" stop-color="rgb(193,193,193)"/><stop offset="0.2786" stop-color="rgb(190,190,190)"/><stop offset="0.2821" stop-color="rgb(190,190,190)"/><stop offset="0.2857" stop-color="rgb(194,194,194)"/><stop offset="0.2893" stop-color="rgb(195,195,195)"/><stop offset="0.2929" stop-color="rgb(194,194,194)"/><stop offset="0.2964" stop-color="rgb(188,188,188)"/><stop offset="0.3000" stop-color="rgb(183,183,183)"/><stop offset="0.3036" stop-color="rgb(181,181,181)"/><stop offset="0.3071" stop-color="rgb(181,181,181)"/><stop offset="0.3107" stop-color="rgb(184,184,184)"/><stop offset="0.3143" stop-color="rgb(186,186,186)"/><stop offset="0.3179" stop-color="rgb(185,185,185)"/><stop offset="0.3214" stop-color="rgb(181,181,181)"/><stop offset="0.3250" stop-color="rgb(175,175,175)"/><stop offset="0.3286" stop-color="rgb(169,169,169)"/><stop offset="0.3321" stop-color="rgb(168,168,168)"/><stop offset="0.3357" stop-color="rgb(174,174,174)"/><stop offset="0.3393" stop-color="rgb(179,179,179)"/><stop offset="0.3429" stop-color="rgb(178,178,178)"/><stop offset="0.3464" stop-color="rgb(172,172,172)"/><stop offset="0.3500" stop-color="rgb(164,164,164)"/><stop offset="0.3536" stop-color="rgb(159,159,159)"/><stop offset="0.3571" stop-color="rgb(159,159,159)"/><stop offset="0.3607" stop-color="rgb(168,168,168)"/><stop offset="0.3643" stop-color="rgb(175,175,175)"/><stop offset="0.3679" stop-color="rgb(175,175,175)"/><stop offset="0.3714" stop-color="rgb(166,166,166)"/><stop offset="0.3750" stop-color="rgb(155,155,155)"/><stop offset="0.3786" stop-color="rgb(153,153,153)"/><stop offset="0.3821" stop-color="rgb(160,160,160)"/><stop offset="0.3857" stop-color="rgb(171,171,171)"/><stop offset="0.3893" stop-color="rgb(173,173,173)"/><stop offset="0.3929" stop-color="rgb(167,167,167)"/><stop offset="0.3964" stop-color="rgb(155,155,155)"/><stop offset="0.4000" stop-color="rgb(142,142,142)"/><stop offset="0.4036" stop-color="rgb(144,144,144)"/><stop offset="0.4071" stop-color="rgb(152,152,152)"/><stop offset="0.4107" stop-color="rgb(163,163,163)"/><stop offset="0.4143" stop-color="rgb(165,165,165)"/><stop offset="0.4179" stop-color="rgb(159,159,159)"/><stop offset="0.4214" stop-color="rgb(150,150,150)"/><stop offset="0.4250" stop-color="rgb(139,139,139)"/><stop offset="0.4286" stop-color="rgb(138,138,138)"/><stop offset="0.4321" stop-color="rgb(146,146,146)"/><stop offset="0.4357" stop-color="rgb(152,152,152)"/><stop offset="0.4393" stop-color="rgb(141,141,141)"/><stop offset="0.4429" stop-color="rgb(128,128,128)"/><stop offset="0.4464" stop-color="rgb(121,121,121)"/><stop offset="0.4500" stop-color="rgb(122,122,122)"/><stop offset="0.4536" stop-color="rgb(128,128,128)"/><stop offset="0.4571" stop-color="rgb(137,137,137)"/><stop offset="0.4607" stop-color="rgb(148,148,148)"/><stop offset="0.4643" stop-color="rgb(157,157,157)"/><stop offset="0.4679" stop-color="rgb(163,163,163)"/><stop offset="0.4714" stop-color="rgb(152,152,152)"/><stop offset="0.4750" stop-color="rgb(142,142,142)"/><stop offset="0.4786" stop-color="rgb(132,132,132)"/><stop offset="0.4821" stop-color="rgb(124,124,124)"/><stop offset="0.4857" stop-color="rgb(136,136,136)"/><stop offset="0.4893" stop-color="rgb(149,149,149)"/><stop offset="0.4929" stop-color="rgb(161,161,161)"/><stop offset="0.4964" stop-color="rgb(169,169,169)"/><stop offset="0.5000" stop-color="rgb(159,159,159)"/><stop offset="0.5036" stop-color="rgb(150,150,150)"/><stop offset="0.5071" stop-color="rgb(141,141,141)"/><stop offset="0.5107" stop-color="rgb(132,132,132)"/><stop offset="0.5143" stop-color="rgb(124,124,124)"/><stop offset="0.5179" stop-color="rgb(130,130,130)"/><stop offset="0.5214" stop-color="rgb(145,145,145)"/><stop offset="0.5250" stop-color="rgb(160,160,160)"/><stop offset="0.5286" stop-color="rgb(173,173,173)"/><stop offset="0.5321" stop-color="rgb(162,162,162)"/><stop offset="0.5357" stop-color="rgb(152,152,152)"/><stop offset="0.5393" stop-color="rgb(141,141,141)"/><stop offset="0.5429" stop-color="rgb(130,130,130)"/><stop offset="0.5464" stop-color="rgb(118,118,118)"/><stop offset="0.5500" stop-color="rgb(124,124,124)"/><stop offset="0.5536" stop-color="rgb(134,134,134)"/><stop offset="0.5571" stop-color="rgb(145,145,145)"/><stop offset="0.5607" stop-color="rgb(156,156,156)"/><stop offset="0.5643" stop-color="rgb(166,166,166)"/><stop offset="0.5679" stop-color="rgb(177,177,177)"/><stop offset="0.5714" stop-color="rgb(180,180,180)"/><stop offset="0.5750" stop-color="rgb(169,169,169)"/><stop offset="0.5786" stop-color="rgb(158,158,158)"/><stop offset="0.5821" stop-color="rgb(146,146,146)"/><stop offset="0.5857" stop-color="rgb(135,135,135)"/><stop offset="0.5893" stop-color="rgb(123,123,123)"/><stop offset="0.5929" stop-color="rgb(112,112,112)"/><stop offset="0.5964" stop-color="rgb(121,121,121)"/><stop offset="0.6000" stop-color="rgb(130,130,130)"/><stop offset="0.6036" stop-color="rgb(139,139,139)"/><stop offset="0.6071" stop-color="rgb(148,148,148)"/><stop offset="0.6107" stop-color="rgb(157,157,157)"/><stop offset="0.6143" stop-color="rgb(166,166,166)"/><stop offset="0.6179" stop-color="rgb(175,175,175)"/><stop offset="0.6214" stop-color="rgb(184,184,184)"/><stop offset="0.6250" stop-color="rgb(192,192,192)"/><stop offset="0.6286" stop-color="rgb(180,180,180)"/><stop offset="0.6321" stop-color="rgb(166,166,166)"/><stop offset="0.6357" stop-color="rgb(152,152,152)"/><stop offset="0.6393" stop-color="rgb(138,138,138)"/><stop offset="0.6429" stop-color="rgb(123,123,123)"/><stop offset="0.6464" stop-color="rgb(122,122,122)"/><stop offset="0.6500" stop-color="rgb(131,131,131)"/><stop offset="0.6536" stop-color="rgb(140,140,140)"/><stop offset="0.6571" stop-color="rgb(149,149,149)"/><stop offset="0.6607" stop-color="rgb(157,157,157)"/><stop offset="0.6643" stop-color="rgb(166,166,166)"/><stop offset="0.6679" stop-color="rgb(175,175,175)"/><stop offset="0.6714" stop-color="rgb(187,187,187)"/><stop offset="0.6750" stop-color="rgb(206,206,206)"/><stop offset="0.6786" stop-color="rgb(225,225,225)"/><stop offset="0.6821" stop-color="rgb(213,213,213)"/><stop offset="0.6857" stop-color="rgb(197,197,197)"/><stop offset="0.6893" stop-color="rgb(181,181,181)"/><stop offset="0.6929" stop-color="rgb(170,170,170)"/><stop offset="0.6964" stop-color="rgb(161,161,161)"/><stop offset="0.7000" stop-color="rgb(153,153,153)"/><stop offset="0.7036" stop-color="rgb(145,145,145)"/><stop offset="0.7071" stop-color="rgb(138,138,138)"/><stop offset="0.7107" stop-color="rgb(143,143,143)"/><stop offset="0.7143" stop-color="rgb(147,147,147)"/><stop offset="0.7179" stop-color="rgb(152,152,152)"/><stop offset="0.7214" stop-color="rgb(156,156,156)"/><stop offset="0.7250" stop-color="rgb(160,160,160)"/><stop offset="0.7286" stop-color="rgb(164,164,164)"/><stop offset="0.7321" stop-color="rgb(173,173,173)"/><stop offset="0.7357" stop-color="rgb(181,181,181)"/><stop offset="0.7393" stop-color="rgb(189,189,189)"/><stop offset="0.7429" stop-color="rgb(196,196,196)"/><stop offset="0.7464" stop-color="rgb(204,204,204)"/><stop offset="0.7500" stop-color="rgb(211,211,211)"/><stop offset="0.7536" stop-color="rgb(218,218,218)"/><stop offset="0.7571" stop-color="rgb(215,215,215)"/><stop offset="0.7607" stop-color="rgb(208,208,208)"/><stop offset="0.7643" stop-color="rgb(201,201,201)"/><stop offset="0.7679" stop-color="rgb(195,195,195)"/><stop offset="0.7714" stop-color="rgb(188,188,188)"/><stop offset="0.7750" stop-color="rgb(181,181,181)"/><stop offset="0.7786" stop-color="rgb(174,174,174)"/><stop offset="0.7821" stop-color="rgb(168,168,168)"/><stop offset="0.7857" stop-color="rgb(161,161,161)"/><stop offset="0.7893" stop-color="rgb(158,158,158)"/><stop offset="0.7929" stop-color="rgb(158,158,158)"/><stop offset="0.7964" stop-color="rgb(160,160,160)"/><stop offset="0.8000" stop-color="rgb(161,161,161)"/><stop offset="0.8036" stop-color="rgb(163,163,163)"/><stop offset="0.8071" stop-color="rgb(170,170,170)"/><stop offset="0.8107" stop-color="rgb(178,178,178)"/><stop offset="0.8143" stop-color="rgb(186,186,186)"/><stop offset="0.8179" stop-color="rgb(194,194,194)"/><stop offset="0.8214" stop-color="rgb(202,202,202)"/><stop offset="0.8250" stop-color="rgb(210,210,210)"/><stop offset="0.8286" stop-color="rgb(214,214,214)"/><stop offset="0.8321" stop-color="rgb(218,218,218)"/><stop offset="0.8357" stop-color="rgb(221,221,221)"/><stop offset="0.8393" stop-color="rgb(222,222,222)"/><stop offset="0.8429" stop-color="rgb(226,226,226)"/><stop offset="0.8464" stop-color="rgb(231,231,231)"/><stop offset="0.8500" stop-color="rgb(232,232,232)"/><stop offset="0.8536" stop-color="rgb(233,233,233)"/><stop offset="0.8571" stop-color="rgb(233,233,233)"/><stop offset="0.8607" stop-color="rgb(234,234,234)"/><stop offset="0.8643" stop-color="rgb(234,234,234)"/><stop offset="0.8679" stop-color="rgb(233,233,233)"/><stop offset="0.8714" stop-color="rgb(232,232,232)"/><stop offset="0.8750" stop-color="rgb(232,232,232)"/><stop offset="0.8786" stop-color="rgb(231,231,231)"/><stop offset="0.8821" stop-color="rgb(225,225,225)"/><stop offset="0.8857" stop-color="rgb(217,217,217)"/><stop offset="0.8893" stop-color="rgb(209,209,209)"/><stop offset="0.8929" stop-color="rgb(201,201,201)"/><stop offset="0.8964" stop-color="rgb(193,193,193)"/><stop offset="0.9000" stop-color="rgb(187,187,187)"/><stop offset="0.9036" stop-color="rgb(184,184,184)"/><stop offset="0.9071" stop-color="rgb(181,181,181)"/><stop offset="0.9107" stop-color="rgb(181,181,181)"/><stop offset="0.9143" stop-color="rgb(183,183,183)"/><stop offset="0.9179" stop-color="rgb(186,186,186)"/><stop offset="0.9214" stop-color="rgb(188,188,188)"/><stop offset="0.9250" stop-color="rgb(194,194,194)"/><stop offset="0.9286" stop-color="rgb(201,201,201)"/><stop offset="0.9321" stop-color="rgb(208,208,208)"/><stop offset="0.9357" stop-color="rgb(215,215,215)"/><stop offset="0.9393" stop-color="rgb(222,222,222)"/><stop offset="0.9429" stop-color="rgb(229,229,229)"/><stop offset="0.9464" stop-color="rgb(231,231,231)"/><stop offset="0.9500" stop-color="rgb(233,233,233)"/><stop offset="0.9536" stop-color="rgb(233,233,233)"/><stop offset="0.9571" stop-color="rgb(233,233,233)"/><stop offset="0.9607" stop-color="rgb(232,232,232)"/><stop offset="0.9643" stop-color="rgb(232,232,232)"/><stop offset="0.9679" stop-color="rgb(232,232,232)"/><stop offset="0.9714" stop-color="rgb(231,231,231)"/><stop offset="0.9750" stop-color="rgb(231,231,231)"/><stop offset="0.9786" stop-color="rgb(231,231,231)"/><stop offset="0.9821" stop-color="rgb(231,231,231)"/><stop offset="0.9857" stop-color="rgb(231,231,231)"/><stop offset="0.9893" stop-color="rgb(231,231,231)"/><stop offset="0.9929" stop-color="rgb(230,230,230)"/><stop offset="0.9964" stop-color="rgb(230,230,230)"/><stop offset="1.0000" stop-color="rgb(230,230,230)"/></linearGradient><filter id="blur" x="-5%" y="-5%" width="110%" height="110%"><feGaussianBlur stdDeviation="1.3"/></filter></defs>
<rect width="520" height="745" fill="#fff"/>
<rect x="70.8" y="64" width="435.7" height="280.4" fill="rgb(240,240,240)"/>
<g filter="url(#blur)"><rect x="79.5" y="64" width="25.0" height="280" fill="url(#L0)"/><rect x="111.0" y="64" width="25.5" height="280" fill="url(#L1)"/><rect x="142.0" y="64" width="25.0" height="280" fill="url(#L2)"/><rect x="172.5" y="64" width="24.0" height="280" fill="url(#L3)"/><rect x="201.0" y="64" width="27.0" height="280" fill="url(#L4)"/><rect x="233.0" y="64" width="23.0" height="280" fill="url(#L5)"/><rect x="262.0" y="64" width="26.0" height="280" fill="url(#L6)"/><rect x="293.0" y="64" width="24.0" height="280" fill="url(#L7)"/><rect x="322.0" y="64" width="24.0" height="280" fill="url(#L8)"/><rect x="353.0" y="64" width="24.0" height="280" fill="url(#L9)"/><rect x="383.0" y="64" width="24.0" height="280" fill="url(#L10)"/><rect x="413.0" y="64" width="23.0" height="280" fill="url(#L11)"/><rect x="443.5" y="64" width="23.0" height="280" fill="url(#L12)"/><rect x="474.5" y="64" width="23.5" height="280" fill="url(#L13)"/></g>
<text x="0.3" y="24.9" style="font-family:'Liberation Sans', sans-serif;font-weight:bold;font-size:35.0px" text-anchor="start" fill="#000">A</text>
<rect x="80.5" y="37" width="114.5" height="2.6" fill="#000"/>
<rect x="201.0" y="37" width="114.5" height="2.6" fill="#000"/>
<rect x="322.0" y="37" width="114.8" height="2.6" fill="#000"/>
<text x="138.6" y="32.6" style="font-family:'Liberation Sans', sans-serif;font-weight:bold;font-size:24.0px" text-anchor="middle" fill="#000">+/+</text>
<text x="259.3" y="32.6" style="font-family:'Liberation Sans', sans-serif;font-weight:bold;font-size:24.0px" text-anchor="middle" fill="#000">+/–</text>
<text x="379.3" y="32.6" style="font-family:'Liberation Sans', sans-serif;font-weight:bold;font-size:24.0px" text-anchor="middle" fill="#000">–/–</text>
<polygon points="94.93,43.30 92.03,43.30 91.03,44.80 89.23,45.90 87.13,46.40 87.13,48.80 91.23,48.70 91.23,60.20 94.93,60.20" fill="#000"/>
<text x="116.9" y="60.2" style="font-family:'Liberation Sans', sans-serif;font-weight:bold;font-size:24.0px" text-anchor="start" fill="#000">2</text>
<text x="146.4" y="60.2" style="font-family:'Liberation Sans', sans-serif;font-weight:bold;font-size:24.0px" text-anchor="start" fill="#000">3</text>
<text x="177.1" y="60.2" style="font-family:'Liberation Sans', sans-serif;font-weight:bold;font-size:24.0px" text-anchor="start" fill="#000">4</text>
<polygon points="215.08,43.30 212.18,43.30 211.18,44.80 209.38,45.90 207.28,46.40 207.28,48.80 211.38,48.70 211.38,60.20 215.08,60.20" fill="#000"/>
<text x="235.1" y="60.2" style="font-family:'Liberation Sans', sans-serif;font-weight:bold;font-size:24.0px" text-anchor="start" fill="#000">2</text>
<text x="265.1" y="60.2" style="font-family:'Liberation Sans', sans-serif;font-weight:bold;font-size:24.0px" text-anchor="start" fill="#000">3</text>
<text x="295.8" y="60.2" style="font-family:'Liberation Sans', sans-serif;font-weight:bold;font-size:24.0px" text-anchor="start" fill="#000">4</text>
<polygon points="335.58,43.30 332.68,43.30 331.68,44.80 329.88,45.90 327.78,46.40 327.78,48.80 331.88,48.70 331.88,60.20 335.58,60.20" fill="#000"/>
<text x="355.3" y="60.2" style="font-family:'Liberation Sans', sans-serif;font-weight:bold;font-size:24.0px" text-anchor="start" fill="#000">2</text>
<text x="386.4" y="60.2" style="font-family:'Liberation Sans', sans-serif;font-weight:bold;font-size:24.0px" text-anchor="start" fill="#000">3</text>
<text x="417.1" y="60.2" style="font-family:'Liberation Sans', sans-serif;font-weight:bold;font-size:24.0px" text-anchor="start" fill="#000">4</text>
<text x="0.0" y="0.0" style="font-family:'Liberation Sans', sans-serif;font-weight:bold;font-size:24.0px" text-anchor="start" fill="#000" transform="translate(453,60.7) rotate(-45)">NHP</text>
<text x="0.0" y="0.0" style="font-family:'Liberation Sans', sans-serif;font-weight:bold;font-size:24.0px" text-anchor="start" fill="#000" transform="translate(484,60.7) rotate(-45)">TTP</text>
<text x="9.3" y="90.8" style="font-family:'Liberation Sans', sans-serif;font-weight:bold;font-size:24.0px" text-anchor="start" fill="#000">HMW</text>
<text x="10.6" y="336.6" style="font-family:'Liberation Sans', sans-serif;font-weight:bold;font-size:24.0px" text-anchor="start" fill="#000">LMW</text>
<rect x="38.6" y="108" width="2.6" height="192" fill="#000"/>
<polygon points="39.9,97.7 33.2,112.5 46.3,112.5" fill="#000"/>
<polygon points="39.9,312.6 33.2,296.6 46.3,296.6" fill="#000"/>
<text x="-0.5" y="377.9" style="font-family:'Liberation Sans', sans-serif;font-weight:bold;font-size:35.0px" text-anchor="start" fill="#000">B</text>
<g>
<path d="M64.3,655.5 65.1,655.1 66.5,654.9 68.2,655.2 69.6,655.2 71.0,655.0 72.2,655.0 73.7,655.0 75.1,655.0 76.2,655.4 77.6,655.5 79.2,655.2 80.7,654.7 81.7,654.7 82.7,654.8 83.9,654.5 84.8,653.9 85.7,653.5 86.9,653.1 88.6,652.4 90.1,651.8 90.7,651.7 91.9,651.7 93.2,651.7 94.4,651.4 95.6,650.9 96.6,650.7 98.2,650.9 99.8,650.9 101.0,650.8 102.2,650.5 103.6,649.9 105.1,649.6 106.6,649.3 107.7,648.5 108.3,648.2 109.5,647.8 110.9,647.2 112.1,647.1 113.3,646.8 114.5,646.1 115.8,645.6 117.0,645.1 118.0,644.8 119.4,644.3 120.8,643.5 121.8,642.7 122.9,642.2 124.0,641.8 125.0,641.5 126.2,641.0 127.4,640.3 128.4,639.4 129.5,638.6 130.3,638.2 131.5,637.4 133.0,636.3 134.0,635.2 134.9,634.5 136.0,634.1 137.1,633.5 138.1,633.1 138.8,632.5 139.9,631.6 140.8,630.7 141.7,629.9 142.9,629.1 144.3,628.2 145.7,627.3 146.7,626.8 147.7,626.4 148.9,625.8 149.9,625.2 150.9,624.6 151.9,623.6 153.0,622.9 154.3,622.9 155.3,622.3 156.1,621.3 157.0,620.4 158.0,619.6 159.3,619.0 160.3,618.4 161.4,617.4 162.2,616.5 162.8,615.9 163.8,615.0 164.5,613.9 165.2,612.9 165.8,612.0 166.2,611.2 167.1,610.2 168.1,608.9 169.0,607.7 169.7,606.8 170.7,606.1 171.5,605.0 171.9,603.6 172.4,602.9 173.0,602.2 173.4,601.4 173.7,600.1 174.1,598.3 174.7,597.4 175.5,596.7 176.6,595.3 177.4,594.2 177.8,593.4 178.7,592.3 179.8,591.2 180.5,590.3 180.8,589.4 180.7,588.5 181.1,587.0 181.8,585.6 182.7,584.8 183.3,583.8 183.6,582.2 183.7,581.0 184.1,580.2 184.9,578.9 185.5,577.7 186.1,576.9 187.0,575.6 187.8,574.2 187.6,573.4 187.6,572.5 188.8,571.0 189.9,569.7 190.1,568.3 190.3,567.0 190.8,566.3 191.2,565.7 191.7,564.5 192.2,563.5 193.2,562.5 193.9,561.3 194.2,560.0 194.9,559.5 195.9,558.6 196.8,557.2 197.6,556.0 198.2,554.9 198.4,553.6 198.6,552.3 199.2,550.8 199.7,549.4 200.1,548.2 200.3,547.3 200.8,546.0 201.4,544.5 201.5,544.0 202.5,543.8 204.1,543.9 205.6,544.0 206.8,543.2 207.4,542.5 207.8,541.7 207.4,540.4 207.0,538.7 207.1,537.3 207.4,536.0 207.5,535.1 207.4,533.9 207.6,532.6 207.8,531.2 208.0,529.7 208.3,528.4 208.4,526.6 209.1,526.3 210.6,526.7 211.9,526.4 212.9,525.0 213.4,523.8 214.1,522.6 214.6,521.6 214.6,520.2 214.9,518.3 215.3,516.7 215.7,515.4 215.8,514.4 216.0,513.5 216.8,512.4 218.5,511.8 219.8,513.5 221.0,514.3 221.9,513.7 222.9,513.0 223.3,511.9 223.3,510.7 223.8,509.2 224.4,507.6 224.9,506.5 225.3,505.2 225.3,504.0 225.5,502.9 226.0,501.4 226.2,500.0 226.5,498.9 227.1,497.9 227.6,496.9 228.2,496.3 228.6,496.5 229.1,498.1 230.2,500.9 231.3,503.1 232.0,503.6 232.1,502.7 232.3,502.2 233.0,501.5 233.1,500.8 233.5,499.6 234.0,498.3 233.9,497.0 234.1,495.6 234.6,494.2 234.9,492.5 235.1,490.8 235.2,489.6 235.3,487.8 235.3,485.8 235.1,484.5 235.3,483.2 235.5,482.0 235.8,480.9 236.2,479.5 236.8,478.0 237.0,477.2 236.8,476.8 236.9,476.3 237.5,476.2 238.1,477.1 238.5,478.3 238.9,479.8 239.4,481.1 239.7,483.0 239.8,485.2 239.8,486.7 240.1,488.2 240.9,490.0 241.5,491.7 241.9,493.3 242.6,494.4 243.2,494.7 243.4,494.1 243.2,493.7 243.1,493.1 243.2,491.9 243.6,490.8 243.6,490.2 243.5,489.4 243.9,488.2 244.3,486.9 244.5,485.6 245.0,484.2 245.6,482.5 245.7,480.6 245.7,479.1 245.7,477.9 246.1,476.4 246.6,474.7 246.7,473.3 247.0,471.6 247.3,469.8 247.5,468.4 247.7,466.8 247.5,465.3 247.6,464.0 247.7,462.8 247.6,461.8 247.7,460.9 247.7,460.0 247.8,459.2 248.6,458.8 249.3,458.2 249.6,457.6 249.9,458.1 250.1,459.5 250.3,460.9 250.7,461.9 251.5,463.3 251.8,465.6 251.8,467.9 252.1,469.3 252.3,470.7 252.7,472.8 253.4,474.7 253.8,475.9 254.1,476.9 254.5,477.7 254.7,478.0 255.0,477.9 255.6,477.6 256.1,476.6 255.8,475.6 255.8,475.2 256.1,474.9 256.4,473.7 256.6,472.2 256.5,470.6 256.4,468.7 256.5,466.7 256.8,464.9 257.2,463.5 257.4,462.2 257.8,460.4 258.0,458.3 257.9,456.4 258.5,455.0 259.0,453.6 259.1,452.4 259.4,451.7 259.6,451.1 259.7,450.2 259.7,449.7 259.7,449.9 260.0,450.7 260.4,452.0 260.6,453.7 261.0,455.7 261.6,458.1 261.6,460.4 261.6,462.2 262.0,463.6 262.8,465.0 263.9,466.2 264.3,466.2 264.5,465.1 264.5,464.3 264.5,463.2 264.5,462.1 264.7,461.6 264.9,461.2 264.9,460.5 264.6,459.3 264.7,457.9 265.1,456.7 265.4,455.2 265.6,453.6 265.9,452.0 265.9,450.5 266.0,449.1 266.6,447.1 266.8,445.4 266.6,443.8 266.4,441.9 266.5,440.2 266.9,438.6 267.1,437.0 266.9,435.2 267.0,433.8 267.3,432.2 267.3,430.4 267.3,428.6 267.6,426.4 267.9,424.7 268.2,424.0 268.4,423.2 268.5,421.8 268.5,420.5 268.3,419.4 268.5,418.4 268.8,417.5 269.2,416.8 269.7,416.4 270.4,415.8 270.9,415.0 270.5,414.6 270.0,414.5 269.9,414.8 270.1,415.4 270.4,415.6 270.9,416.0 271.4,416.8 271.8,417.5 272.2,418.4 272.4,419.4 272.2,420.3 272.1,421.5 272.5,422.8 272.9,424.3 272.9,425.8 273.2,427.0 273.3,428.6 273.1,430.4 273.6,432.1 274.4,433.7 274.5,435.2 274.4,436.5 274.8,438.0 275.1,440.0 275.3,442.0 275.5,443.6 275.5,445.6 275.3,447.7 275.5,449.4 276.3,450.7 277.0,452.1 277.3,453.7 277.4,455.5 277.3,457.2 277.1,458.6 277.3,460.1 277.7,461.8 277.9,462.9 278.2,463.4 278.7,464.3 279.4,465.4 279.4,466.2 279.2,467.0 279.3,467.7 279.3,467.9 279.4,468.3 279.8,468.5 280.1,468.5 280.3,468.4 280.4,468.2 280.5,467.6 280.7,466.9 281.3,466.0 281.7,464.7 281.8,463.5 281.7,462.4 281.6,460.9 281.9,459.2 282.2,457.7 282.4,456.4 282.8,454.9 283.1,452.7 283.0,450.4 282.9,448.4 283.1,446.3 283.3,444.5 283.5,442.8 283.9,440.9 284.3,439.0 284.5,437.7 284.4,436.0 284.5,434.1 284.6,432.8 284.7,431.5 284.7,429.8 284.7,428.6 284.9,427.6 285.3,426.3 285.1,425.5 284.6,425.1 284.8,424.5 285.5,423.7 286.0,423.6 286.2,424.3 286.4,424.7 286.7,424.7 287.3,425.1 287.5,425.9 287.2,426.9 286.8,427.7 287.0,428.6 287.1,429.3 287.2,430.0 287.7,431.2 287.8,432.7 287.4,433.8 287.5,434.9 288.0,436.5 288.2,438.2 287.9,439.5 288.0,440.8 288.4,442.7 288.7,444.3 288.8,446.1 288.8,447.9 288.6,449.3 288.7,450.9 289.0,452.6 289.0,454.6 288.9,456.5 288.9,458.1 289.3,460.0 289.5,462.0 289.4,463.4 289.2,464.7 289.1,466.4 289.4,468.0 289.8,469.6 289.8,471.1 289.9,472.5 290.0,474.2 289.7,475.8 290.1,477.1 290.6,478.4 290.6,479.7 290.6,481.1 290.7,482.3 290.8,483.2 291.0,484.1 291.4,485.1 291.3,485.8 291.0,486.3 291.2,486.6 291.7,486.7 291.6,487.2 291.4,487.7 291.7,488.2 292.3,488.2 292.3,487.8 292.4,487.5 292.9,486.9 292.8,485.9 292.4,485.2 292.7,484.6 293.2,484.0 293.5,483.6 293.6,482.6 293.6,480.8 294.1,479.2 294.6,478.0 295.1,476.6 295.2,475.2 294.6,473.8 294.2,472.3 294.6,470.4 294.9,468.6 295.5,467.1 295.8,465.2 295.3,463.3 295.3,461.8 296.0,460.5 296.4,458.8 296.5,456.6 296.6,454.5 296.6,452.7 296.7,450.7 297.0,448.7 297.0,447.0 297.1,446.0 298.0,444.6 298.6,442.6 298.3,441.1 297.9,439.7 298.3,438.0 298.9,436.4 299.2,435.0 299.1,433.6 299.3,432.3 299.7,431.5 299.7,430.7 299.6,429.7 299.9,429.0 300.2,428.7 300.0,428.2 299.9,427.3 300.1,426.9 300.0,427.0 300.2,427.4 300.6,427.5 301.0,427.5 300.9,427.8 300.6,428.6 300.9,429.4 300.9,430.1 300.9,430.5 301.5,431.1 301.9,431.9 301.8,432.9 302.0,434.1 302.6,435.2 302.7,436.5 302.5,438.0 302.4,439.5 302.4,440.7 302.6,442.2 302.5,443.8 302.5,445.2 302.7,446.8 303.1,448.6 303.4,450.7 303.4,452.3 303.5,453.8 303.8,455.4 303.6,457.0 303.7,458.7 304.0,460.3 303.7,462.3 303.6,464.8 303.9,466.9 303.9,468.4 304.0,469.6 304.1,471.1 304.1,472.9 304.3,474.8 304.8,476.5 305.1,478.1 305.3,479.4 305.3,481.0 305.2,482.7 305.5,483.9 305.8,484.9 305.8,486.0 305.9,487.3 305.9,488.9 306.0,490.1 306.4,491.1 306.9,492.1 307.0,492.9 306.8,493.3 306.6,493.6 306.5,494.1 307.0,494.6 307.2,495.2 307.2,495.6 307.5,495.7 307.7,495.6 307.7,495.8 307.9,495.8 308.3,495.1 308.6,494.0 308.5,493.1 308.3,492.1 308.5,491.0 308.8,490.1 309.1,489.4 309.2,488.8 308.8,487.7 308.8,486.1 309.2,484.6 309.5,483.0 309.7,481.6 309.9,480.6 309.9,479.0 310.1,477.1 310.4,475.4 310.6,473.5 310.7,471.8 310.5,470.1 310.4,468.3 310.5,466.3 310.9,464.5 311.6,463.2 311.8,461.6 311.8,459.1 311.7,456.9 311.6,455.3 311.9,453.6 312.4,452.0 312.4,450.2 312.3,448.3 312.7,446.6 313.0,444.8 313.2,443.1 313.3,441.8 313.3,440.1 313.4,438.7 313.2,437.7 313.1,436.6 313.4,435.2 314.0,433.8 314.4,432.7 314.6,431.7 314.8,430.4 315.0,429.4 315.4,429.0 315.5,428.4 315.4,427.9 315.5,427.4 315.7,427.0 316.0,426.8 316.1,426.9 316.3,427.0 316.3,427.1 316.3,427.8 316.2,428.4 316.2,428.2 316.4,428.6 316.9,429.6 317.1,430.3 316.5,430.8 316.4,431.6 316.8,432.6 317.3,433.6 317.7,434.6 317.8,435.8 317.8,437.0 318.1,438.2 318.5,439.5 318.7,440.4 319.0,441.2 319.3,442.5 319.3,444.2 319.2,445.8 318.9,447.4 318.6,449.0 318.8,450.8 319.2,452.8 319.3,454.5 319.4,455.7 320.0,456.7 320.9,458.5 321.0,460.7 320.8,462.6 320.6,464.5 320.8,466.2 321.0,467.9 321.0,469.8 321.1,471.3 321.3,472.9 321.3,474.8 321.3,476.8 322.0,478.9 322.7,480.5 322.8,481.6 322.5,483.1 322.6,485.1 323.0,487.0 322.8,488.5 322.4,490.2 322.6,491.8 322.6,493.3 322.9,494.9 323.8,496.5 324.3,497.8 324.0,499.4 323.8,500.9 324.0,501.9 324.1,503.0 324.4,504.1 324.6,505.3 324.8,506.4 325.1,506.9 324.9,507.8 324.6,508.7 324.9,509.4 325.6,510.6 326.3,511.1 326.1,511.3 325.7,512.5 326.0,513.3 326.6,513.5 326.9,513.6 327.0,513.5 326.9,513.6 326.9,513.5 326.9,513.4 327.1,513.1 327.2,512.7 326.9,512.7 327.3,512.3 327.7,511.5 327.9,510.5 328.4,509.5 328.5,509.0 328.2,508.6 328.0,507.3 328.2,505.7 328.5,504.9 328.7,503.7 328.8,502.2 328.7,500.7 328.3,499.2 328.6,497.7 329.4,496.1 329.9,494.6 330.0,493.1 329.9,491.5 330.0,489.3 330.0,487.0 329.8,485.4 330.2,484.2 330.9,482.8 331.3,481.0 331.4,478.7 331.2,476.5 331.1,474.8 331.2,473.1 331.3,471.1 331.1,469.3 331.3,467.8 331.7,466.0 332.1,464.3 332.5,462.6 332.5,460.7 332.7,458.7 332.7,456.9 332.6,455.1 332.5,453.1 332.6,451.7 332.9,450.3 333.2,448.4 333.5,446.7 333.9,445.2 334.1,443.9 334.1,443.0 334.1,441.7 334.6,440.2 334.7,439.2 334.2,438.3 334.0,437.1 334.2,435.7 334.8,434.8 335.5,434.5 335.6,434.0 335.4,433.3 335.7,432.9 336.2,432.5 336.1,432.1 335.9,432.0 336.0,431.6 336.0,431.2 336.1,431.5 336.7,431.9 337.0,432.0 337.1,432.6 337.4,433.4 337.8,433.4 338.1,433.6 338.2,434.9 338.0,436.0 338.1,436.3 338.3,436.5 338.5,437.4 338.6,438.4 338.9,438.9 339.4,439.7 339.4,441.2 338.9,442.3 338.8,443.2 339.0,444.6 339.3,446.0 339.8,447.0 340.2,448.0 340.3,449.2 340.5,450.5 340.7,451.7 341.1,453.5 341.4,454.9 341.1,455.7 341.3,457.0 342.2,458.8 342.2,460.8 341.5,462.5 341.7,464.0 342.1,465.6 341.8,467.1 342.1,468.6 343.1,469.9 343.7,471.4 343.6,473.2 343.1,475.3 342.7,477.3 342.8,478.9 343.2,480.3 343.7,481.7 344.3,483.3 344.2,485.5 343.9,487.8 344.2,489.2 344.6,490.0 344.7,491.6 345.0,493.4 345.2,495.1 345.5,496.8 345.6,498.8 345.5,501.0 345.7,502.8 346.4,504.3 346.8,505.9 346.9,507.5 346.6,509.1 346.4,510.3 346.7,511.7 347.0,513.8 347.1,515.3 347.2,516.6 347.8,518.4 348.2,519.7 348.1,520.8 348.2,522.1 348.1,523.7 348.1,525.0 348.5,526.2 348.9,527.6 348.8,529.1 348.6,530.2 348.5,530.9 348.7,531.9 349.1,533.1 349.5,534.3 350.0,535.3 350.2,536.1 350.1,537.1 350.6,537.8 350.8,538.4 350.7,539.2 351.0,539.7 351.4,540.4 351.5,541.1 351.4,541.7 351.5,542.3 351.9,542.9 351.7,543.2 351.3,542.9 351.6,542.6 351.8,543.0 352.0,543.2 352.5,542.6 352.7,542.2 352.4,541.9 352.3,541.4 352.7,541.4 353.1,541.0 352.9,540.2 352.6,539.3 352.6,538.2 352.9,537.4 353.3,536.6 353.4,535.5 353.5,534.3 354.0,533.1 354.4,532.0 354.4,531.0 354.3,529.6 354.4,528.3 354.6,527.0 354.7,525.3 354.8,523.3 354.8,521.6 354.7,519.9 355.0,518.5 355.5,517.3 355.4,515.6 355.7,513.6 355.9,511.7 355.5,509.6 355.1,507.9 355.2,506.3 355.3,504.3 355.5,502.1 355.5,500.5 355.5,499.1 355.9,497.1 356.4,494.9 356.4,492.9 356.3,491.3 356.7,489.5 356.7,487.4 356.6,485.7 356.4,484.2 356.2,482.3 356.6,480.4 357.3,478.5 357.4,476.6 357.1,475.1 357.2,473.6 357.4,471.7 357.5,470.0 357.8,468.7 357.7,467.4 357.6,466.2 357.9,464.9 357.9,463.6 358.1,462.4 358.5,460.9 358.9,459.4 359.0,458.3 359.0,457.4 359.3,456.5 359.2,455.8 358.7,454.9 358.7,454.0 359.3,453.3 359.5,452.7 359.2,452.4 359.5,452.1 360.2,451.8 360.7,451.5 360.6,451.3 360.1,451.2 360.2,450.9 360.6,450.8 360.8,451.2 360.4,451.6 360.2,452.0 360.5,452.5 360.9,453.0 361.0,453.6 361.1,454.2 361.7,455.1 362.1,456.0 361.8,456.4 361.9,457.5 362.3,458.9 362.5,459.6 362.4,459.9 362.1,460.7 362.2,461.9 362.6,463.0 362.8,464.0 363.1,465.1 363.5,466.5 363.8,468.1 363.8,469.3 363.5,470.4 363.4,471.9 363.9,473.2 364.5,474.4 365.0,476.0 365.2,477.5 365.3,478.7 365.3,479.9 365.0,481.6 364.5,483.4 364.5,485.2 364.9,486.8 365.3,488.2 365.6,489.8 366.1,491.5 366.7,493.2 366.8,495.1 366.8,497.1 367.0,498.8 366.9,500.5 366.7,502.3 366.8,503.9 367.1,505.7 367.2,507.3 367.4,508.7 367.7,510.2 368.1,512.0 368.6,514.1 368.5,516.0 368.4,517.8 368.8,519.3 368.9,520.6 369.0,522.5 369.6,524.6 370.0,526.2 369.9,527.7 369.9,529.3 370.0,530.9 369.8,532.6 370.0,534.0 370.6,534.8 370.8,536.3 370.9,538.0 371.1,539.4 371.3,540.9 371.4,542.3 371.5,544.1 371.7,545.7 372.0,546.6 372.3,547.6 372.3,549.3 372.4,550.2 372.9,550.8 373.2,551.9 373.0,553.5 373.0,554.8 373.3,555.8 373.2,556.8 373.1,557.3 373.3,557.7 373.8,558.4 374.1,559.2 374.1,560.2 374.4,561.0 375.2,561.2 375.3,561.6 375.4,562.0 375.8,562.5 375.5,562.6 375.2,562.7 375.4,563.1 375.8,563.4 376.2,563.5 376.3,563.2 375.9,562.7 376.1,562.6 376.9,562.2 377.0,561.4 376.8,561.1 377.0,560.8 377.3,560.0 377.6,558.9 378.0,557.6 378.0,556.7 378.1,556.1 378.5,555.2 378.8,553.9 378.8,552.6 378.7,551.1 379.0,549.6 379.2,548.2 379.2,546.7 379.2,545.4 379.2,543.7 379.4,542.1 379.8,540.6 379.8,538.5 379.7,536.5 379.9,534.8 380.5,533.2 380.9,531.3 380.9,529.5 381.1,527.7 381.6,526.0 381.7,524.3 381.6,522.2 382.0,520.2 382.5,518.4 382.3,516.5 381.9,514.7 382.2,512.8 382.5,510.9 382.5,509.5 382.4,507.6 382.6,505.4 383.4,503.7 384.2,502.6 384.0,501.1 383.6,499.3 384.0,497.3 384.3,495.4 384.2,493.7 384.4,492.2 384.9,490.8 385.4,489.5 385.3,488.4 384.9,486.7 385.2,485.1 386.0,484.0 386.4,482.7 386.5,481.4 386.6,480.5 386.4,479.5 386.1,478.8 386.4,478.2 386.7,477.5 386.9,476.8 387.3,476.1 387.3,475.7 387.8,475.5 388.7,475.3 389.0,475.4 388.6,475.3 388.7,475.2 389.0,475.2 389.1,475.3 389.6,475.8 390.2,476.3 390.3,476.3 390.0,476.4 389.9,476.9 390.4,477.5 390.6,478.1 390.8,478.6 391.0,479.1 390.8,480.0 390.9,480.9 391.4,481.6 391.7,482.6 391.9,483.5 392.0,484.5 392.4,485.5 392.7,486.5 392.4,487.7 392.6,488.9 393.4,490.1 393.9,491.3 393.8,492.2 393.6,493.0 393.7,493.9 393.9,495.1 394.1,496.9 394.5,498.1 395.0,499.1 395.3,500.8 395.2,502.8 395.1,504.2 395.6,505.0 396.2,506.3 396.3,508.4 396.3,510.1 396.8,511.6 397.4,513.1 397.7,514.6 397.9,515.8 397.8,517.3 397.6,519.2 397.9,521.1 398.5,522.5 398.9,524.1 398.9,525.8 398.8,527.3 399.3,528.9 399.6,530.6 399.8,532.5 400.1,534.5 400.5,536.3 400.9,537.4 400.9,539.0 401.2,541.0 401.8,542.4 402.0,544.1 402.2,545.8 402.5,547.1 402.9,548.6 403.2,550.5 403.3,552.2 403.1,554.0 403.1,555.9 403.1,557.4 403.2,559.0 403.4,560.3 404.0,561.4 404.6,563.1 404.6,564.9 404.6,566.2 404.9,567.6 405.2,569.1 405.8,570.6 405.9,572.1 405.6,573.2 406.0,574.4 406.5,575.8 406.7,577.3 406.6,578.8 406.5,580.3 406.8,581.2 407.3,582.1 407.6,583.5 407.5,584.3 407.9,585.1 408.3,586.4 408.1,587.6 408.2,588.7 408.9,589.9 409.2,591.0 409.5,591.8 409.4,592.1 409.3,592.5 409.5,593.4 409.6,594.3 410.1,595.1 410.8,595.7 411.0,596.1 410.8,596.3 410.6,596.8 410.7,597.4 411.1,597.7 411.6,598.3 411.9,598.5 411.8,598.6 412.1,598.7 412.8,598.6 413.0,598.5 413.0,597.9 413.2,597.3 413.4,597.2 413.6,596.9 413.6,596.1 413.9,595.1 414.5,594.0 414.8,593.0 414.8,591.6 414.8,590.1 414.6,589.2 414.5,588.2 415.1,586.4 415.9,584.5 416.5,582.8 416.6,581.6 416.5,580.0 416.8,578.1 417.1,576.5 417.2,575.0 417.5,573.1 417.5,571.0 417.3,569.1 417.3,567.2 417.6,565.6 417.6,564.1 417.4,562.1 417.8,560.3 418.3,558.6 418.6,556.8 418.6,555.1 418.4,553.4 418.5,551.5 419.2,550.2 419.2,549.1 418.6,547.5 419.0,545.6 419.7,544.2 419.8,543.4 419.8,542.2 420.1,541.0 420.5,539.9 420.4,539.1 419.9,538.2 420.7,534.7 422.0,532.4 423.0,530.7 423.4,529.3 424.0,528.6 424.7,528.1 425.1,528.2 425.7,528.6 426.5,528.8 426.6,528.9 426.7,529.6 427.4,530.4 428.0,531.3 428.4,532.4 429.0,533.5 429.4,534.5 429.5,535.9 430.1,537.3 430.7,538.6 430.9,540.3 431.4,542.1 432.1,544.3 432.2,545.6 432.2,546.7 432.5,547.6 433.0,548.4 433.4,549.1 433.7,550.3 433.9,551.6 434.1,552.8 433.9,554.0 433.9,555.1 434.6,556.1 434.9,557.2 434.9,558.3 435.4,559.4 436.1,560.7 436.4,562.2 436.0,563.4 436.0,564.6 436.5,566.0 436.6,567.3 437.0,568.4 437.4,569.7 437.5,571.4 437.8,573.0 438.1,574.3 438.4,575.3 438.7,576.4 439.1,577.7 439.2,578.8 439.3,579.9 439.7,581.2 440.0,582.5 440.2,584.2 440.2,585.8 440.2,587.0 440.4,588.0 440.6,589.2 441.1,590.3 441.6,591.8 442.2,593.3 442.6,594.4 442.6,595.7 442.6,597.1 443.0,598.6 443.1,599.9 442.7,601.2 443.2,602.7 444.1,604.0 443.9,605.1 443.7,606.1 444.1,607.0 444.3,608.0 444.4,609.3 444.8,610.4 445.5,611.2 445.5,611.9 445.2,612.6 445.4,614.4 446.0,616.2 446.9,618.0 447.5,619.3 447.7,620.1 448.2,621.0 449.0,622.0 449.7,623.2 449.9,624.4 449.9,624.9 450.4,625.5 451.1,626.4 452.2,627.9 453.4,629.2 454.4,630.2 455.6,630.3 456.7,630.6 457.9,631.3 459.3,631.4 461.3,631.2 462.9,630.5 463.3,629.9 463.8,628.8 464.3,627.8 464.7,626.8 465.1,625.7 465.8,624.6 466.4,623.5 466.6,622.2 466.8,621.1 467.5,619.9 468.1,618.9 468.9,617.9 469.4,616.3 469.3,614.7 469.5,613.4 470.0,612.4 470.2,611.8 470.3,610.4 470.6,608.8 470.9,607.8 471.2,606.9 471.8,605.8 472.3,604.6 472.4,603.5 473.0,602.3 473.4,600.7 473.4,599.3 473.9,597.8 474.7,596.7 475.2,595.9 475.2,594.6 475.4,593.0 475.9,591.8 476.2,590.5 476.4,589.0 476.5,587.5 476.8,586.1 477.2,584.9 477.4,584.1 477.7,582.7 478.0,581.2 478.3,579.9 478.7,578.5 478.8,576.7 479.1,575.1 479.4,573.9 479.7,572.9 480.3,571.7 480.8,570.7 481.0,570.0 481.4,569.4 481.5,568.8 481.7,568.3 482.6,567.6 483.3,567.6 484.1,567.8 484.6,568.8 484.8,570.7 485.6,572.7 486.8,574.9 487.4,576.9 487.5,577.6 488.1,578.7 488.6,579.8 489.0,580.9 489.6,582.2 490.1,583.3 490.3,584.3 490.4,585.3 491.0,586.6 491.7,588.1 491.8,589.4 492.0,590.7 492.2,592.4 492.5,593.5 493.1,594.2 493.7,595.3 494.0,597.1 494.0,598.5 493.9,599.7 494.4,601.0 495.3,602.1 495.8,603.1 496.4,604.4 497.0,606.0 497.4,607.5 497.7,609.1 497.8,610.6 498.0,612.0 498.4,613.6 498.2,614.9 498.3,615.9 498.9,617.2 499.5,618.4 500.1,619.4 500.5,620.7 500.7,622.0 500.5,622.8 500.3,623.4 500.5,624.0 500.8,624.6" fill="none" stroke="#000" stroke-width="3.9" stroke-linejoin="round" stroke-linecap="round"/>
<path d="M64.6,637.2 65.5,636.4 67.2,635.3 68.4,635.7 69.2,637.4 70.0,638.8 72.2,639.4 73.4,638.1 74.5,637.2 75.4,637.6 76.7,638.3 78.1,639.0 79.3,639.7 80.2,640.3 81.5,641.1 82.7,641.5 84.0,641.2 85.8,640.8 87.5,640.4 88.6,640.3 89.7,640.5 90.8,640.4 92.5,640.0 93.8,639.7 95.0,639.5 96.2,639.2 97.5,639.2 98.7,639.2 100.0,638.6 101.2,637.8 102.2,637.8 103.5,637.7 104.3,637.2 105.6,636.7 107.2,636.8 108.4,636.7 109.7,635.7 110.1,635.1 110.8,633.7 112.3,632.2 113.5,631.6 114.3,630.7 115.2,629.6 116.0,628.9 116.9,628.0 117.7,627.1 118.3,626.4 118.9,625.4 120.0,623.8 121.2,622.3 121.8,621.5 122.0,620.9 122.8,619.9 123.8,618.4 124.2,616.7 124.6,615.5 125.2,614.5 126.0,613.5 127.1,612.5 128.5,611.8 129.2,611.8 130.1,611.6 131.5,610.7 132.3,609.0 132.8,607.4 132.9,606.4 133.1,605.5 133.6,604.4 134.2,603.2 134.9,601.9 135.3,600.5 136.2,599.3 137.9,598.7 138.7,597.7 138.9,596.7 139.4,595.3 140.1,593.7 140.9,593.1 141.9,592.2 142.4,591.2 142.5,590.2 143.1,589.0 144.0,588.1 145.2,587.2 146.5,585.8 146.7,584.3 146.6,583.2 147.0,582.0 147.7,580.8 148.3,580.2 149.1,579.2 149.6,578.2 150.1,577.1 150.6,575.9 151.5,575.0 152.3,573.8 152.5,572.6 153.1,571.6 154.0,570.5 154.6,569.0 154.7,568.0 155.3,566.9 156.2,565.5 156.5,564.2 156.4,563.1 156.6,561.7 157.4,560.3 158.0,559.5 158.6,558.6 159.2,557.8 160.2,556.7 161.1,555.4 162.3,554.4 163.5,554.2 164.5,553.7 165.3,552.3 165.5,551.0 165.4,550.1 165.5,549.4 166.0,547.7 166.9,546.0 167.7,545.0 168.3,544.1 168.8,542.8 169.4,541.5 169.8,540.5 170.0,539.5 170.2,538.5 171.6,537.3 173.0,536.7 173.8,535.7 174.5,534.4 175.5,533.3 176.4,532.1 176.7,531.0 176.8,529.7 177.2,528.3 178.0,527.0 178.7,525.8 179.3,524.2 179.3,523.0 179.1,522.9 179.6,523.3 180.2,524.8 180.6,527.1 181.6,528.9 182.3,530.1 182.2,530.7 182.2,530.2 182.9,529.4 183.4,528.4 183.6,526.9 183.9,525.4 184.5,523.9 185.1,522.0 185.4,520.3 185.4,519.2 185.7,518.0 186.8,516.3 187.8,515.4 188.6,514.7 189.6,513.3 190.7,512.3 191.3,511.8 192.1,509.9 192.9,508.1 193.9,507.4 195.2,509.2 196.7,509.6 196.8,508.9 197.0,508.0 197.7,506.9 198.3,505.8 198.5,504.5 198.6,502.8 199.1,500.9 199.9,499.3 200.2,497.8 199.9,497.1 200.3,496.4 201.1,495.1 202.2,494.8 203.2,496.8 204.2,498.5 205.1,497.9 205.6,497.2 206.1,496.5 206.3,495.4 206.5,494.3 207.0,493.2 207.4,491.4 207.5,489.7 207.7,488.1 208.2,486.6 208.6,485.4 209.3,484.6 209.9,483.8 210.0,482.7 209.9,481.9 210.3,482.2 210.9,483.7 211.8,485.2 212.6,486.7 213.1,488.2 214.0,488.2 214.5,487.7 214.6,486.9 214.8,485.9 214.7,484.8 214.8,483.3 215.0,481.8 215.1,480.2 215.4,478.7 215.6,477.3 215.9,475.9 216.4,474.4 216.5,472.9 216.5,471.2 216.8,470.0 217.5,469.4 217.5,469.0 217.3,468.3 217.6,467.7 218.1,468.6 218.8,470.4 219.5,472.3 219.6,474.3 219.6,476.0 219.9,477.3 220.4,478.1 221.3,478.1 222.2,477.8 222.7,477.2 222.7,476.4 223.1,475.6 223.6,474.1 224.2,472.5 224.6,470.7 225.0,468.7 225.9,467.1 226.6,465.9 226.8,465.1 227.1,464.0 227.6,463.1 227.9,462.7 228.2,462.5 228.9,463.1 229.6,463.9 230.0,464.9 230.3,466.1 230.7,467.2 230.8,468.8 230.6,471.0 230.6,472.9 231.1,474.1 231.6,475.8 231.8,477.9 231.4,479.4 231.4,480.5 231.9,481.4 232.3,482.6 232.7,483.6 233.5,483.4 233.9,482.8 233.7,482.4 233.5,481.7 233.6,480.8 234.2,479.7 234.8,477.9 234.5,476.3 233.9,475.0 234.3,473.3 235.1,471.8 235.6,470.0 235.8,467.7 235.9,466.0 236.0,464.8 236.2,463.5 236.5,461.7 237.0,460.6 237.3,460.3 237.2,460.2 237.5,460.2 237.8,460.1 237.8,460.5 238.2,461.3 238.7,462.4 239.0,463.8 238.9,465.2 238.8,466.7 239.2,468.0 239.8,469.5 240.3,471.4 240.1,473.3 239.8,475.2 240.0,477.1 240.5,478.8 240.7,480.3 240.6,481.5 240.7,482.9 241.1,484.3 241.2,485.2 241.1,486.2 241.6,487.6 242.0,488.3 242.0,488.6 242.4,488.6 242.8,488.4 242.9,487.9 242.8,487.2 242.7,486.2 243.4,485.4 243.9,484.4 243.9,483.4 244.2,482.3 244.6,480.7 244.7,478.7 244.5,476.9 244.7,475.2 245.2,473.3 245.2,471.6 245.1,470.4 245.5,469.0 246.1,467.3 246.1,465.8 246.0,464.1 246.1,462.5 246.3,461.1 246.5,459.2 246.9,457.7 247.3,456.5 247.3,455.4 247.4,454.2 247.6,453.0 247.9,452.4 248.5,452.1 248.7,451.6 248.5,451.1 248.7,450.9 249.2,451.1 249.3,451.7 249.0,452.8 249.1,454.0 249.3,455.3 249.5,456.9 250.0,458.3 250.6,459.8 251.0,461.8 251.0,464.0 251.2,465.6 251.8,466.9 251.8,468.4 251.6,470.5 252.1,472.4 252.4,473.7 252.5,474.7 252.7,475.7 253.4,477.1 254.0,478.2 254.0,478.4 253.8,478.2 253.7,478.0 254.0,477.7 254.4,477.0 254.8,476.3 255.3,475.3 255.7,474.1 255.8,472.9 255.7,471.6 256.2,470.0 256.7,468.4 257.0,467.0 257.1,465.5 257.1,463.9 257.3,462.2 257.7,460.4 257.9,458.4 258.0,457.1 258.6,455.9 258.8,454.1 258.6,452.4 259.1,450.9 259.7,449.5 259.9,448.3 260.1,447.4 260.2,446.9 260.3,446.9 260.8,446.7 261.4,446.2 261.5,446.4 261.4,447.5 261.8,449.0 262.4,451.0 262.8,453.3 262.9,456.0 263.1,458.7 263.2,460.6 263.6,462.0 264.4,462.7 264.5,462.4 264.1,461.6 264.1,461.5 264.7,460.8 265.3,459.6 265.4,458.9 265.4,458.6 265.5,457.8 265.3,456.3 264.9,454.7 265.0,453.2 265.3,451.9 265.5,450.2 265.4,448.7 265.4,447.9 265.5,446.6 265.6,444.9 265.8,443.1 266.1,440.9 266.2,439.0 266.3,437.5 266.6,435.7 266.6,433.7 266.4,432.2 266.4,430.7 266.8,428.6 267.3,426.9 267.7,425.4 267.5,423.6 266.7,422.0 266.9,420.9 267.6,419.8 267.6,418.5 267.8,417.3 267.9,416.3 267.8,415.4 267.9,414.6 268.5,414.3 268.9,413.7 268.8,412.8 268.9,412.3 269.0,412.0 269.1,412.2 269.3,412.9 269.5,413.1 269.8,413.3 269.8,414.1 269.7,414.9 270.0,415.2 270.3,415.7 270.6,416.7 270.8,417.9 270.9,419.0 271.2,420.2 271.4,421.5 271.4,423.0 271.6,424.2 271.8,425.2 271.8,426.3 272.3,427.9 272.7,429.9 272.6,431.5 272.7,433.2 273.3,434.9 273.7,436.5 273.8,438.3 274.0,440.1 274.2,441.6 274.4,443.0 274.8,444.6 275.4,446.3 275.8,448.1 276.2,449.7 276.5,451.2 276.4,452.8 276.2,454.3 276.2,456.0 276.6,457.6 277.2,458.9 277.2,460.6 277.1,462.2 277.4,463.4 277.6,464.6 277.6,465.9 277.7,466.9 278.1,467.9 278.2,468.9 278.2,469.9 278.8,470.8 279.1,471.1 279.1,471.2 279.4,471.6 279.7,472.1 279.7,472.2 280.1,472.0 280.7,471.5 280.9,471.0 280.7,470.8 281.0,469.8 281.3,468.5 281.4,467.4 281.5,466.1 281.5,464.7 281.7,463.1 282.0,461.3 282.3,459.3 282.5,457.6 282.8,455.9 283.0,453.8 283.2,452.1 283.7,450.2 284.0,447.9 283.9,446.2 284.0,444.7 284.0,443.0 284.1,440.9 284.6,439.0 284.8,437.6 284.4,436.5 284.2,435.4 285.2,434.5 285.8,433.5 285.6,432.4 285.7,431.9 286.0,431.7 286.1,431.2 286.1,430.9 286.3,431.2 286.6,431.7 286.5,432.4 286.7,433.2 287.1,434.1 287.3,434.8 287.5,435.4 287.4,436.6 287.3,437.8 287.3,439.0 287.4,440.6 287.5,442.7 287.8,444.4 288.0,445.8 288.2,447.2 288.5,448.5 288.7,449.6 288.8,450.8 288.6,452.7 288.6,454.9 289.2,456.6 289.4,458.2 289.2,460.1 289.2,462.0 289.5,463.8 289.9,465.3 289.9,466.7 289.9,468.7 290.1,470.7 290.4,471.9 290.7,473.2 290.7,475.0 290.3,476.8 290.4,478.4 290.8,479.3 290.8,480.5 290.9,481.6 291.3,482.6 291.6,484.0 291.6,484.8 291.6,485.1 291.7,485.7 291.6,486.5 291.8,486.9 292.4,487.1 292.6,487.3 292.6,487.2 292.6,486.9 292.7,486.5 292.9,486.0 293.1,485.0 293.3,484.0 294.0,483.1 294.3,482.1 294.2,481.1 294.5,480.3 294.6,479.1 294.4,477.4 294.5,475.6 295.1,474.0 295.7,472.5 296.0,471.2 296.1,469.7 295.9,468.1 295.6,466.1 295.4,464.0 295.7,462.1 296.2,460.3 296.6,458.5 297.0,456.4 297.5,454.3 297.5,452.8 297.6,451.3 298.1,449.7 298.3,448.0 298.4,446.0 298.6,444.5 298.8,443.1 299.0,441.6 299.1,440.1 299.3,438.8 299.7,437.8 300.0,437.1 300.0,436.0 300.2,434.8 300.9,433.8 301.3,433.1 301.3,432.5 301.3,432.0 301.5,431.6 301.7,431.1 301.9,431.0 301.8,431.8 301.4,432.0 301.5,432.2 302.0,432.7 302.2,433.4 302.1,434.4 302.4,435.0 302.6,435.6 302.6,436.4 302.8,437.5 303.3,439.2 303.3,440.5 303.2,441.6 303.3,443.0 303.3,444.5 303.1,446.1 303.3,447.5 303.5,448.8 303.5,450.2 303.7,452.0 304.0,453.7 304.1,455.6 304.2,457.9 304.3,459.7 304.5,461.0 304.4,462.6 304.3,464.8 304.7,466.4 305.3,467.8 305.0,469.7 304.5,471.5 304.7,473.2 304.8,475.1 304.9,476.9 305.1,478.7 305.4,480.5 305.6,481.7 306.0,482.8 306.6,484.2 306.5,485.6 306.1,487.0 305.9,488.5 306.1,489.8 306.5,490.8 306.5,492.0 306.2,492.9 306.1,493.4 306.3,494.1 306.6,494.9 306.8,495.6 306.7,496.5 306.9,496.8 307.4,496.5 307.9,496.2 308.0,496.3 307.9,496.2 307.7,495.9 307.8,495.7 308.5,495.3 308.7,494.4 308.2,493.3 307.8,492.6 308.3,491.8 308.8,490.6 308.9,489.3 309.4,488.0 309.7,486.6 309.7,485.2 309.4,483.7 309.6,482.1 310.0,480.7 310.2,479.0 310.1,477.5 309.6,476.0 309.5,473.7 309.9,471.2 310.7,469.6 311.1,468.3 311.2,466.9 311.2,465.0 311.3,462.9 311.5,461.0 311.7,458.6 311.7,456.6 311.5,455.8 311.8,454.5 312.7,452.6 313.3,450.6 313.0,448.5 312.8,446.6 313.1,445.5 313.1,444.2 313.1,442.4 313.3,441.4 313.7,440.7 314.1,439.4 314.4,437.9 314.5,436.9 314.5,436.3 314.6,435.4 314.8,434.4 315.3,433.8 315.2,433.3 315.5,433.0 315.9,433.0 315.8,432.9 316.1,432.7 316.5,432.8 316.6,433.3 316.5,433.8 316.5,434.4 316.5,434.9 316.5,435.3 316.7,436.0 317.2,437.1 317.7,438.2 317.5,438.9 316.9,439.4 317.6,440.3 318.2,441.4 318.2,442.6 318.2,443.6 318.1,444.9 318.3,446.1 318.8,447.7 319.1,449.4 319.1,450.9 319.5,452.4 320.0,453.9 319.9,455.2 319.5,456.7 319.7,458.7 320.1,460.7 320.2,462.5 319.9,464.0 319.9,465.8 320.1,467.4 320.3,469.2 320.6,470.8 321.0,472.3 321.4,474.1 321.6,475.8 321.7,477.5 321.5,479.4 321.3,481.3 321.6,482.9 321.9,484.5 322.2,486.1 322.3,487.7 322.4,489.5 322.8,491.0 323.2,492.6 323.4,494.3 323.2,496.0 323.1,497.4 323.6,498.8 323.8,500.3 323.6,501.6 324.0,502.6 324.4,503.7 324.3,504.9 323.9,505.9 323.9,506.9 324.4,508.1 324.8,509.3 325.0,510.1 325.4,510.5 325.8,511.0 326.1,512.0 325.9,513.1 326.1,513.7 326.7,513.7 326.8,513.9 326.2,514.2 325.8,514.3 326.2,514.5 326.4,514.5 326.7,514.1 327.1,513.5 327.2,512.8 327.5,512.3 327.9,511.6 328.0,510.8 328.0,510.2 328.1,509.3 328.2,508.1 328.2,506.7 328.1,505.7 328.2,505.0 328.9,504.0 329.2,502.4 328.7,500.6 328.8,498.8 329.6,497.3 330.0,495.9 330.0,494.5 330.1,493.1 330.2,491.3 330.3,489.5 330.3,487.5 330.2,485.3 330.5,483.7 331.1,482.2 331.1,480.2 331.1,478.1 331.3,476.3 331.0,474.7 331.1,473.1 331.5,470.9 331.9,468.7 332.0,467.2 332.1,465.7 332.3,463.7 332.7,461.9 332.9,460.2 332.8,458.4 333.0,456.9 333.5,455.4 333.6,453.9 333.2,452.7 333.5,451.3 334.1,449.3 334.3,447.4 334.5,446.5 334.7,445.9 334.5,444.7 334.4,443.5 334.7,442.3 334.8,441.0 335.0,440.6 335.5,440.2 336.0,439.2 336.2,438.5 336.4,438.0 336.5,437.7 336.5,437.5 336.7,437.7 336.8,438.2 336.8,438.4 337.1,438.3 337.2,438.4 337.2,438.9 337.4,439.2 337.8,439.7 338.0,439.9 337.8,440.0 338.1,440.7 338.5,442.2 338.6,443.4 338.5,443.7 338.5,444.3 338.8,445.5 339.5,446.3 339.8,447.1 339.8,448.2 339.7,449.4 339.5,450.6 339.9,452.0 340.7,453.6 341.1,454.6 340.9,455.7 340.9,457.1 341.0,458.4 341.2,459.8 341.4,461.2 341.5,462.7 341.5,464.4 341.9,465.9 342.4,467.1 342.6,469.0 342.8,471.0 343.0,472.4 342.9,473.7 342.8,475.6 343.1,477.6 343.8,479.3 344.1,480.8 344.0,482.4 344.1,484.0 343.7,485.6 343.6,487.0 344.4,488.7 345.1,490.7 345.1,492.7 344.8,494.5 344.6,496.3 345.0,497.6 345.2,499.1 345.3,500.7 345.5,502.0 345.8,503.7 346.1,505.7 346.2,507.5 346.3,509.1 346.4,510.6 346.6,512.0 346.9,513.4 347.4,514.9 347.5,516.2 347.4,517.6 347.5,519.3 347.8,521.3 348.4,522.9 348.9,523.8 349.0,525.0 348.7,526.5 348.5,528.1 348.7,529.6 349.0,530.5 349.0,531.4 349.3,532.7 349.6,533.5 349.5,534.1 349.8,535.2 350.2,536.4 350.4,537.2 350.7,537.7 351.0,538.4 351.4,539.1 351.4,539.5 351.2,540.2 351.2,540.7 351.4,540.8 351.6,540.9 351.6,541.2 351.6,541.7 351.8,541.9 351.9,542.1 352.1,542.3 352.7,542.1 353.2,541.8 353.3,541.5 353.1,540.8 353.1,539.8 352.9,538.8 352.8,537.6 353.1,536.4 353.3,535.5 353.4,534.6 354.0,533.5 354.4,532.1 354.5,530.9 354.6,529.6 354.6,528.0 354.3,526.1 353.9,523.9 354.2,521.6 355.1,520.3 355.7,519.2 355.7,517.5 355.3,515.3 355.2,513.3 355.6,511.6 355.9,509.5 356.1,507.6 356.5,505.9 356.8,503.9 356.9,501.7 357.0,499.5 356.8,497.4 356.7,495.2 357.0,493.3 357.0,491.6 356.8,490.0 356.9,488.5 357.1,486.6 357.6,484.8 357.6,483.5 357.1,482.1 357.3,480.5 357.9,479.1 358.3,477.8 358.6,476.5 358.9,475.3 358.8,474.4 358.8,473.5 359.1,472.5 359.2,471.6 359.5,471.0 359.7,470.6 359.6,470.3 359.8,470.1 360.2,469.9 360.4,469.6 360.6,469.5 360.8,469.6 360.8,469.8 360.9,470.2 361.1,470.7 361.2,471.2 361.5,471.4 362.0,471.8 362.0,472.6 361.6,473.2 361.6,473.9 362.0,475.0 362.2,475.9 362.5,476.5 362.6,477.2 362.6,478.1 362.5,479.0 362.9,480.1 363.3,481.1 363.4,482.2 363.6,483.3 363.9,484.5 364.1,485.9 364.3,487.6 364.4,489.1 364.6,490.3 364.6,491.5 364.5,492.7 364.9,493.9 365.4,495.0 365.5,496.4 365.8,497.9 366.3,499.5 366.4,501.3 366.4,503.2 366.4,504.4 366.3,505.5 366.7,507.4 367.4,509.4 367.5,511.1 367.1,512.5 366.9,514.0 367.3,515.6 367.7,517.5 368.0,519.5 368.3,521.2 368.5,522.7 368.3,524.5 368.2,526.4 368.6,527.6 369.0,528.8 369.4,530.7 369.5,532.8 369.4,534.4 369.5,536.1 369.9,537.9 370.2,539.5 370.2,540.8 370.4,542.4 370.5,543.9 370.5,545.2 370.9,547.0 371.6,548.6 372.3,550.0 372.1,551.4 371.9,552.8 372.0,554.4 371.8,556.3 372.0,557.5 372.8,558.4 373.3,559.6 373.0,560.9 372.9,562.4 373.4,563.6 373.9,564.0 373.9,565.0 373.8,566.5 373.9,568.0 374.0,569.4 374.1,570.1 374.4,570.9 374.6,571.7 374.9,572.3 375.1,573.0 375.3,573.4 375.4,573.6 375.4,574.0 375.6,574.7 375.8,575.5 376.3,576.0 376.7,576.6 376.8,577.1 376.6,577.1 376.7,577.1 377.2,577.1 377.1,576.8 377.3,576.6 377.9,576.2 378.2,575.7 377.9,575.0 377.8,574.1 378.5,573.5 379.3,572.7 379.6,571.5 379.6,570.1 379.6,568.5 379.9,567.0 380.4,565.6 380.6,564.2 380.5,563.0 380.4,561.5 380.5,559.7 380.6,557.9 381.0,555.9 381.7,553.6 382.2,551.7 382.2,550.3 381.9,548.2 382.3,546.1 383.2,544.4 383.4,542.2 383.1,540.4 383.2,539.1 383.5,536.9 384.0,534.7 384.3,533.0 384.1,531.3 383.8,529.8 384.2,528.3 384.9,526.6 384.5,524.4 384.2,522.6 385.0,521.4 386.0,520.2 386.2,519.0 386.3,517.9 386.6,516.8 386.8,515.7 386.6,515.0 386.8,514.3 387.3,513.4 387.8,512.2 388.1,511.4 388.0,511.4 388.4,511.6 389.0,511.5 389.2,511.4 389.6,511.7 389.9,512.2 390.0,512.4 390.1,512.8 390.4,513.5 390.8,514.1 391.3,514.6 391.7,515.1 391.7,515.8 391.9,516.6 392.4,517.6 392.5,518.6 392.4,519.7 392.8,520.5 393.3,521.3 393.4,522.6 393.4,523.8 394.1,525.3 394.7,527.0 395.0,528.0 395.2,528.9 395.6,530.4 396.1,532.2 396.3,533.6 396.4,534.8 397.1,536.4 397.6,538.1 398.1,539.2 398.3,540.7 398.2,543.0 398.7,544.9 399.2,546.5 399.1,548.2 399.1,549.9 399.7,551.6 400.3,553.1 400.2,554.9 400.2,556.9 400.6,558.3 400.9,560.0 401.6,561.8 402.4,563.5 402.6,565.2 402.7,566.5 403.3,567.6 403.7,569.3 403.9,571.0 404.1,572.4 404.2,574.1 404.3,576.0 404.9,577.5 405.7,578.4 406.0,579.5 405.9,580.8 406.2,582.0 407.1,583.6 407.1,584.9 406.7,585.7 407.2,586.7 407.9,587.6 408.3,588.4 408.7,589.5 408.7,590.7 408.7,591.5 409.1,591.9 409.4,592.2 409.6,592.9 410.3,594.0 410.7,594.6 410.7,594.6 411.1,594.8 411.8,595.1 411.9,595.3 411.9,595.5 412.5,595.4 413.1,595.1 413.3,594.2 413.4,593.5 413.7,593.0 414.6,591.9 415.6,590.8 416.1,590.0 416.2,588.9 416.4,587.6 416.4,586.0 416.6,584.4 417.4,583.3 418.3,582.3 418.8,580.9 418.7,579.0 418.6,577.3 419.1,575.7 420.0,573.8 420.5,572.0 420.4,570.5 420.5,568.9 421.4,567.3 422.1,565.1 422.2,563.1 422.6,561.5 423.1,559.9 423.3,558.5 423.4,557.2 424.0,555.3 424.3,553.6 424.3,552.4 424.5,551.3 424.7,549.9 425.0,548.2 425.4,546.8 425.6,545.8 425.9,544.6 426.3,543.9 426.6,543.5 426.9,542.9 427.1,542.1 428.2,540.4 429.1,540.0 429.8,540.1 430.4,540.7 430.9,542.1 431.6,544.0 432.5,546.3 433.0,549.0 433.7,551.9 434.3,552.7 434.6,553.7 434.8,554.7 434.9,555.7 435.1,556.7 435.7,557.8 436.1,559.0 436.1,560.1 436.4,561.4 436.8,563.0 437.2,564.6 437.8,565.8 438.1,566.9 438.4,568.0 438.6,568.9 438.3,570.4 438.3,572.0 438.7,573.5 439.0,575.2 439.3,576.7 439.6,577.8 440.0,578.8 440.9,580.4 441.7,582.1 441.7,583.4 441.5,584.7 441.6,586.0 442.0,587.1 442.4,587.9 442.5,588.7 442.6,589.6 443.2,590.6 443.7,591.5 444.1,592.2 445.1,595.2 445.2,596.8 445.2,597.7 445.5,598.7 445.9,599.3 446.6,599.5 447.4,600.0 448.4,601.2 448.8,601.8 449.1,602.4 449.9,603.9 450.4,604.5 450.6,605.5 451.0,606.9 452.0,608.4 452.7,609.9 453.3,611.1 453.9,612.3 454.2,613.5 454.7,614.4 455.3,615.3 456.0,616.6 456.9,618.0 457.7,619.8 458.0,621.3 458.7,622.2 459.6,622.5 460.4,622.2 461.0,622.0 462.1,621.6 463.3,620.8 463.9,619.8 464.4,618.9 464.8,618.0 465.0,617.0 465.6,616.2 466.5,614.8 467.3,613.2 468.0,611.8 469.0,610.0 469.0,608.9 468.7,607.9 469.1,606.9 469.7,605.7 469.9,604.6 470.4,603.3 471.0,601.8 471.4,600.4 471.7,599.1 471.7,597.8 471.9,596.6 472.3,595.7 472.8,594.9 473.5,593.2 474.2,591.7 473.9,590.5 473.5,589.0 473.7,587.6 474.1,586.3 474.6,585.2 475.1,584.1 475.3,583.1 475.4,582.1 476.1,580.8 476.7,579.5 476.8,578.5 476.9,577.4 477.1,576.5 478.3,574.4 479.5,572.8 480.3,571.2 480.9,570.3 481.7,570.0 482.6,569.9 482.9,570.1 483.2,570.5 483.9,570.9 484.6,571.6 485.4,573.2 486.7,575.4 488.2,577.6 488.2,578.4 488.2,579.1 488.7,579.8 488.9,580.7 489.2,581.9 489.4,583.0 489.7,583.7 490.1,585.0 490.4,586.1 491.1,586.9 491.8,588.3 491.7,589.9 491.9,591.1 492.7,592.3 493.2,593.6 493.5,595.2 493.8,596.8 494.2,598.3 494.7,600.0 494.8,601.1 494.9,602.2 495.0,603.5 495.1,604.6 495.9,605.6 496.6,606.7 497.0,607.9 497.3,609.0 497.5,609.8 498.1,611.5 498.7,613.0 498.9,614.9 499.1,616.2 500.0,617.1 500.7,618.4 500.7,619.6 500.8,620.5 500.8,621.1 501.1,621.8 501.6,623.0" fill="none" stroke="#b84812" stroke-width="3.9" stroke-linejoin="round" stroke-linecap="round"/>
<path d="M64.4,645.9 65.1,645.3 66.0,645.1 67.5,644.9 68.9,644.7 70.4,644.7 72.1,644.5 73.2,643.6 74.1,642.9 75.2,642.7 76.2,642.7 77.6,642.4 79.2,641.8 80.1,641.6 81.2,641.6 82.3,641.6 83.2,640.7 84.3,639.8 85.9,639.7 87.4,639.9 88.4,639.5 89.7,638.8 91.0,638.4 91.9,638.2 93.1,637.9 94.7,637.6 96.3,636.9 97.3,635.5 98.0,634.3 98.8,633.8 99.7,633.8 100.4,633.2 101.1,631.8 102.0,630.7 102.8,630.2 103.3,629.4 104.1,628.3 105.0,627.1 105.5,626.0 105.5,624.9 106.1,623.5 107.0,622.2 107.6,621.2 107.6,619.7 107.6,618.3 108.2,617.3 108.8,616.4 109.4,615.2 110.1,614.2 110.6,613.1 111.1,611.5 111.5,610.0 111.9,608.5 112.1,606.9 112.4,605.7 112.6,604.6 112.9,603.8 113.4,603.1 114.0,602.8 114.5,603.0 115.1,603.4 115.9,604.2 116.9,605.9 117.7,607.6 118.5,609.0 119.6,610.3 120.9,610.8 121.9,611.4 122.7,612.0 123.7,612.3 125.0,613.0 126.3,613.9 127.6,614.1 129.1,614.2 130.4,614.5 131.3,614.8 132.5,614.7 134.1,614.6 135.5,614.6 136.8,614.4 138.0,613.9 139.7,613.2 141.3,613.0 142.0,612.9 143.1,612.1 144.6,611.2 145.6,610.4 146.3,609.9 147.6,609.6 148.6,609.4 150.1,607.9 150.0,607.0 150.2,606.1 151.1,605.4 152.3,604.4 153.1,603.3 153.9,602.5 155.2,601.7 156.3,600.8 156.8,599.6 157.4,598.5 158.4,597.6 159.5,596.6 160.3,595.4 160.6,594.5 161.0,594.0 161.5,593.1 162.4,591.6 163.3,590.3 163.8,589.2 164.2,588.3 164.7,587.7 165.2,586.6 165.6,585.1 166.8,583.9 167.8,583.0 168.6,582.0 169.5,580.9 169.9,579.5 170.2,578.5 171.0,578.0 172.0,577.0 172.8,576.0 173.5,574.9 174.3,573.0 175.0,571.4 175.2,570.6 175.6,569.7 176.7,568.7 177.8,568.0 178.2,567.4 178.5,566.6 179.3,565.4 180.0,563.9 181.0,562.4 182.3,561.5 183.2,561.0 183.8,559.9 184.3,558.6 184.9,557.8 185.7,556.8 186.5,556.1 187.1,555.4 187.4,554.2 188.0,552.8 188.8,551.1 188.9,549.6 189.2,548.3 190.1,547.4 190.8,546.7 190.9,545.7 191.2,544.8 191.7,543.9 192.8,542.9 193.8,542.7 194.6,542.1 195.4,541.0 196.4,539.2 197.0,538.2 197.7,537.5 198.5,536.8 198.6,535.5 198.6,533.8 199.1,532.8 199.9,531.5 200.5,530.0 200.8,528.9 201.0,527.5 201.4,526.5 202.9,525.1 204.1,524.9 205.4,523.9 205.8,522.6 205.9,521.2 205.9,520.6 206.1,519.7 206.5,518.5 206.7,516.8 206.7,515.1 207.2,514.2 207.7,513.2 208.0,511.9 208.5,510.8 209.8,509.9 211.0,510.2 212.6,508.5 212.9,507.6 213.1,507.1 213.2,506.4 213.3,505.1 213.6,504.1 213.9,503.0 214.6,501.7 215.4,500.5 216.1,499.2 216.4,497.9 216.7,496.8 217.9,495.7 219.0,494.3 219.2,492.9 219.6,491.7 220.3,490.5 220.8,489.5 221.3,488.2 221.4,486.7 221.8,485.5 222.6,484.6 223.0,483.4 223.2,481.9 223.8,480.5 224.2,479.1 224.2,477.7 224.6,476.5 225.4,475.7 226.3,474.8 226.6,473.9 226.5,472.9 226.7,472.0 227.7,470.4 229.0,469.6 230.2,468.9 230.7,468.4 230.9,467.6 231.4,466.9 232.4,466.1 233.4,465.1 234.2,464.2 234.7,463.3 235.2,461.5 235.8,459.8 235.9,459.3 236.0,458.0 236.5,456.4 237.0,455.1 236.9,453.4 236.8,451.4 237.0,449.8 237.5,448.4 237.6,446.9 237.4,445.5 237.6,444.4 238.1,443.1 238.4,442.0 238.5,441.7 238.6,441.4 239.3,441.3 239.7,442.4 239.5,444.0 239.9,445.3 240.6,446.8 241.0,449.1 241.1,451.6 241.1,453.9 241.2,455.5 241.6,456.4 242.0,457.2 242.3,457.8 242.9,457.3 243.0,456.4 243.0,455.7 243.3,455.3 243.3,454.5 243.4,453.5 244.0,452.6 244.5,451.2 244.8,449.9 244.9,448.5 244.9,447.3 245.4,445.9 245.8,444.1 245.6,442.5 245.7,441.0 246.2,439.4 246.4,437.4 246.2,435.4 246.0,433.9 246.3,432.6 246.8,430.8 247.0,429.2 246.9,428.1 247.2,426.6 247.8,425.0 248.0,423.7 248.2,422.2 248.7,420.7 248.9,419.8 249.2,418.9 249.4,417.8 249.3,416.8 249.6,416.0 250.0,415.5 250.3,414.9 250.4,414.6 250.6,415.2 251.1,416.0 251.3,416.0 251.6,416.0 252.0,417.2 252.2,418.8 252.4,420.1 252.6,421.6 252.4,423.5 252.3,425.2 252.9,426.9 253.3,428.6 253.5,430.5 253.7,432.6 254.0,434.7 254.3,436.7 254.6,438.3 254.6,439.6 254.6,441.0 254.9,442.4 254.9,443.5 255.0,444.4 255.2,444.9 255.5,445.2 255.8,445.4 256.1,444.9 256.3,444.4 256.4,444.0 256.5,442.9 256.5,441.8 256.8,440.7 257.3,439.5 257.8,438.5 258.2,437.1 258.5,435.8 258.0,434.4 257.7,432.8 257.9,431.1 258.4,429.3 258.9,427.6 258.9,425.8 258.8,424.0 259.4,422.6 259.8,421.4 259.9,419.5 259.7,417.8 259.6,416.0 259.8,413.9 260.2,412.6 260.7,411.7 261.0,410.5 261.2,409.4 261.2,408.9 261.2,408.4 261.1,408.3 261.3,408.1 261.6,408.0 261.7,408.3 262.0,408.8 262.6,409.8 263.0,410.8 263.0,412.2 263.1,413.5 263.3,414.8 263.5,416.4 263.7,418.0 263.9,419.7 263.9,422.1 263.8,424.1 263.9,425.7 263.9,427.5 264.2,429.0 264.7,430.5 264.7,432.3 265.0,434.3 265.3,435.9 265.3,437.4 265.4,438.5 265.6,439.2 265.6,440.1 265.7,440.6 266.4,440.8 266.7,441.4 266.5,441.2 266.5,440.3 266.8,439.9 266.8,439.2 266.7,438.1 267.0,437.2 267.4,436.0 267.5,434.3 267.6,432.6 267.8,431.4 268.2,429.9 268.4,428.1 268.3,426.2 268.2,424.7 268.4,423.2 268.7,421.1 268.8,419.1 268.9,417.5 269.0,415.9 269.2,413.9 269.6,412.1 269.7,410.6 269.5,409.4 269.3,408.1 269.7,406.5 270.4,405.3 270.8,404.9 270.8,404.1 270.8,403.3 271.2,403.4 271.3,403.8 271.3,403.8 271.5,403.9 271.8,404.5 272.0,405.1 271.9,405.7 272.4,406.9 272.7,408.5 272.7,409.9 273.3,411.1 273.8,412.4 274.1,413.7 274.3,415.5 274.5,417.5 275.0,419.2 275.3,420.6 275.4,422.0 275.6,424.1 275.7,426.1 275.8,427.7 276.2,429.4 276.7,431.0 276.8,432.5 277.2,434.5 277.7,436.4 277.9,437.7 278.0,438.4 278.6,439.4 279.2,440.8 279.3,442.0 279.1,442.7 279.3,443.4 280.1,444.2 280.6,444.7 280.5,444.6 280.6,444.0 281.0,443.8 281.5,443.5 281.6,442.9 281.5,442.1 281.7,441.0 282.2,439.6 282.5,438.4 282.5,437.3 282.8,435.8 283.3,434.2 283.7,432.4 283.7,430.4 284.0,428.4 284.0,426.6 283.9,424.9 284.6,423.3 285.2,421.6 285.0,419.9 285.1,418.1 285.4,416.2 285.5,414.4 285.2,412.9 285.4,411.8 286.2,410.5 286.5,409.2 286.1,408.4 286.0,407.4 286.4,406.4 287.2,405.8 287.5,405.4 287.5,405.5 287.9,405.5 288.3,405.8 288.5,406.6 288.5,407.1 289.1,407.9 289.4,409.2 289.4,410.2 289.7,411.0 289.7,412.4 289.5,413.9 289.5,415.2 289.6,416.9 290.1,418.7 290.5,420.5 290.7,422.3 290.8,423.9 291.0,425.5 290.9,427.5 290.6,429.7 290.7,431.3 291.2,432.4 291.8,433.9 292.0,435.9 292.1,437.4 292.4,438.8 292.8,440.3 293.0,441.6 292.7,442.9 292.2,443.5 292.7,444.1 293.8,445.0 294.3,445.6 294.0,445.9 293.9,446.3 294.2,446.5 294.4,446.1 294.4,445.5 294.5,444.9 294.8,443.9 295.2,442.8 295.6,441.5 295.9,440.1 296.3,438.9 296.7,437.2 296.9,435.4 297.1,433.8 296.7,432.0 296.4,430.2 296.5,428.6 296.9,426.3 297.5,424.2 297.8,422.4 298.0,420.5 298.4,418.9 298.6,417.4 298.7,415.9 298.8,414.6 298.7,413.1 298.6,411.7 299.2,410.6 300.0,409.7 300.3,409.3 300.4,408.7 300.7,408.3 301.1,408.7 301.3,409.1 301.3,409.1 301.4,409.2 301.5,409.7 301.9,410.7 302.1,411.3 302.2,411.6 302.3,412.4 302.4,413.7 302.8,414.5 303.5,415.1 303.8,416.7 303.8,418.3 304.0,419.7 304.2,421.0 304.1,422.5 304.0,424.1 304.5,425.6 305.2,427.0 305.2,428.5 305.2,430.2 305.9,431.7 306.4,433.1 306.2,434.9 306.2,436.8 306.5,438.6 306.4,440.2 306.2,441.8 306.5,443.2 307.0,444.7 307.2,446.6 307.4,448.4 307.5,449.9 307.7,451.4 308.0,452.9 308.2,454.5 308.5,456.1 308.7,457.6 308.7,458.9 308.9,459.6 309.4,460.5 310.0,461.9 310.0,463.1 310.1,464.7 310.5,465.7 310.8,465.8 310.9,466.3 311.1,467.2 311.3,467.9 311.2,468.2 311.1,468.3 311.2,468.8 311.6,468.9 311.9,468.5 312.2,467.8 312.4,466.9 312.8,465.7 313.1,464.1 313.0,462.7 313.1,461.1 313.4,459.5 313.6,458.0 314.0,456.4 314.4,454.3 314.5,452.2 314.5,450.3 314.7,448.4 315.1,446.1 315.3,443.8 315.4,441.9 315.7,440.2 316.0,438.7 316.1,437.4 316.2,436.0 316.4,434.8 316.5,433.5 316.8,432.5 317.0,432.3 317.1,432.3 317.4,431.9 318.0,431.5 318.2,431.8 318.5,432.7 318.7,433.4 318.7,433.8 319.3,434.4 319.6,435.0 319.3,435.9 319.2,437.4 319.5,438.6 319.8,439.6 320.3,440.4 320.9,441.6 321.0,443.4 320.6,444.9 320.2,445.8 320.5,447.2 321.1,448.9 321.2,450.6 321.3,452.0 321.6,452.9 321.7,454.4 322.2,456.6 322.8,458.3 322.8,459.4 322.9,461.0 323.7,462.8 324.3,464.8 324.2,466.8 324.3,468.1 324.5,469.2 324.4,471.2 324.7,473.5 325.0,475.4 325.2,476.7 325.4,478.1 325.9,479.5 326.5,480.8 326.5,481.9 326.3,483.1 326.4,484.5 326.7,485.9 326.8,486.9 327.1,487.9 327.5,488.9 327.8,489.6 328.1,490.4 328.4,491.2 328.5,491.7 328.3,492.1 328.2,492.6 328.6,493.1 329.5,493.4 330.3,493.3 330.8,492.9 330.5,492.2 330.4,491.2 330.9,490.0 331.2,488.8 331.3,487.6 331.6,486.2 332.2,484.6 332.5,482.7 332.4,480.7 332.5,478.8 332.7,477.1 332.9,475.2 332.7,472.9 332.6,470.3 333.3,468.2 333.9,466.7 333.9,464.9 333.9,462.8 334.6,460.9 335.3,459.6 335.7,458.3 335.7,457.0 335.8,456.2 336.1,455.7 336.3,455.1 336.7,454.7 337.0,454.5 337.2,454.5 337.6,455.1 337.8,455.6 338.1,456.0 338.4,456.7 338.5,457.3 338.5,457.8 338.5,458.4 338.5,459.2 338.9,460.0 339.0,460.7 338.6,461.3 338.9,462.7 339.7,464.2 340.0,465.1 340.1,466.1 340.0,467.3 340.4,468.4 341.2,469.8 341.3,471.1 341.3,472.1 341.6,473.4 341.7,475.0 341.6,476.3 341.8,477.7 342.1,479.1 342.5,480.2 343.0,481.6 343.4,483.5 343.2,485.3 342.9,486.7 343.1,488.4 343.5,490.1 344.0,491.7 344.1,493.9 344.0,495.9 344.4,497.2 345.1,498.4 345.3,499.5 345.5,500.6 345.4,502.3 345.4,504.4 345.6,506.2 345.5,507.7 345.4,508.9 345.7,510.5 346.1,512.3 346.5,513.8 346.8,514.8 346.6,516.2 346.8,517.8 347.7,519.0 348.0,520.4 347.7,522.1 348.0,523.4 348.2,524.7 348.3,525.7 348.7,526.7 348.9,527.4 349.2,528.3 349.5,529.7 349.6,530.9 349.6,532.0 349.6,532.6 349.8,533.4 350.1,534.4 350.5,535.0 351.0,535.7 350.8,536.4 350.6,536.8 351.0,537.2 351.5,537.6 351.9,537.7 352.4,537.8 352.9,537.4 353.0,536.3 353.1,534.9 353.7,533.7 354.2,532.6 354.5,530.8 354.8,528.7 355.1,526.5 355.4,524.2 356.0,521.9 356.6,519.6 356.8,517.7 357.0,515.9 357.3,513.9 357.5,511.9 357.6,510.1 358.0,509.0 358.7,508.6 359.2,508.0 359.5,507.4 359.9,507.5 360.3,508.6 360.4,509.1 360.8,509.5 361.1,510.1 361.1,510.7 361.3,511.0 362.0,511.3 362.6,512.2 362.9,513.4 362.8,514.7 362.9,515.7 363.4,516.5 363.7,517.4 363.8,518.5 364.3,519.9 364.7,521.4 364.9,522.3 365.0,523.6 364.9,525.6 365.0,526.9 365.3,527.5 365.8,528.7 366.2,530.6 366.5,532.5 366.6,533.8 366.9,535.4 367.2,537.4 367.5,538.7 367.8,539.7 368.0,541.3 368.2,543.0 368.7,544.5 369.2,546.2 369.6,547.8 369.9,549.4 370.1,551.3 370.4,552.8 370.7,553.8 371.1,555.4 371.7,557.1 371.9,558.7 371.7,560.3 371.7,561.5 372.0,562.4 372.2,564.0 372.5,565.8 373.1,567.1 373.3,568.1 373.7,569.3 373.9,570.9 373.7,572.5 374.0,573.7 374.4,574.7 374.9,575.6 375.5,576.2 376.0,576.8 376.2,577.7 376.2,578.6 376.4,579.4 376.5,580.3 376.7,581.0 377.1,581.5 377.2,582.1 377.2,582.4 377.8,582.5 378.5,582.7 379.0,582.8 379.5,582.4 380.0,581.6 380.4,580.8 380.8,579.7 381.0,578.0 381.1,576.0 381.4,574.2 382.0,572.5 382.7,570.4 383.4,568.5 383.9,567.0 384.0,565.0 384.1,562.6 384.5,560.1 385.1,558.2 385.4,556.8 385.8,555.6 386.5,554.3 386.7,552.9 387.0,551.5 387.7,550.8 388.4,550.8 388.9,551.1 389.5,552.0 390.0,552.5 390.4,552.6 390.5,553.3 390.6,554.4 390.7,555.0 391.1,555.1 391.5,555.6 391.7,556.6 391.7,557.5 392.3,558.5 393.2,559.6 393.4,560.8 393.5,561.9 393.7,562.9 394.2,564.2 395.0,565.8 395.3,566.9 395.4,568.1 395.5,569.8 396.3,571.1 397.2,572.3 397.4,573.8 397.6,575.5 398.1,576.9 398.5,578.0 398.6,579.3 399.2,580.9 399.9,582.5 400.0,584.3 400.2,586.1 400.8,587.7 401.3,588.9 401.6,590.4 401.9,592.2 402.3,593.8 402.8,595.2 403.4,596.5 404.0,598.2 404.4,599.8 404.9,601.0 405.1,602.2 405.8,603.3 406.5,604.8 406.6,606.5 406.8,607.9 407.2,608.9 407.6,610.0 408.0,611.2 408.3,612.4 408.7,613.4 409.1,614.1 409.4,614.9 410.1,615.8 410.4,616.5 410.2,617.2 410.2,617.9 410.9,618.5 411.8,618.6 412.2,618.9 412.8,620.1 413.3,621.0 413.9,621.1 415.0,620.7 416.1,620.1 417.0,619.0 417.7,617.6 418.4,615.8 419.3,614.1 420.0,612.6 420.1,610.9 420.8,608.7 422.0,606.6 422.8,605.2 423.0,603.9 423.2,602.6 424.0,601.6 424.9,600.8 425.8,600.1 426.8,599.6 427.2,599.3 427.4,599.7 428.5,600.3 429.7,600.9 430.1,602.1 430.5,603.1 431.5,604.0 432.2,605.2 432.5,606.3 433.2,607.5 434.0,609.0 434.7,610.5 435.4,611.6 435.7,612.9 436.3,614.4 437.0,615.7 437.4,617.0 437.9,618.3 438.5,619.2 438.9,620.1 439.7,621.5 440.5,623.3 440.8,624.7 441.5,625.2 442.2,626.0 442.5,627.6 443.3,629.2 444.2,630.2 444.9,631.2 445.5,632.3 446.0,633.1 446.4,633.9 446.8,634.8 447.1,635.8 448.2,637.3 449.6,638.5 451.0,639.5 452.2,640.5 453.2,641.2 454.0,641.7 455.0,642.0 456.5,641.9 457.9,641.6 458.7,641.8 459.9,642.5 461.4,642.5 462.6,641.6 463.5,641.0 464.9,640.6 466.1,640.0 467.1,639.3 468.3,638.8 469.3,638.3 470.4,637.7 471.7,637.2 472.8,636.5 473.9,635.6 475.0,635.0 476.4,634.8 477.9,634.5 479.2,634.4 480.4,634.8 481.4,635.1 482.1,635.6 482.6,636.2 483.7,636.9 485.2,638.1 486.6,639.1 487.7,639.8 488.9,640.3 490.4,641.3 491.5,642.1 492.3,642.5 493.6,643.2 495.1,644.2 496.5,645.0 497.8,645.4 499.2,646.1 499.9,647.1 500.4,648.0 501.2,648.3" fill="none" stroke="#1d58e2" stroke-width="3.9" stroke-linejoin="round" stroke-linecap="round"/>
<path d="M63.9,652.9 64.6,652.5 65.8,651.9 67.4,651.5 69.2,651.1 70.9,650.7 72.0,650.6 72.9,650.5 74.1,650.4 75.4,650.0 76.4,649.4 78.0,649.0 80.0,648.6 81.1,648.0 81.9,647.6 82.7,647.2 83.7,646.6 85.2,646.5 86.8,646.4 87.8,645.8 88.4,645.2 89.5,644.7 91.1,644.3 92.4,643.9 93.8,643.1 95.0,642.2 95.9,641.8 96.5,641.6 97.3,641.2 99.1,640.2 100.4,639.1 100.7,637.8 101.2,636.6 102.0,636.0 102.4,635.4 103.0,634.1 103.6,632.0 103.4,631.1 103.3,630.1 103.4,628.9 103.1,627.6 102.9,626.6 103.2,625.5 103.8,623.8 104.3,622.4 104.5,621.2 104.8,619.8 105.0,618.8 104.9,617.6 105.0,616.5 105.6,615.3 106.2,613.9 106.5,612.5 106.5,611.2 106.8,610.0 107.1,608.8 106.8,607.6 107.0,606.5 107.9,605.1 108.4,604.1 108.5,602.9 108.8,601.2 109.3,599.8 109.6,598.3 109.9,596.4 110.2,595.0 110.6,593.8 111.1,593.0 111.5,592.0 111.5,590.8 111.8,589.9 113.2,589.2 114.6,590.4 116.2,592.3 117.0,593.4 117.5,594.4 118.2,595.5 119.2,596.6 119.9,597.8 120.2,599.1 120.7,600.3 121.3,601.1 122.3,601.7 123.3,602.5 124.0,603.5 125.4,605.0 127.1,606.1 128.5,606.6 129.6,606.8 130.4,607.2 131.3,607.7 132.5,607.7 133.7,607.2 135.1,606.5 136.5,606.0 137.6,605.7 138.9,605.2 140.0,604.6 140.9,604.0 142.1,603.2 143.4,602.8 144.8,602.3 145.5,601.6 146.1,601.2 147.3,600.1 148.2,598.6 148.5,597.5 149.4,596.1 150.5,595.2 151.5,594.7 152.0,594.2 152.6,593.7 153.9,593.2 155.3,592.4 156.1,591.7 157.2,591.1 158.6,589.9 159.3,588.4 159.7,587.7 160.6,587.1 161.6,586.1 162.6,584.9 163.6,583.6 164.3,582.6 164.8,582.1 165.7,581.3 166.4,580.2 166.9,579.1 167.8,578.0 168.8,577.0 169.7,575.9 170.5,574.9 171.2,573.9 171.7,573.0 172.4,571.7 173.2,570.4 173.8,569.5 174.5,568.3 175.3,567.1 176.0,566.3 176.6,565.4 177.0,564.6 178.0,563.5 179.1,562.8 179.5,562.4 180.7,561.2 182.1,560.0 182.6,559.1 182.9,558.4 183.8,557.3 184.6,556.1 184.9,555.3 185.5,554.2 186.3,552.9 186.7,551.6 187.0,550.1 187.5,548.7 188.0,547.3 188.9,546.1 189.7,545.3 189.9,544.6 190.0,543.4 190.1,542.1 190.3,541.0 191.0,540.2 192.5,539.3 193.1,539.8 194.3,538.7 195.0,537.9 195.5,537.0 195.7,535.6 196.2,534.2 197.0,532.8 197.7,531.2 197.9,529.6 198.1,528.1 198.6,526.9 199.2,525.8 199.7,524.9 201.0,523.8 202.1,524.2 203.4,523.1 203.8,522.4 203.9,521.4 204.2,520.5 204.6,519.3 205.1,517.8 205.3,516.4 205.6,515.0 205.8,513.5 205.8,511.9 206.2,510.3 206.7,509.0 206.9,507.8 207.1,506.9 208.3,505.6 209.7,506.0 211.0,505.0 211.2,504.2 211.5,503.2 212.0,502.2 212.3,501.0 212.3,499.5 212.8,498.0 213.2,496.4 213.4,495.1 213.9,494.3 214.1,493.2 214.2,491.8 214.5,490.6 215.1,489.1 215.5,487.4 215.8,485.8 216.0,484.2 216.5,482.8 217.1,481.5 217.3,480.3 217.4,479.3 217.9,478.3 218.3,477.6 218.5,477.2 218.9,477.6 219.5,479.7 220.1,482.0 220.5,483.2 221.2,482.5 221.4,482.3 221.6,482.1 221.9,481.1 222.1,479.7 222.6,478.5 223.4,477.4 223.7,475.9 223.9,474.0 224.3,472.1 224.5,470.4 225.0,468.9 225.2,467.7 225.3,466.6 225.5,464.9 225.7,463.4 226.1,462.4 226.5,461.4 227.0,460.1 227.3,459.3 228.1,456.8 228.8,455.5 229.5,455.4 230.2,455.5 230.5,456.2 230.9,458.0 231.5,459.8 231.6,460.9 231.7,461.4 232.2,461.4 232.9,461.2 233.4,460.3 234.3,458.8 235.1,457.2 235.3,455.7 235.7,453.9 236.3,452.9 236.6,451.6 236.4,449.9 236.5,448.2 237.2,446.9 237.6,445.9 237.9,444.7 238.1,442.9 238.3,441.0 238.8,439.6 239.2,438.5 239.5,437.6 239.6,436.8 239.7,436.4 240.0,436.6 240.5,437.4 241.3,439.1 241.8,441.6 241.8,444.0 242.2,445.8 242.8,447.3 243.4,448.4 244.2,448.6 245.0,447.4 245.2,446.9 245.4,446.7 245.7,445.8 245.8,444.6 246.0,443.4 245.7,442.2 245.6,441.1 246.1,439.8 246.5,438.4 246.7,436.8 246.7,435.2 246.9,433.5 247.6,431.8 247.7,430.1 247.6,428.5 247.8,427.2 248.0,425.9 248.3,424.1 248.3,422.2 248.6,420.5 249.1,418.9 249.0,417.6 248.8,416.4 248.9,415.3 249.4,414.3 249.9,413.2 250.0,412.5 249.8,411.7 249.9,411.0 250.5,410.5 250.9,410.2 250.9,410.3 251.3,410.7 251.7,411.3 251.8,412.3 252.2,413.5 252.5,414.6 252.6,415.8 252.9,417.3 253.3,419.2 253.4,421.3 253.0,423.1 253.1,424.6 253.8,426.4 254.2,428.3 254.5,430.1 254.8,431.9 255.1,433.8 255.3,435.5 255.6,436.6 255.7,437.8 255.7,438.7 255.7,438.9 256.2,439.3 256.7,439.6 256.7,439.3 256.6,438.6 256.6,438.2 256.8,437.5 257.0,436.4 256.7,435.1 256.8,433.5 257.4,432.5 258.3,431.6 258.9,430.0 259.0,427.9 258.8,426.0 258.8,424.6 259.0,423.3 258.9,421.3 259.2,419.1 259.7,417.6 259.7,416.2 259.8,414.3 260.4,412.6 260.7,411.4 260.9,410.2 261.2,408.9 261.1,407.7 261.0,406.8 261.2,406.2 261.6,405.6 261.7,405.1 261.7,404.8 261.8,405.0 262.1,405.5 262.5,405.9 262.7,406.7 262.9,408.1 262.9,409.4 262.8,410.8 263.3,412.2 263.6,413.6 263.8,415.2 264.2,416.8 264.3,418.8 264.4,420.7 264.6,422.7 264.8,424.9 265.2,426.7 265.5,428.2 265.7,429.9 266.0,431.3 266.4,432.4 266.8,433.4 267.1,434.6 267.1,435.6 267.0,436.1 267.1,436.3 267.5,436.6 267.6,436.7 268.2,436.3 268.6,435.3 268.8,434.4 269.0,433.9 269.1,432.7 269.1,431.3 269.3,430.4 269.7,429.1 269.9,427.3 269.9,425.7 270.0,424.2 270.5,422.2 270.7,420.4 270.9,418.9 271.1,417.0 271.5,415.2 272.0,413.9 272.4,412.2 272.4,410.6 272.6,409.1 272.8,407.5 272.9,406.1 272.9,404.6 273.2,403.0 273.3,401.3 273.5,399.7 274.0,398.7 274.2,398.1 274.1,397.7 274.1,397.2 274.7,396.7 275.5,396.9 275.7,397.2 275.8,397.5 275.9,398.2 275.9,398.6 276.1,399.2 276.5,400.4 276.7,401.8 276.6,402.9 276.6,403.8 277.1,405.5 277.6,407.6 277.8,409.5 277.5,411.3 277.4,412.8 277.8,414.3 278.1,416.5 278.4,418.6 278.7,420.0 278.7,421.8 278.9,423.8 279.4,425.5 279.6,426.8 279.9,428.3 280.3,429.8 280.2,430.9 279.8,431.9 280.1,433.0 280.7,434.0 281.0,434.8 281.2,435.2 281.4,435.5 281.5,435.5 281.6,435.3 281.8,434.9 282.1,434.4 282.4,433.9 282.6,433.4 282.5,432.3 282.4,430.6 282.5,429.2 282.9,428.0 283.3,426.7 283.4,425.3 283.6,423.6 283.8,421.7 284.1,420.0 284.3,418.6 284.2,416.8 284.3,414.5 284.7,412.6 285.2,411.1 285.5,409.3 285.8,407.2 286.0,405.4 286.2,404.1 286.1,402.8 286.4,401.3 286.7,399.9 286.7,398.9 286.6,397.6 286.8,396.5 287.4,395.4 288.0,394.4 287.9,393.7 287.9,393.3 288.2,393.1 288.7,393.3 289.3,393.4 289.1,393.5 289.0,394.2 289.4,394.9 289.5,395.4 289.2,396.2 289.2,397.6 289.7,399.0 290.1,400.0 290.2,401.3 290.1,403.0 290.2,404.8 290.4,405.9 290.7,407.1 291.1,408.8 291.1,410.4 291.0,412.4 291.5,414.8 292.1,416.6 292.1,418.1 291.6,420.3 291.8,422.1 292.3,423.3 292.5,424.9 292.6,426.5 292.9,428.2 293.2,429.9 293.2,431.7 293.2,433.7 293.1,435.1 292.9,435.9 293.2,437.3 293.6,438.4 294.1,439.2 294.1,439.8 293.8,440.3 293.9,441.0 294.3,441.6 294.9,441.8 295.3,441.7 295.1,441.6 295.0,441.6 295.3,441.0 295.5,440.1 295.6,439.6 296.0,438.8 296.5,437.8 296.6,436.7 296.7,435.4 297.1,433.7 297.3,432.2 297.5,430.6 297.6,428.9 297.6,427.1 297.7,425.8 297.6,424.4 297.7,422.5 298.1,420.3 298.8,418.4 299.2,416.6 299.6,414.8 299.5,412.9 299.7,411.3 300.1,409.9 300.2,408.2 300.2,406.3 300.4,404.9 300.6,403.9 300.8,402.4 301.2,400.6 301.5,399.4 301.7,398.6 302.0,397.5 302.0,396.4 302.0,395.9 302.1,395.6 302.4,395.1 302.7,395.1 302.5,395.6 302.8,395.9 303.3,396.4 303.3,397.0 303.4,397.4 303.5,397.8 303.4,398.4 303.3,399.3 303.6,400.4 304.6,401.5 305.1,402.4 304.9,403.3 304.6,404.5 304.5,405.6 304.8,406.9 305.4,408.2 305.7,409.2 305.4,410.9 305.3,413.0 305.7,414.5 306.1,415.6 306.5,417.1 306.5,418.9 306.0,420.6 306.2,422.1 306.8,423.8 306.8,425.7 306.3,426.9 306.3,428.0 307.1,430.0 307.8,432.3 308.0,433.8 308.0,435.3 308.1,437.0 307.9,439.2 307.9,441.2 308.0,442.3 308.1,443.6 308.2,445.3 308.5,446.8 309.0,448.3 309.1,449.8 309.2,451.4 309.5,452.9 309.5,453.9 309.7,455.2 309.8,456.5 309.6,457.4 309.4,458.6 309.6,460.0 310.1,460.9 310.4,461.4 310.7,462.4 310.9,463.8 311.1,464.5 311.0,465.0 310.9,465.7 310.9,465.9 310.8,466.2 311.1,466.5 311.8,466.2 312.1,465.8 311.9,465.2 311.8,464.5 311.9,464.1 312.5,463.6 312.9,462.3 313.1,460.8 313.3,459.0 313.6,457.0 313.7,454.9 314.1,453.1 314.2,451.2 314.7,448.8 315.1,446.6 315.1,445.2 315.2,443.7 315.4,441.6 315.3,439.6 315.4,437.5 315.7,435.7 315.9,433.8 316.0,432.3 316.3,431.5 316.9,430.2 317.7,429.1 317.6,428.8 317.5,428.3 317.9,427.4 318.5,427.5 319.0,428.3 318.9,428.3 318.7,428.2 318.7,428.9 318.9,429.9 319.1,430.8 319.2,431.5 319.6,432.2 319.9,433.0 319.6,434.0 319.6,434.7 319.8,435.4 320.0,436.8 320.4,438.7 320.8,440.1 321.1,440.7 321.2,441.8 321.1,443.5 321.4,445.2 321.7,446.8 321.9,448.0 322.3,449.4 322.5,451.3 322.5,453.2 322.8,454.6 323.1,455.9 322.7,457.5 322.7,459.3 323.1,461.0 323.4,462.8 323.8,464.3 323.9,465.8 323.9,467.7 324.0,469.3 324.2,470.6 324.5,472.1 325.0,474.2 325.1,475.8 325.3,476.6 325.6,477.9 325.8,479.9 326.0,481.6 326.1,483.2 326.4,484.5 326.7,485.6 326.7,486.8 326.8,487.8 327.0,488.7 327.0,489.8 327.4,491.0 327.8,492.1 327.8,492.7 327.5,493.5 327.8,494.4 328.3,494.9 328.4,495.5 328.3,496.1 328.5,496.6 328.8,497.1 329.0,497.5 329.2,497.2 329.8,496.8 330.1,496.5 330.2,496.1 330.2,494.9 330.5,493.5 331.2,492.3 331.7,491.1 331.9,489.5 332.1,487.5 332.2,485.7 332.4,483.7 332.8,481.5 333.3,479.4 333.3,477.5 333.0,475.8 333.2,473.8 333.7,471.5 334.0,469.4 334.4,467.7 335.0,466.0 335.3,464.4 335.7,462.8 335.7,461.3 335.5,460.2 335.8,459.5 336.8,458.8 337.2,458.6 337.6,458.8 338.0,459.1 338.0,459.6 337.8,459.8 337.7,459.9 338.1,460.4 338.4,461.2 338.4,461.9 338.8,462.6 339.2,463.6 339.1,464.7 339.2,465.2 339.4,465.8 339.7,467.0 340.2,468.0 340.2,468.8 340.2,469.7 340.5,470.8 340.8,472.4 340.8,473.7 340.7,474.9 341.1,476.4 341.5,478.0 341.7,479.6 341.7,481.0 341.7,482.4 341.9,483.7 342.3,485.0 342.6,486.5 342.6,488.4 343.0,490.5 343.5,492.1 343.7,493.2 343.6,494.6 343.6,496.4 344.1,498.1 344.6,499.3 344.9,500.6 344.9,502.1 344.8,503.7 345.0,505.9 345.1,508.1 345.2,509.6 345.4,511.0 345.9,512.6 346.4,513.9 346.6,515.0 346.7,516.4 346.8,518.1 346.7,519.2 346.9,520.6 347.3,522.5 347.4,524.2 347.5,525.2 347.9,526.1 348.2,527.4 348.3,528.8 348.3,530.2 348.7,531.3 349.3,532.6 349.5,533.6 349.3,534.4 349.2,535.4 349.6,536.2 350.3,536.6 350.7,537.3 350.5,538.2 350.4,538.9 350.7,539.6 350.8,540.1 351.1,540.2 351.5,541.0 351.7,541.9 352.5,542.0 353.2,541.0 353.5,539.8 353.6,538.6 353.7,537.2 354.3,535.6 355.2,533.7 355.8,531.3 355.9,528.5 356.1,526.1 356.4,524.1 356.6,522.0 356.7,520.0 357.0,518.1 357.6,516.2 358.3,514.4 358.7,513.5 359.1,513.2 359.5,513.1 359.9,513.3 360.6,513.9 360.9,514.2 361.1,515.0 361.8,515.6 362.2,516.0 361.7,516.7 361.7,517.6 362.4,518.9 362.7,519.9 363.0,520.6 363.3,521.4 363.5,522.4 363.6,523.3 363.7,524.0 363.9,525.1 364.3,526.5 364.5,527.9 364.5,529.2 364.7,530.8 365.1,532.6 365.6,533.8 365.6,534.7 365.9,536.2 366.7,538.1 366.9,539.6 366.8,541.0 367.2,542.6 367.7,544.1 368.0,545.4 368.3,546.9 368.5,548.6 369.0,550.2 369.4,551.8 369.5,553.5 369.8,554.9 370.4,556.3 370.6,557.6 370.4,559.3 370.5,561.2 371.1,562.6 371.8,564.1 372.1,565.5 372.2,566.7 372.1,568.2 372.4,569.9 372.8,571.3 373.2,572.8 373.5,574.0 373.6,575.1 373.7,576.5 374.2,577.7 374.6,578.7 374.8,579.6 375.2,580.6 375.3,581.7 375.4,582.7 375.8,583.8 375.9,584.9 376.2,585.6 376.9,586.3 377.4,587.2 377.6,587.5 377.4,587.8 377.2,587.9 377.8,588.2 378.5,588.8 378.9,589.2 379.5,588.7 380.1,587.7 380.7,586.8 381.1,585.5 381.3,583.4 381.5,581.2 381.8,579.2 382.6,577.5 383.1,575.7 383.1,573.7 383.4,571.6 384.1,569.3 384.7,567.3 385.2,565.5 385.5,564.1 386.0,563.1 386.8,562.1 387.5,561.4 388.1,561.0 388.6,560.9 388.8,561.5 389.1,562.1 389.8,562.6 390.1,562.8 390.3,563.4 390.7,564.0 391.4,564.6 391.7,566.2 391.8,567.8 392.2,568.2 392.5,568.7 392.9,569.7 393.3,570.6 393.5,571.9 394.3,573.0 395.1,574.3 395.4,576.2 395.8,577.9 396.3,579.1 396.7,580.4 396.9,581.6 397.4,582.6 398.0,583.9 398.3,585.5 399.0,587.2 399.6,588.9 399.7,590.2 400.0,591.2 400.6,592.7 401.2,594.8 401.6,596.5 401.9,598.1 402.4,599.8 403.1,601.0 403.3,602.1 403.4,603.2 404.3,604.6 405.1,606.3 405.5,607.9 406.0,608.9 406.3,609.9 406.3,611.4 406.6,613.1 407.1,614.3 407.4,615.2 407.9,616.2 408.5,617.5 408.9,618.6 409.5,619.6 410.0,620.6 410.1,621.4 410.4,621.8 410.9,622.1 411.4,622.6 411.6,622.8 412.1,623.6 413.1,624.2 414.4,624.3 415.1,623.7 415.8,622.8 416.8,621.8 417.5,620.5 417.9,618.9 418.8,616.9 419.7,614.9 420.4,613.2 421.2,611.8 421.8,610.2 422.4,608.5 423.1,607.6 423.9,607.0 424.3,606.3 424.7,606.2 425.5,606.3 426.1,606.5 426.6,607.2 427.6,607.8 428.4,608.5 429.2,609.6 430.0,610.6 430.7,611.6 431.5,613.0 432.2,614.4 432.8,615.8 433.5,617.2 434.4,618.3 435.0,619.6 435.4,621.0 436.0,622.4 436.8,623.6 437.5,624.9 438.2,626.4 438.9,627.6 439.5,628.5 440.2,629.7 441.0,630.9 441.6,631.9 442.1,633.0 442.6,634.2 443.0,635.7 443.5,637.0 443.8,637.9 444.4,638.7 445.2,639.8 445.9,641.2 446.1,642.1 446.1,643.1 446.8,643.8 448.4,644.6 449.4,645.6 450.1,646.7 451.4,647.2 453.1,647.5 454.5,648.0 455.7,648.6 456.7,648.9 457.6,649.2 458.8,649.6 460.2,649.8 461.5,649.7 462.4,649.5 463.3,649.0 464.6,648.4 466.1,647.7 467.3,646.9 468.5,646.3 469.9,646.1 471.1,645.8 471.7,645.0 472.7,644.0 474.1,643.1 475.1,642.1 475.9,641.5 477.0,641.3 478.1,641.5 479.5,641.3 480.4,641.1 481.4,641.5 482.8,642.0 484.0,642.4 484.8,642.7 485.9,643.0 487.4,643.9 488.6,644.7 489.8,645.3 490.8,645.9 491.6,646.6 492.6,647.4 494.2,648.2 495.7,648.9 497.0,649.2 498.0,649.6 499.1,650.7 500.1,651.5 500.7,651.8 501.3,652.3" fill="none" stroke="#22a012" stroke-width="3.9" stroke-linejoin="round" stroke-linecap="round"/>
<path d="M70.8,651.4 71.8,651.2 72.5,650.9 73.4,650.2 74.7,649.4 76.0,648.9 77.3,648.2 78.7,647.6 80.0,647.3 80.9,646.5 81.9,645.4 83.3,644.8 84.7,644.3 85.8,643.5 86.9,642.6 88.2,641.9 89.1,641.3 90.2,640.8 91.3,640.4 92.4,639.6 93.5,638.5 94.7,637.9 95.9,637.3 97.0,636.4 97.9,635.5 98.8,634.5 99.4,633.7 100.1,633.2 101.1,632.5 102.0,631.4 102.6,630.2 103.3,629.0 104.2,627.9 104.6,627.1 104.5,626.5 105.2,625.6 106.3,624.3 106.7,623.1 107.2,622.1 107.9,620.9 108.6,619.5 109.2,617.8 109.1,616.9 109.0,615.7 109.2,614.4 109.7,613.3 109.8,612.2 109.8,611.2 110.1,609.9 110.6,608.6 110.7,607.4 110.7,606.2 111.0,605.1 111.1,603.9 111.2,602.2 111.7,600.5 111.9,599.0 111.8,597.9 112.1,597.1 112.5,595.8 112.9,594.4 112.8,593.1 112.7,591.9 112.9,591.0 113.3,589.4 113.8,588.0 114.4,587.0 115.1,586.5 115.6,585.7 115.9,584.8 116.2,583.6 116.2,581.9 116.0,580.1 116.1,579.0 116.4,577.9 116.7,577.0 116.7,576.0 117.0,574.8 117.3,573.5 117.0,572.2 116.9,571.0 117.2,569.7 117.3,568.3 117.3,566.8 117.6,565.2 118.0,563.9 118.2,562.8 118.2,561.3 118.2,559.6 118.5,558.5 118.6,557.5 118.4,556.5 118.4,555.5 118.6,554.4 118.7,552.9 119.1,551.6 119.5,550.2 119.5,548.7 119.8,547.3 120.3,546.0 120.4,544.5 120.5,543.3 120.8,542.6 121.2,542.1 121.2,541.3 121.2,540.2 122.3,538.3 123.5,538.0 124.7,537.6 126.1,536.8 127.6,536.3 129.1,535.6 129.8,534.7 130.7,533.6 131.7,532.5 132.4,531.3 133.1,530.2 133.8,529.2 134.2,528.1 134.9,526.8 135.8,525.7 136.7,524.6 137.2,523.5 137.7,522.8 138.5,522.2 139.9,521.2 141.4,520.4 142.6,519.7 143.5,518.8 144.4,517.7 145.7,516.6 146.8,515.6 147.6,515.1 148.6,514.5 149.9,513.7 150.8,513.1 151.9,512.3 153.5,511.6 155.1,511.1 156.5,510.0 157.1,509.3 157.6,508.8 158.2,508.0 158.8,506.8 159.5,505.7 160.4,504.4 161.6,503.2 162.8,502.3 163.8,501.4 164.5,500.8 165.2,500.2 165.9,499.3 166.7,497.9 167.4,496.8 168.0,496.2 168.8,495.3 169.7,494.2 170.7,492.9 171.5,491.6 171.9,490.3 172.6,489.2 173.1,488.2 174.1,487.1 175.6,486.2 177.1,485.4 178.4,485.2 179.7,485.2 181.1,483.8 181.6,482.6 182.1,481.2 182.9,479.7 183.4,478.3 183.6,477.1 183.9,476.1 184.5,475.0 185.3,473.9 186.1,473.2 186.9,473.5 187.6,475.3 188.6,476.9 189.6,476.9 189.8,476.8 190.3,476.0 190.7,474.5 191.1,472.9 191.8,471.2 192.7,469.7 193.2,468.5 193.2,467.2 193.6,465.6 194.3,464.4 195.0,463.3 195.5,462.2 195.5,461.5 196.2,461.4 197.3,463.2 197.9,465.4 198.4,465.4 198.9,464.8 199.0,464.0 199.0,462.8 199.4,461.2 199.7,459.4 199.8,457.7 200.0,456.1 200.1,454.4 200.4,452.8 201.1,451.5 201.6,450.3 201.8,449.0 202.2,448.3 202.3,448.1 202.6,448.2 203.2,449.5 203.8,451.5 204.1,453.3 204.6,455.3 205.2,457.1 205.7,457.1 206.0,456.1 206.6,455.2 207.1,454.5 207.5,453.2 207.8,451.6 208.3,449.9 209.1,448.0 209.5,446.2 209.6,444.6 209.7,443.1 210.0,441.7 210.6,440.4 211.3,439.3 211.7,438.6 211.9,438.1 212.3,438.4 212.9,439.3 213.5,440.8 213.7,443.2 213.6,445.5 213.8,447.3 214.4,449.1 214.9,450.5 215.2,451.1 215.6,450.8 215.9,450.1 216.1,449.2 216.3,448.2 216.7,447.3 217.0,446.5 217.3,445.2 217.7,443.5 217.9,441.6 218.0,439.8 218.1,438.3 218.3,436.6 218.7,434.9 219.2,433.2 219.4,431.5 219.6,430.2 219.9,429.3 220.0,428.8 219.9,428.2 220.3,427.8 220.7,428.0 220.8,428.8 221.1,429.9 221.7,431.5 222.1,433.2 222.3,434.9 222.5,436.9 222.6,438.7 222.7,440.3 223.2,442.2 223.5,443.9 223.7,444.4 223.8,444.7 224.1,444.9 224.4,444.8 224.4,444.3 224.5,443.7 224.9,442.6 225.3,441.1 225.7,439.9 225.9,438.6 226.2,436.8 226.7,434.8 227.2,432.9 227.4,431.0 227.6,429.5 228.0,428.0 228.4,426.5 228.7,425.0 228.9,423.4 228.9,422.2 228.7,421.4 228.7,420.6 229.0,420.1 229.6,420.0 230.0,420.3 230.2,421.1 230.7,421.6 231.1,422.1 230.9,423.3 231.1,424.9 231.5,426.6 231.4,428.5 231.7,430.5 232.3,432.4 232.8,433.9 232.9,435.4 233.0,437.1 233.3,439.0 233.4,440.6 233.6,441.9 234.0,442.9 234.2,443.9 234.5,444.8 234.7,445.3 234.8,445.4 235.1,445.2 235.4,444.8 235.7,444.0 235.8,443.0 235.8,441.9 236.0,440.5 236.2,438.5 236.6,436.5 236.9,434.9 236.8,433.3 236.9,431.7 237.6,430.0 238.2,428.0 238.5,426.0 238.6,424.8 238.8,423.5 238.8,422.2 239.1,421.3 239.3,420.7 239.3,420.2 239.6,419.7 240.2,420.2 240.5,420.9 240.6,421.1 240.7,421.8 240.8,423.1 241.0,424.7 241.0,425.9 241.1,427.3 241.8,429.1 242.1,430.8 241.8,432.2 241.8,433.8 242.4,435.6 242.8,437.5 243.1,439.1 243.3,440.7 243.6,442.2 243.8,443.6 243.9,444.8 244.3,445.8 244.7,446.8 245.1,447.8 245.2,448.4 245.5,448.7 245.8,448.6 245.9,448.1 246.0,447.1 246.5,445.8 246.9,444.4 247.0,442.8 247.2,441.0 247.4,439.1 247.7,437.1 248.3,435.2 248.7,433.3 248.9,431.5 249.2,430.4 249.3,429.1 249.7,428.1 250.1,427.8 250.6,427.8 250.8,428.0 250.7,428.7 251.0,429.4 251.7,430.2 252.0,431.5 252.1,433.0 252.2,434.1 252.5,435.4 252.9,437.2 253.2,439.1 253.3,441.0 253.4,442.4 253.7,443.9 253.9,445.7 254.1,447.9 254.5,449.6 255.0,450.5 255.7,451.1 255.9,452.2 255.8,453.6 256.0,454.6 256.2,454.9 256.5,455.0 257.0,454.9 257.4,454.7 257.9,453.8 257.7,452.3 257.5,450.9 257.9,449.7 258.2,447.8 258.4,446.2 258.8,445.0 259.1,443.1 259.1,441.1 259.1,439.3 259.4,437.6 259.8,435.8 259.8,434.2 259.9,433.0 260.4,432.3 261.1,431.7 261.5,431.4 261.5,431.2 261.7,431.4 262.2,431.9 262.2,432.5 262.2,433.6 262.4,434.6 262.6,435.7 263.0,437.0 263.4,438.0 263.5,439.2 263.6,440.8 263.9,442.8 264.0,444.4 264.1,445.5 264.4,447.1 264.5,449.1 264.3,450.9 264.7,452.6 265.1,454.0 265.6,455.5 265.9,456.9 265.6,458.5 265.7,460.0 266.0,461.2 266.1,462.3 266.3,463.5 266.6,464.3 266.5,464.8 266.7,465.6 267.1,466.2 267.4,466.8 268.0,467.1 268.3,466.5 268.5,465.7 269.0,464.6 269.5,463.1 269.7,461.0 270.1,458.7 270.4,456.6 270.4,454.6 270.7,452.7 271.2,450.9 271.7,449.5 272.3,448.6 272.6,448.2 272.9,448.1 273.7,448.6 274.1,448.8 274.3,449.4 274.4,450.2 274.4,450.7 274.4,451.5 274.6,452.9 274.9,454.2 275.1,455.0 275.4,456.0 275.6,457.3 275.6,458.6 275.6,459.9 275.6,461.5 276.0,463.0 276.8,464.5 276.8,466.0 276.7,467.4 277.0,468.9 277.4,470.6 277.7,472.3 278.1,474.0 278.5,475.7 278.3,477.2 278.0,478.7 278.2,480.2 278.3,481.7 278.4,483.3 278.9,485.0 279.3,486.5 279.4,487.9 279.6,489.3 279.8,490.8 280.0,492.0 280.3,492.9 280.4,493.9 280.4,494.9 280.3,496.0 280.6,497.1 281.1,498.3 281.1,499.1 280.8,499.7 280.9,500.3 281.4,500.7 281.9,501.0 282.4,500.9 282.7,500.4 283.0,499.3 283.6,497.8 283.9,495.9 283.8,493.7 284.1,491.6 284.6,489.7 284.8,487.6 285.0,485.0 285.2,482.9 285.6,481.8 286.1,481.1 286.5,480.7 286.9,481.0 287.3,481.5 287.5,482.1 287.6,483.0 287.9,483.7 288.1,484.4 288.4,485.4 288.4,486.6 288.7,487.9 289.0,489.4 289.0,491.0 289.3,492.3 289.7,493.6 289.9,495.1 290.2,497.0 290.5,499.1 291.0,500.6 291.4,502.0 291.4,503.7 291.6,505.5 291.9,507.0 292.2,508.5 292.7,509.9 293.0,511.4 292.8,512.8 293.0,513.9 293.4,515.1 293.4,516.4 293.3,517.6 293.6,518.5 294.3,519.1 294.5,519.6 294.4,520.0 294.7,520.4 295.4,521.1 295.9,520.9 296.4,520.1 296.7,518.9 296.9,517.7 297.2,516.3 297.5,514.2 297.7,512.1 297.7,509.8 298.1,507.4 298.9,505.6 299.4,504.2 299.8,502.8 300.1,502.1 300.7,501.3 301.3,500.5 301.8,500.7 301.8,501.2 301.8,501.6 302.0,502.4 302.4,503.3 302.6,504.2 302.7,505.2 303.1,506.0 303.4,507.0 303.9,508.5 304.2,510.2 304.3,511.9 304.7,513.5 305.0,514.9 305.2,516.4 305.2,518.1 305.2,519.7 305.4,521.2 305.7,522.6 306.2,524.2 306.7,526.1 307.0,528.0 307.1,529.6 307.2,530.9 307.5,532.4 307.9,533.6 308.1,534.8 308.3,536.2 308.7,537.6 309.0,538.9 309.0,540.0 308.9,540.9 309.2,541.5 309.8,542.0 310.3,542.6 310.7,543.3 311.0,543.6 311.1,543.1 311.1,542.6 311.6,541.7 312.4,539.7 313.0,537.7 313.5,535.9 314.2,533.8 314.7,531.9 314.9,530.2 315.4,528.6 315.9,526.9 316.2,525.5 316.7,524.9 317.3,524.8 318.1,525.0 318.0,525.0 318.0,525.4 318.6,526.4 319.1,527.7 319.3,528.4 319.6,529.2 320.1,530.3 320.2,531.3 320.2,532.6 320.8,534.0 321.2,535.4 321.5,537.0 321.7,538.6 321.9,540.3 322.1,542.0 322.1,543.7 322.4,545.6 322.8,547.2 323.0,548.7 323.3,550.5 323.7,552.1 324.2,553.7 324.5,555.2 324.9,556.3 325.4,557.4 325.8,558.8 326.1,560.0 326.3,560.9 326.7,561.9 327.0,562.8 327.3,563.5 327.7,564.1 328.2,564.3 328.5,564.4 328.6,564.5 328.6,564.3 329.0,563.8 329.6,563.0 330.2,561.9 330.3,560.7 330.1,559.2 330.4,557.6 331.0,556.1 331.6,554.2 332.0,552.4 332.4,550.7 332.7,548.6 332.9,546.7 333.1,545.2 333.8,543.5 334.5,541.8 335.0,540.2 335.4,538.3 335.7,537.0 335.7,536.7 336.1,536.2 336.8,535.7 336.9,535.6 337.1,535.4 337.5,535.8 337.8,536.4 338.0,536.6 338.5,537.1 339.1,538.0 339.4,539.1 339.5,540.1 339.7,541.3 339.9,542.6 340.2,543.7 340.9,544.9 341.1,546.2 341.2,547.5 341.5,548.8 342.0,550.2 342.6,551.9 342.7,553.6 342.8,555.1 343.2,556.7 343.7,558.1 344.1,559.5 344.4,561.3 344.8,563.0 345.4,564.5 345.7,566.0 346.1,567.4 346.5,568.9 346.5,570.6 346.2,572.0 346.6,573.2 347.4,574.6 347.8,576.0 347.9,577.2 348.1,578.5 348.7,579.5 349.3,580.2 349.5,581.1 349.7,582.1 350.0,582.8 350.3,583.4 350.3,583.9 350.9,584.3 351.8,584.1 352.5,583.7 353.0,582.4 353.7,580.9 354.5,579.2 355.0,577.3 355.3,575.4 355.6,573.3 356.0,571.0 356.3,569.0 357.0,567.6 357.6,566.1 358.3,564.7 359.2,564.1 360.0,564.2 360.6,564.7 360.8,565.1 361.3,565.7 361.7,566.2 361.6,566.8 361.7,567.6 362.2,568.6 362.8,569.5 363.2,570.5 363.8,571.7 364.4,573.0 364.7,574.2 364.7,575.3 365.0,576.7 365.7,578.1 366.4,579.7 366.6,581.3 366.6,583.2 367.3,585.0 368.1,586.1 368.6,586.9 368.7,588.5 369.2,590.3 369.7,591.9 369.9,593.6 370.5,595.1 371.0,596.5 371.4,597.8 371.7,599.1 371.8,600.5 372.1,601.7 372.6,602.9 373.4,604.2 374.2,605.5 374.7,606.4 374.8,607.2 374.8,608.1 375.2,608.8 375.8,609.3 376.4,609.8 376.8,610.5 377.1,611.3 377.5,611.3 378.3,610.4 379.0,609.3 379.7,608.2 380.3,607.1 380.7,605.6 381.2,603.7 382.0,601.8 382.6,600.1 382.8,598.3 383.3,596.5 383.8,594.8 384.2,593.3 385.3,592.1 386.4,591.1 386.9,590.2 387.5,590.0 388.7,590.2 389.4,590.5 389.7,590.8 390.0,591.2 390.4,591.9 390.8,592.9 391.5,593.7 392.3,594.7 393.0,595.8 393.7,596.8 394.4,598.0 395.0,599.4 395.5,600.8 396.3,601.7 397.2,602.7 397.7,603.8 398.2,605.3 398.8,607.3 399.2,609.0 399.7,610.1 400.4,611.5 401.2,612.7 402.1,614.0 402.9,615.5 403.7,617.0 404.3,618.6 404.9,619.9 405.4,620.9 406.0,622.0 406.7,623.3 407.3,624.4 407.9,625.3 408.4,626.3 408.7,627.2 409.3,628.0 410.1,628.9 410.5,629.6 411.0,630.1 411.8,630.5 413.0,631.1 413.7,631.2 414.4,630.9 415.2,630.1 416.0,629.2 416.9,628.0 418.0,626.4 419.3,624.3 420.0,622.4 420.3,621.0 421.0,619.5 421.7,618.2 422.2,617.3 422.9,616.7 424.0,616.5 424.7,616.9 425.2,617.6 426.0,618.0 426.9,618.4 427.8,619.0 429.0,619.8 430.1,621.1 431.0,622.3 431.5,623.4 432.1,624.9 432.7,626.3 433.5,627.3 434.5,628.2 435.3,629.2 436.3,630.3 437.0,631.2 437.5,631.9 438.4,633.1 439.6,634.3 440.9,635.5 441.7,636.5 442.2,637.5 442.8,638.2 443.7,638.8 444.7,639.7 445.6,640.6 446.3,641.2 446.8,641.8 447.9,642.6 449.6,643.4 451.1,644.0 452.3,644.4 453.3,644.8 454.2,645.0 455.3,645.4 457.0,646.1 458.4,646.4 459.3,646.4 460.6,646.9 461.7,647.3 462.2,647.0 463.1,646.7 464.6,646.7 466.3,646.5 467.7,646.4 468.8,646.3 469.5,645.8 470.6,644.8 471.9,644.2 472.9,643.7 474.0,642.9 475.3,642.2 476.5,641.9 477.8,641.7 479.0,641.0 480.1,640.9 481.3,641.5 482.8,641.6 484.1,641.9 485.0,642.6 485.9,643.3 487.1,644.2 488.4,645.2 489.8,645.9 491.2,646.3 492.3,646.8 493.3,647.6 494.7,648.3 496.1,648.8 497.5,649.3 498.8,649.9 499.8,650.6 500.4,651.4 501.0,651.7" fill="none" stroke="#f010d0" stroke-width="3.9" stroke-linejoin="round" stroke-linecap="round"/>
</g>
<rect x="63.3" y="364.6" width="439.7" height="292.9" fill="none" stroke="#000" stroke-width="2.4"/>
<rect x="55.4" y="656.4" width="8" height="2.3" fill="#000"/>
<text x="38.6" y="665.9" style="font-family:'Liberation Sans', sans-serif;font-weight:bold;font-size:24.0px" text-anchor="start" fill="#000">0</text>
<rect x="55.4" y="600.6" width="8" height="2.3" fill="#000"/>
<polygon points="49.05,593.26 46.16,593.26 45.16,594.76 43.35,595.86 41.26,596.36 41.26,598.76 45.35,598.66 45.35,610.16 49.05,610.16" fill="#000"/>
<rect x="55.4" y="544.9" width="8" height="2.3" fill="#000"/>
<text x="38.6" y="554.4" style="font-family:'Liberation Sans', sans-serif;font-weight:bold;font-size:24.0px" text-anchor="start" fill="#000">2</text>
<rect x="55.4" y="489.1" width="8" height="2.3" fill="#000"/>
<text x="38.6" y="498.7" style="font-family:'Liberation Sans', sans-serif;font-weight:bold;font-size:24.0px" text-anchor="start" fill="#000">3</text>
<rect x="55.4" y="433.4" width="8" height="2.3" fill="#000"/>
<text x="38.6" y="442.9" style="font-family:'Liberation Sans', sans-serif;font-weight:bold;font-size:24.0px" text-anchor="start" fill="#000">4</text>
<rect x="55.4" y="377.7" width="8" height="2.3" fill="#000"/>
<text x="38.6" y="387.2" style="font-family:'Liberation Sans', sans-serif;font-weight:bold;font-size:24.0px" text-anchor="start" fill="#000">5</text>
<rect x="62.4" y="657" width="2.3" height="8.6" fill="#000"/>
<text x="56.8" y="687.4" style="font-family:'Liberation Sans', sans-serif;font-weight:bold;font-size:24.0px" text-anchor="start" fill="#000">0</text>
<rect x="123.3" y="657" width="2.3" height="8.6" fill="#000"/>
<polygon points="121.66,670.50 118.75,670.50 117.75,672.00 115.95,673.10 113.86,673.60 113.86,676.00 117.95,675.90 117.95,687.40 121.66,687.40" fill="#000"/><text x="124.5" y="687.4" style="font-family:'Liberation Sans', sans-serif;font-weight:bold;font-size:24.0px" text-anchor="start" fill="#000">0</text>
<rect x="184.3" y="657" width="2.3" height="8.6" fill="#000"/>
<text x="172.2" y="687.4" style="font-family:'Liberation Sans', sans-serif;font-weight:bold;font-size:24.0px" text-anchor="start" fill="#000">2</text><text x="185.5" y="687.4" style="font-family:'Liberation Sans', sans-serif;font-weight:bold;font-size:24.0px" text-anchor="start" fill="#000">0</text>
<rect x="245.3" y="657" width="2.3" height="8.6" fill="#000"/>
<text x="233.2" y="687.4" style="font-family:'Liberation Sans', sans-serif;font-weight:bold;font-size:24.0px" text-anchor="start" fill="#000">3</text><text x="246.5" y="687.4" style="font-family:'Liberation Sans', sans-serif;font-weight:bold;font-size:24.0px" text-anchor="start" fill="#000">0</text>
<rect x="306.4" y="657" width="2.3" height="8.6" fill="#000"/>
<text x="294.2" y="687.4" style="font-family:'Liberation Sans', sans-serif;font-weight:bold;font-size:24.0px" text-anchor="start" fill="#000">4</text><text x="307.5" y="687.4" style="font-family:'Liberation Sans', sans-serif;font-weight:bold;font-size:24.0px" text-anchor="start" fill="#000">0</text>
<rect x="367.4" y="657" width="2.3" height="8.6" fill="#000"/>
<text x="355.2" y="687.4" style="font-family:'Liberation Sans', sans-serif;font-weight:bold;font-size:24.0px" text-anchor="start" fill="#000">5</text><text x="368.5" y="687.4" style="font-family:'Liberation Sans', sans-serif;font-weight:bold;font-size:24.0px" text-anchor="start" fill="#000">0</text>
<rect x="428.4" y="657" width="2.3" height="8.6" fill="#000"/>
<text x="416.2" y="687.4" style="font-family:'Liberation Sans', sans-serif;font-weight:bold;font-size:24.0px" text-anchor="start" fill="#000">6</text><text x="429.5" y="687.4" style="font-family:'Liberation Sans', sans-serif;font-weight:bold;font-size:24.0px" text-anchor="start" fill="#000">0</text>
<rect x="489.4" y="657" width="2.3" height="8.6" fill="#000"/>
<text x="477.2" y="687.4" style="font-family:'Liberation Sans', sans-serif;font-weight:bold;font-size:24.0px" text-anchor="start" fill="#000">7</text><text x="490.5" y="687.4" style="font-family:'Liberation Sans', sans-serif;font-weight:bold;font-size:24.0px" text-anchor="start" fill="#000">0</text>
<text x="205.2" y="714.5" style="font-family:'Liberation Sans', sans-serif;font-weight:bold;font-size:24.0px" text-anchor="start" fill="#000">Mobility (mm)</text>
<text x="0.0" y="0.0" style="font-family:'Liberation Sans', sans-serif;font-weight:bold;font-size:24.0px" text-anchor="start" fill="#000" transform="translate(27.5,609.9) rotate(-90)">Relative Intensity</text>
<rect x="413" y="386.1" width="28.4" height="3.8" fill="#1d58e2"/>
<text x="448.7" y="395.2" style="font-family:'Liberation Sans', sans-serif;font-weight:bold;font-size:24.0px" text-anchor="start" fill="#1d58e2">+/+</text>
<rect x="413" y="414.7" width="28.4" height="3.8" fill="#22a012"/>
<text x="448.7" y="424.2" style="font-family:'Liberation Sans', sans-serif;font-weight:bold;font-size:24.0px" text-anchor="start" fill="#22a012">+/–</text>
<rect x="413" y="443.6" width="28.4" height="3.8" fill="#f010d0"/>
<text x="448.7" y="451.9" style="font-family:'Liberation Sans', sans-serif;font-weight:bold;font-size:24.0px" text-anchor="start" fill="#f010d0">–/–</text>
<rect x="413" y="471.7" width="28.4" height="3.8" fill="#000"/>
<text x="448.7" y="480.5" style="font-family:'Liberation Sans', sans-serif;font-weight:bold;font-size:21.6px" text-anchor="start" fill="#000">NHP</text>
<rect x="413" y="499.0" width="28.4" height="3.8" fill="#b84812"/>
<text x="448.7" y="507.6" style="font-family:'Liberation Sans', sans-serif;font-weight:bold;font-size:21.6px" text-anchor="start" fill="#b84812">TTP</text>
<text x="64.6" y="738.7" style="font-family:'Liberation Sans', sans-serif;font-weight:bold;font-size:24.0px" text-anchor="start" fill="#000">HMW</text>
<text x="444.3" y="738.5" style="font-family:'Liberation Sans', sans-serif;font-weight:bold;font-size:24.0px" text-anchor="start" fill="#000">LMW</text>
<rect x="146" y="730.5" width="278" height="2.8" fill="#000"/>
<polygon points="133.8,731.9 150,725.6 150,738.2" fill="#000"/>
<polygon points="436.5,731.9 420,725.6 420,738.2" fill="#000"/>
</svg>
</body></html>
